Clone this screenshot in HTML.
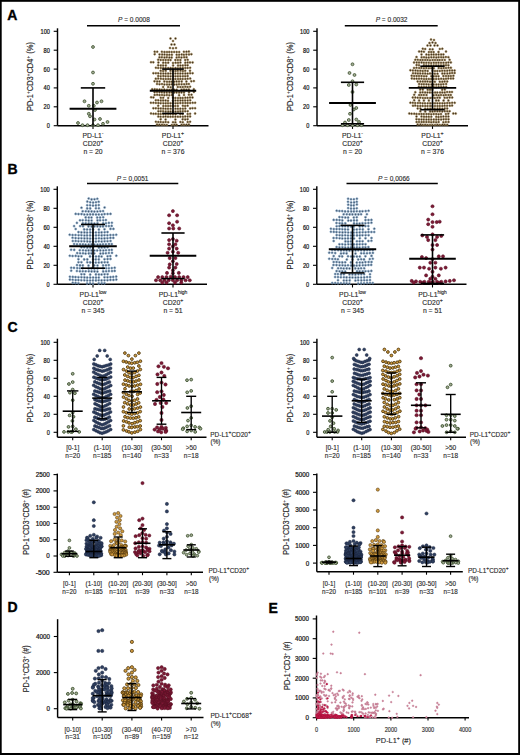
<!DOCTYPE html><html><head><meta charset="utf-8"><style>html,body{margin:0;padding:0;background:#fff;}svg{display:block;}text{font-family:"Liberation Sans", sans-serif;stroke:#2a2a2a;stroke-width:0.13px;}</style></head><body>
<svg width="520" height="755" viewBox="0 0 520 755">
<rect x="0" y="0" width="520" height="755" fill="#fff"/>
<text x="7.3" y="20.4" font-size="14" font-weight="bold" style="stroke:#000;stroke-width:0.35" fill="#000">A</text>
<line x1="57.5" y1="28.3" x2="57.5" y2="125.7" stroke="#000" stroke-width="1.45"/>
<line x1="53.7" y1="125.7" x2="57.5" y2="125.7" stroke="#000" stroke-width="1.1"/>
<text x="49.9" y="128.1" font-size="6.8" text-anchor="end" textLength="3.1" lengthAdjust="spacingAndGlyphs" style="stroke:#141414;stroke-width:0.22" fill="#141414">0</text>
<line x1="53.7" y1="106.8" x2="57.5" y2="106.8" stroke="#000" stroke-width="1.1"/>
<text x="49.9" y="109.2" font-size="6.8" text-anchor="end" textLength="6.3" lengthAdjust="spacingAndGlyphs" style="stroke:#141414;stroke-width:0.22" fill="#141414">20</text>
<line x1="53.7" y1="87.9" x2="57.5" y2="87.9" stroke="#000" stroke-width="1.1"/>
<text x="49.9" y="90.3" font-size="6.8" text-anchor="end" textLength="6.3" lengthAdjust="spacingAndGlyphs" style="stroke:#141414;stroke-width:0.22" fill="#141414">40</text>
<line x1="53.7" y1="69.1" x2="57.5" y2="69.1" stroke="#000" stroke-width="1.1"/>
<text x="49.9" y="71.5" font-size="6.8" text-anchor="end" textLength="6.3" lengthAdjust="spacingAndGlyphs" style="stroke:#141414;stroke-width:0.22" fill="#141414">60</text>
<line x1="53.7" y1="50.2" x2="57.5" y2="50.2" stroke="#000" stroke-width="1.1"/>
<text x="49.9" y="52.6" font-size="6.8" text-anchor="end" textLength="6.3" lengthAdjust="spacingAndGlyphs" style="stroke:#141414;stroke-width:0.22" fill="#141414">80</text>
<line x1="53.7" y1="31.3" x2="57.5" y2="31.3" stroke="#000" stroke-width="1.1"/>
<text x="49.9" y="33.7" font-size="6.8" text-anchor="end" textLength="9.4" lengthAdjust="spacingAndGlyphs" style="stroke:#141414;stroke-width:0.22" fill="#141414">100</text>
<line x1="57.5" y1="125.7" x2="208.5" y2="125.7" stroke="#000" stroke-width="1.45"/>
<line x1="93" y1="125.7" x2="93" y2="128.9" stroke="#000" stroke-width="1.1"/>
<line x1="173" y1="125.7" x2="173" y2="128.9" stroke="#000" stroke-width="1.1"/>
<text transform="translate(33.3,76.6) rotate(-90)" font-size="8.5" text-anchor="middle" fill="#1e1e1e" textLength="69" lengthAdjust="spacingAndGlyphs">PD-1<tspan baseline-shift="3.2" font-size="5.2">+</tspan>CD3<tspan baseline-shift="3.2" font-size="5.2">+</tspan>CD4<tspan baseline-shift="3.2" font-size="5.2">+</tspan> (%)</text>
<line x1="87" y1="25.7" x2="180" y2="25.7" stroke="#000" stroke-width="1.5"/>
<text x="133.9" y="22" font-size="7" text-anchor="middle" fill="#2a2a2a" textLength="31.8" lengthAdjust="spacingAndGlyphs"><tspan font-style="italic">P</tspan> = 0.0008</text>
<g fill="#a2ad94" stroke="#384b29" stroke-width="0.75"><circle cx="93" cy="47" r="1.45"/><circle cx="93" cy="72.5" r="1.45"/><circle cx="93" cy="83.8" r="1.45"/><circle cx="84.5" cy="101.3" r="1.45"/><circle cx="97" cy="102.5" r="1.45"/><circle cx="101.5" cy="101.3" r="1.45"/><circle cx="88.8" cy="105.8" r="1.45"/><circle cx="93.8" cy="105.8" r="1.45"/><circle cx="95" cy="110" r="1.45"/><circle cx="88.8" cy="113.8" r="1.45"/><circle cx="90" cy="116.3" r="1.45"/><circle cx="94.5" cy="119.5" r="1.45"/><circle cx="78" cy="123" r="1.45"/><circle cx="107.5" cy="122" r="1.45"/><circle cx="103" cy="123.8" r="1.45"/><circle cx="82.5" cy="125.2" r="1.45"/><circle cx="87.5" cy="125.2" r="1.45"/><circle cx="93" cy="125.2" r="1.45"/><circle cx="98" cy="125.2" r="1.45"/><circle cx="100" cy="119" r="1.45"/></g>
<g fill="#3a2f23" stroke="#9e804a" stroke-width="0.55"><circle cx="157" cy="124.6" r="1.0"/><circle cx="159.4" cy="124.7" r="1.0"/><circle cx="162" cy="124.7" r="1.0"/><circle cx="164.4" cy="124.9" r="1.0"/><circle cx="166.8" cy="124.9" r="1.0"/><circle cx="171.8" cy="125" r="1.0"/><circle cx="174.3" cy="124.8" r="1.0"/><circle cx="176.6" cy="124.8" r="1.0"/><circle cx="181.6" cy="124.8" r="1.0"/><circle cx="184" cy="124.7" r="1.0"/><circle cx="186.4" cy="124.7" r="1.0"/><circle cx="188.9" cy="124.6" r="1.0"/><circle cx="155.9" cy="121.8" r="1.0"/><circle cx="158.3" cy="122" r="1.0"/><circle cx="160.7" cy="122.1" r="1.0"/><circle cx="163.2" cy="122.2" r="1.0"/><circle cx="165.6" cy="122" r="1.0"/><circle cx="168.2" cy="122.2" r="1.0"/><circle cx="173" cy="122.2" r="1.0"/><circle cx="175.4" cy="122.3" r="1.0"/><circle cx="180.4" cy="122" r="1.0"/><circle cx="182.8" cy="122.2" r="1.0"/><circle cx="187.7" cy="122" r="1.0"/><circle cx="190.1" cy="121.8" r="1.0"/><circle cx="160.7" cy="119.3" r="1.0"/><circle cx="165.6" cy="119.5" r="1.0"/><circle cx="175.4" cy="119.5" r="1.0"/><circle cx="182.7" cy="119.3" r="1.0"/><circle cx="185.2" cy="119.4" r="1.0"/><circle cx="187.6" cy="119.2" r="1.0"/><circle cx="158.3" cy="116.6" r="1.0"/><circle cx="160.6" cy="116.7" r="1.0"/><circle cx="163.3" cy="116.8" r="1.0"/><circle cx="165.6" cy="116.6" r="1.0"/><circle cx="168" cy="116.7" r="1.0"/><circle cx="170.5" cy="116.8" r="1.0"/><circle cx="172.9" cy="116.7" r="1.0"/><circle cx="175.4" cy="116.7" r="1.0"/><circle cx="177.9" cy="116.7" r="1.0"/><circle cx="180.3" cy="116.7" r="1.0"/><circle cx="182.9" cy="116.8" r="1.0"/><circle cx="185.2" cy="116.5" r="1.0"/><circle cx="187.7" cy="116.5" r="1.0"/><circle cx="190.1" cy="116.4" r="1.0"/><circle cx="151" cy="113.4" r="1.0"/><circle cx="153.5" cy="113.8" r="1.0"/><circle cx="155.8" cy="113.7" r="1.0"/><circle cx="158.4" cy="113.9" r="1.0"/><circle cx="160.7" cy="113.9" r="1.0"/><circle cx="163.3" cy="114.1" r="1.0"/><circle cx="165.7" cy="114.1" r="1.0"/><circle cx="168.1" cy="114" r="1.0"/><circle cx="170.4" cy="114" r="1.0"/><circle cx="173" cy="114.2" r="1.0"/><circle cx="175.6" cy="114.2" r="1.0"/><circle cx="180.3" cy="114" r="1.0"/><circle cx="182.7" cy="114" r="1.0"/><circle cx="187.7" cy="113.9" r="1.0"/><circle cx="190.1" cy="113.8" r="1.0"/><circle cx="195.1" cy="113.5" r="1.0"/><circle cx="158.4" cy="111.3" r="1.0"/><circle cx="160.7" cy="111.3" r="1.0"/><circle cx="163.1" cy="111.2" r="1.0"/><circle cx="165.7" cy="111.4" r="1.0"/><circle cx="168.2" cy="111.5" r="1.0"/><circle cx="170.5" cy="111.4" r="1.0"/><circle cx="172.9" cy="111.5" r="1.0"/><circle cx="175.5" cy="111.5" r="1.0"/><circle cx="178" cy="111.5" r="1.0"/><circle cx="180.3" cy="111.3" r="1.0"/><circle cx="182.8" cy="111.2" r="1.0"/><circle cx="185.2" cy="111.3" r="1.0"/><circle cx="187.7" cy="111.2" r="1.0"/><circle cx="153.4" cy="108.3" r="1.0"/><circle cx="155.8" cy="108.3" r="1.0"/><circle cx="158.4" cy="108.4" r="1.0"/><circle cx="160.8" cy="108.5" r="1.0"/><circle cx="163.2" cy="108.6" r="1.0"/><circle cx="165.6" cy="108.7" r="1.0"/><circle cx="168" cy="108.7" r="1.0"/><circle cx="170.6" cy="108.8" r="1.0"/><circle cx="175.5" cy="108.7" r="1.0"/><circle cx="177.9" cy="108.7" r="1.0"/><circle cx="180.3" cy="108.7" r="1.0"/><circle cx="182.9" cy="108.7" r="1.0"/><circle cx="185.3" cy="108.6" r="1.0"/><circle cx="190.1" cy="108.4" r="1.0"/><circle cx="192.5" cy="108.2" r="1.0"/><circle cx="195.1" cy="108.2" r="1.0"/><circle cx="158.2" cy="105.8" r="1.0"/><circle cx="163.3" cy="105.9" r="1.0"/><circle cx="165.8" cy="106" r="1.0"/><circle cx="168.1" cy="106" r="1.0"/><circle cx="170.5" cy="105.9" r="1.0"/><circle cx="172.9" cy="106" r="1.0"/><circle cx="175.3" cy="106" r="1.0"/><circle cx="177.9" cy="105.9" r="1.0"/><circle cx="182.9" cy="105.8" r="1.0"/><circle cx="185.1" cy="105.9" r="1.0"/><circle cx="187.6" cy="105.7" r="1.0"/><circle cx="150.9" cy="102.8" r="1.0"/><circle cx="153.4" cy="102.8" r="1.0"/><circle cx="155.9" cy="102.9" r="1.0"/><circle cx="158.4" cy="103.1" r="1.0"/><circle cx="160.7" cy="103.2" r="1.0"/><circle cx="163.3" cy="103.2" r="1.0"/><circle cx="165.7" cy="103.3" r="1.0"/><circle cx="168" cy="103.3" r="1.0"/><circle cx="170.5" cy="103.2" r="1.0"/><circle cx="172.9" cy="103.3" r="1.0"/><circle cx="175.5" cy="103.2" r="1.0"/><circle cx="177.8" cy="103.2" r="1.0"/><circle cx="180.3" cy="103.1" r="1.0"/><circle cx="182.8" cy="103.1" r="1.0"/><circle cx="185.4" cy="103" r="1.0"/><circle cx="187.7" cy="103.1" r="1.0"/><circle cx="190.1" cy="103" r="1.0"/><circle cx="192.7" cy="102.8" r="1.0"/><circle cx="195.1" cy="102.8" r="1.0"/><circle cx="155.8" cy="100.2" r="1.0"/><circle cx="158.2" cy="100.3" r="1.0"/><circle cx="160.8" cy="100.5" r="1.0"/><circle cx="163.1" cy="100.4" r="1.0"/><circle cx="165.6" cy="100.5" r="1.0"/><circle cx="168" cy="100.7" r="1.0"/><circle cx="172.9" cy="100.7" r="1.0"/><circle cx="175.4" cy="100.5" r="1.0"/><circle cx="177.9" cy="100.6" r="1.0"/><circle cx="180.4" cy="100.4" r="1.0"/><circle cx="182.7" cy="100.5" r="1.0"/><circle cx="185.1" cy="100.4" r="1.0"/><circle cx="187.7" cy="100.4" r="1.0"/><circle cx="190.2" cy="100.3" r="1.0"/><circle cx="151.1" cy="97.3" r="1.0"/><circle cx="153.4" cy="97.4" r="1.0"/><circle cx="160.8" cy="97.8" r="1.0"/><circle cx="163.2" cy="97.8" r="1.0"/><circle cx="168.2" cy="97.9" r="1.0"/><circle cx="173" cy="97.8" r="1.0"/><circle cx="175.4" cy="97.9" r="1.0"/><circle cx="178" cy="97.9" r="1.0"/><circle cx="180.4" cy="97.9" r="1.0"/><circle cx="182.7" cy="97.9" r="1.0"/><circle cx="185.3" cy="97.7" r="1.0"/><circle cx="187.6" cy="97.7" r="1.0"/><circle cx="190" cy="97.5" r="1.0"/><circle cx="192.5" cy="97.5" r="1.0"/><circle cx="154.7" cy="94.9" r="1.0"/><circle cx="157.1" cy="94.8" r="1.0"/><circle cx="159.5" cy="95.1" r="1.0"/><circle cx="162" cy="94.9" r="1.0"/><circle cx="164.4" cy="95.2" r="1.0"/><circle cx="166.9" cy="95.1" r="1.0"/><circle cx="169.3" cy="95.2" r="1.0"/><circle cx="171.9" cy="95.1" r="1.0"/><circle cx="179.1" cy="95.2" r="1.0"/><circle cx="184" cy="95" r="1.0"/><circle cx="188.9" cy="94.8" r="1.0"/><circle cx="191.5" cy="94.7" r="1.0"/><circle cx="154.6" cy="92.2" r="1.0"/><circle cx="157" cy="92.1" r="1.0"/><circle cx="159.5" cy="92.2" r="1.0"/><circle cx="161.9" cy="92.3" r="1.0"/><circle cx="164.3" cy="92.5" r="1.0"/><circle cx="166.8" cy="92.6" r="1.0"/><circle cx="169.4" cy="92.4" r="1.0"/><circle cx="171.7" cy="92.6" r="1.0"/><circle cx="174.2" cy="92.5" r="1.0"/><circle cx="176.6" cy="92.4" r="1.0"/><circle cx="179.1" cy="92.6" r="1.0"/><circle cx="181.5" cy="92.4" r="1.0"/><circle cx="184" cy="92.5" r="1.0"/><circle cx="189" cy="92.3" r="1.0"/><circle cx="193.9" cy="91.9" r="1.0"/><circle cx="152.2" cy="89.3" r="1.0"/><circle cx="154.7" cy="89.3" r="1.0"/><circle cx="157" cy="89.5" r="1.0"/><circle cx="159.6" cy="89.5" r="1.0"/><circle cx="161.9" cy="89.7" r="1.0"/><circle cx="164.3" cy="89.6" r="1.0"/><circle cx="167" cy="89.8" r="1.0"/><circle cx="169.4" cy="89.9" r="1.0"/><circle cx="171.7" cy="89.7" r="1.0"/><circle cx="174.2" cy="89.7" r="1.0"/><circle cx="176.6" cy="89.8" r="1.0"/><circle cx="181.6" cy="89.7" r="1.0"/><circle cx="184" cy="89.6" r="1.0"/><circle cx="186.4" cy="89.7" r="1.0"/><circle cx="188.9" cy="89.5" r="1.0"/><circle cx="193.8" cy="89.2" r="1.0"/><circle cx="163.1" cy="87" r="1.0"/><circle cx="168.1" cy="87" r="1.0"/><circle cx="170.7" cy="87.2" r="1.0"/><circle cx="177.8" cy="87" r="1.0"/><circle cx="180.4" cy="87.1" r="1.0"/><circle cx="182.8" cy="87.1" r="1.0"/><circle cx="185.3" cy="86.8" r="1.0"/><circle cx="187.6" cy="87" r="1.0"/><circle cx="190.1" cy="86.7" r="1.0"/><circle cx="157" cy="84" r="1.0"/><circle cx="159.5" cy="84.2" r="1.0"/><circle cx="162" cy="84.1" r="1.0"/><circle cx="164.4" cy="84.4" r="1.0"/><circle cx="167" cy="84.4" r="1.0"/><circle cx="169.3" cy="84.5" r="1.0"/><circle cx="171.7" cy="84.3" r="1.0"/><circle cx="174.3" cy="84.4" r="1.0"/><circle cx="176.7" cy="84.5" r="1.0"/><circle cx="179" cy="84.3" r="1.0"/><circle cx="181.6" cy="84.2" r="1.0"/><circle cx="184.1" cy="84.3" r="1.0"/><circle cx="186.6" cy="84.1" r="1.0"/><circle cx="188.9" cy="84" r="1.0"/><circle cx="154.5" cy="81.3" r="1.0"/><circle cx="157.1" cy="81.5" r="1.0"/><circle cx="159.5" cy="81.4" r="1.0"/><circle cx="164.3" cy="81.5" r="1.0"/><circle cx="167" cy="81.7" r="1.0"/><circle cx="169.4" cy="81.8" r="1.0"/><circle cx="171.7" cy="81.8" r="1.0"/><circle cx="174.1" cy="81.7" r="1.0"/><circle cx="176.6" cy="81.6" r="1.0"/><circle cx="179" cy="81.6" r="1.0"/><circle cx="181.7" cy="81.5" r="1.0"/><circle cx="186.4" cy="81.6" r="1.0"/><circle cx="191.3" cy="81.3" r="1.0"/><circle cx="193.9" cy="81.1" r="1.0"/><circle cx="155.8" cy="78.7" r="1.0"/><circle cx="158.2" cy="78.6" r="1.0"/><circle cx="160.9" cy="78.8" r="1.0"/><circle cx="163.3" cy="78.9" r="1.0"/><circle cx="165.8" cy="79" r="1.0"/><circle cx="168.2" cy="78.9" r="1.0"/><circle cx="170.4" cy="79.1" r="1.0"/><circle cx="173" cy="79.1" r="1.0"/><circle cx="175.4" cy="79" r="1.0"/><circle cx="178" cy="78.9" r="1.0"/><circle cx="180.3" cy="78.9" r="1.0"/><circle cx="182.7" cy="79" r="1.0"/><circle cx="185.3" cy="78.9" r="1.0"/><circle cx="187.7" cy="78.7" r="1.0"/><circle cx="190.2" cy="78.6" r="1.0"/><circle cx="158.2" cy="75.9" r="1.0"/><circle cx="160.7" cy="76.2" r="1.0"/><circle cx="163.3" cy="76.1" r="1.0"/><circle cx="165.6" cy="76.2" r="1.0"/><circle cx="168.1" cy="76.2" r="1.0"/><circle cx="170.6" cy="76.3" r="1.0"/><circle cx="173.1" cy="76.3" r="1.0"/><circle cx="175.5" cy="76.2" r="1.0"/><circle cx="177.9" cy="76.3" r="1.0"/><circle cx="180.3" cy="76.2" r="1.0"/><circle cx="182.9" cy="76.2" r="1.0"/><circle cx="185.2" cy="76.2" r="1.0"/><circle cx="187.6" cy="76.1" r="1.0"/><circle cx="153.4" cy="73.2" r="1.0"/><circle cx="155.9" cy="73.2" r="1.0"/><circle cx="158.2" cy="73.3" r="1.0"/><circle cx="160.8" cy="73.5" r="1.0"/><circle cx="163.3" cy="73.5" r="1.0"/><circle cx="165.7" cy="73.6" r="1.0"/><circle cx="168.1" cy="73.6" r="1.0"/><circle cx="170.5" cy="73.5" r="1.0"/><circle cx="172.9" cy="73.6" r="1.0"/><circle cx="175.4" cy="73.5" r="1.0"/><circle cx="177.9" cy="73.5" r="1.0"/><circle cx="180.3" cy="73.6" r="1.0"/><circle cx="182.7" cy="73.4" r="1.0"/><circle cx="185.3" cy="73.5" r="1.0"/><circle cx="187.6" cy="73.4" r="1.0"/><circle cx="190.1" cy="73.2" r="1.0"/><circle cx="192.6" cy="73.2" r="1.0"/><circle cx="160.7" cy="70.8" r="1.0"/><circle cx="163.1" cy="70.9" r="1.0"/><circle cx="165.7" cy="70.8" r="1.0"/><circle cx="170.5" cy="70.8" r="1.0"/><circle cx="173" cy="71" r="1.0"/><circle cx="175.5" cy="70.9" r="1.0"/><circle cx="177.8" cy="70.8" r="1.0"/><circle cx="180.5" cy="70.7" r="1.0"/><circle cx="182.9" cy="70.9" r="1.0"/><circle cx="185.2" cy="70.8" r="1.0"/><circle cx="190" cy="70.7" r="1.0"/><circle cx="155.9" cy="67.8" r="1.0"/><circle cx="158.2" cy="67.9" r="1.0"/><circle cx="160.8" cy="68" r="1.0"/><circle cx="163.2" cy="68.1" r="1.0"/><circle cx="165.6" cy="68.1" r="1.0"/><circle cx="168.2" cy="68.1" r="1.0"/><circle cx="170.6" cy="68.1" r="1.0"/><circle cx="172.9" cy="68.2" r="1.0"/><circle cx="175.5" cy="68.1" r="1.0"/><circle cx="177.9" cy="68.2" r="1.0"/><circle cx="180.3" cy="68.1" r="1.0"/><circle cx="182.8" cy="68.1" r="1.0"/><circle cx="185.3" cy="68.1" r="1.0"/><circle cx="187.6" cy="67.9" r="1.0"/><circle cx="190.1" cy="67.8" r="1.0"/><circle cx="158.2" cy="65.3" r="1.0"/><circle cx="160.8" cy="65.4" r="1.0"/><circle cx="163.1" cy="65.4" r="1.0"/><circle cx="165.8" cy="65.4" r="1.0"/><circle cx="173.1" cy="65.4" r="1.0"/><circle cx="178" cy="65.6" r="1.0"/><circle cx="180.4" cy="65.5" r="1.0"/><circle cx="182.8" cy="65.5" r="1.0"/><circle cx="185.3" cy="65.3" r="1.0"/><circle cx="187.6" cy="65.3" r="1.0"/><circle cx="151" cy="62.2" r="1.0"/><circle cx="153.3" cy="62.3" r="1.0"/><circle cx="158.4" cy="62.5" r="1.0"/><circle cx="163.2" cy="62.7" r="1.0"/><circle cx="165.7" cy="62.8" r="1.0"/><circle cx="168.2" cy="62.7" r="1.0"/><circle cx="173" cy="62.9" r="1.0"/><circle cx="175.6" cy="62.8" r="1.0"/><circle cx="178" cy="62.8" r="1.0"/><circle cx="180.4" cy="62.6" r="1.0"/><circle cx="185.3" cy="62.7" r="1.0"/><circle cx="187.7" cy="62.5" r="1.0"/><circle cx="190" cy="62.4" r="1.0"/><circle cx="192.6" cy="62.4" r="1.0"/><circle cx="158.2" cy="59.7" r="1.0"/><circle cx="160.7" cy="59.9" r="1.0"/><circle cx="163.2" cy="60" r="1.0"/><circle cx="165.7" cy="60" r="1.0"/><circle cx="168.2" cy="60" r="1.0"/><circle cx="170.5" cy="60.1" r="1.0"/><circle cx="175.4" cy="60" r="1.0"/><circle cx="177.9" cy="60.1" r="1.0"/><circle cx="180.4" cy="60" r="1.0"/><circle cx="185.2" cy="60" r="1.0"/><circle cx="187.7" cy="59.8" r="1.0"/><circle cx="159.5" cy="57.3" r="1.0"/><circle cx="161.9" cy="57.3" r="1.0"/><circle cx="164.5" cy="57.4" r="1.0"/><circle cx="166.8" cy="57.3" r="1.0"/><circle cx="169.4" cy="57.5" r="1.0"/><circle cx="171.7" cy="57.5" r="1.0"/><circle cx="176.7" cy="57.4" r="1.0"/><circle cx="179" cy="57.3" r="1.0"/><circle cx="181.5" cy="57.4" r="1.0"/><circle cx="184.1" cy="57.3" r="1.0"/><circle cx="186.5" cy="57.2" r="1.0"/><circle cx="154.7" cy="54.2" r="1.0"/><circle cx="159.5" cy="54.4" r="1.0"/><circle cx="162.1" cy="54.6" r="1.0"/><circle cx="164.5" cy="54.6" r="1.0"/><circle cx="167" cy="54.7" r="1.0"/><circle cx="169.4" cy="54.8" r="1.0"/><circle cx="171.9" cy="54.7" r="1.0"/><circle cx="176.7" cy="54.7" r="1.0"/><circle cx="179.1" cy="54.7" r="1.0"/><circle cx="181.7" cy="54.5" r="1.0"/><circle cx="183.9" cy="54.7" r="1.0"/><circle cx="186.4" cy="54.4" r="1.0"/><circle cx="189" cy="54.4" r="1.0"/><circle cx="191.4" cy="54.2" r="1.0"/><circle cx="154.7" cy="51.7" r="1.0"/><circle cx="157.2" cy="51.8" r="1.0"/><circle cx="161.9" cy="51.8" r="1.0"/><circle cx="164.5" cy="52" r="1.0"/><circle cx="167" cy="52" r="1.0"/><circle cx="169.2" cy="51.9" r="1.0"/><circle cx="171.7" cy="52" r="1.0"/><circle cx="174.1" cy="51.9" r="1.0"/><circle cx="176.7" cy="52" r="1.0"/><circle cx="179.2" cy="52" r="1.0"/><circle cx="183.9" cy="51.8" r="1.0"/><circle cx="186.5" cy="51.7" r="1.0"/><circle cx="188.9" cy="51.6" r="1.0"/><circle cx="170.5" cy="38.5" r="1.0"/><circle cx="175.5" cy="38.5" r="1.0"/><circle cx="173" cy="41" r="1.0"/><circle cx="171.5" cy="44.5" r="1.0"/><circle cx="174.5" cy="44.5" r="1.0"/><circle cx="170" cy="48" r="1.0"/><circle cx="173" cy="48.3" r="1.0"/><circle cx="176" cy="48" r="1.0"/></g>
<line x1="93" y1="87.9" x2="93" y2="125.7" stroke="#000" stroke-width="1.6"/>
<line x1="80.8" y1="87.9" x2="105.2" y2="87.9" stroke="#000" stroke-width="1.6"/>
<line x1="69.6" y1="108.7" x2="116.4" y2="108.7" stroke="#000" stroke-width="1.9"/>
<line x1="173" y1="69.1" x2="173" y2="113.4" stroke="#000" stroke-width="1.6"/>
<line x1="162.2" y1="69.1" x2="183.8" y2="69.1" stroke="#000" stroke-width="1.6"/>
<line x1="162.2" y1="113.4" x2="183.8" y2="113.4" stroke="#000" stroke-width="1.6"/>
<line x1="149.8" y1="90.8" x2="196.2" y2="90.8" stroke="#000" stroke-width="1.9"/>
<text x="93" y="138.3" font-size="6.8" text-anchor="middle" fill="#2a2a2a">PD-L1<tspan baseline-shift="3.0" font-size="5.2">-</tspan></text>
<text x="93" y="146.3" font-size="6.8" text-anchor="middle" fill="#2a2a2a">CD20<tspan baseline-shift="3.2" font-size="5.2">+</tspan></text>
<text x="93" y="154.3" font-size="6.8" text-anchor="middle" fill="#2a2a2a">n = 20</text>
<text x="173" y="138.3" font-size="6.8" text-anchor="middle" fill="#2a2a2a">PD-L1<tspan baseline-shift="3.2" font-size="5.2">+</tspan></text>
<text x="173" y="146.3" font-size="6.8" text-anchor="middle" fill="#2a2a2a">CD20<tspan baseline-shift="3.2" font-size="5.2">+</tspan></text>
<text x="173" y="154.3" font-size="6.8" text-anchor="middle" fill="#2a2a2a">n = 376</text>
<line x1="317" y1="28.3" x2="317" y2="125.7" stroke="#000" stroke-width="1.45"/>
<line x1="313.2" y1="125.7" x2="317" y2="125.7" stroke="#000" stroke-width="1.1"/>
<text x="309.4" y="128.1" font-size="6.8" text-anchor="end" textLength="3.1" lengthAdjust="spacingAndGlyphs" style="stroke:#141414;stroke-width:0.22" fill="#141414">0</text>
<line x1="313.2" y1="106.8" x2="317" y2="106.8" stroke="#000" stroke-width="1.1"/>
<text x="309.4" y="109.2" font-size="6.8" text-anchor="end" textLength="6.3" lengthAdjust="spacingAndGlyphs" style="stroke:#141414;stroke-width:0.22" fill="#141414">20</text>
<line x1="313.2" y1="87.9" x2="317" y2="87.9" stroke="#000" stroke-width="1.1"/>
<text x="309.4" y="90.3" font-size="6.8" text-anchor="end" textLength="6.3" lengthAdjust="spacingAndGlyphs" style="stroke:#141414;stroke-width:0.22" fill="#141414">40</text>
<line x1="313.2" y1="69.1" x2="317" y2="69.1" stroke="#000" stroke-width="1.1"/>
<text x="309.4" y="71.5" font-size="6.8" text-anchor="end" textLength="6.3" lengthAdjust="spacingAndGlyphs" style="stroke:#141414;stroke-width:0.22" fill="#141414">60</text>
<line x1="313.2" y1="50.2" x2="317" y2="50.2" stroke="#000" stroke-width="1.1"/>
<text x="309.4" y="52.6" font-size="6.8" text-anchor="end" textLength="6.3" lengthAdjust="spacingAndGlyphs" style="stroke:#141414;stroke-width:0.22" fill="#141414">80</text>
<line x1="313.2" y1="31.3" x2="317" y2="31.3" stroke="#000" stroke-width="1.1"/>
<text x="309.4" y="33.7" font-size="6.8" text-anchor="end" textLength="9.4" lengthAdjust="spacingAndGlyphs" style="stroke:#141414;stroke-width:0.22" fill="#141414">100</text>
<line x1="317" y1="125.7" x2="468" y2="125.7" stroke="#000" stroke-width="1.45"/>
<line x1="352.5" y1="125.7" x2="352.5" y2="128.9" stroke="#000" stroke-width="1.1"/>
<line x1="432.5" y1="125.7" x2="432.5" y2="128.9" stroke="#000" stroke-width="1.1"/>
<text transform="translate(292.8,76.6) rotate(-90)" font-size="8.5" text-anchor="middle" fill="#1e1e1e" textLength="69" lengthAdjust="spacingAndGlyphs">PD-1<tspan baseline-shift="3.2" font-size="5.2">+</tspan>CD3<tspan baseline-shift="3.2" font-size="5.2">+</tspan>CD8<tspan baseline-shift="3.2" font-size="5.2">+</tspan> (%)</text>
<line x1="344.8" y1="25.7" x2="437.7" y2="25.7" stroke="#000" stroke-width="1.5"/>
<text x="391.6" y="22" font-size="7" text-anchor="middle" fill="#2a2a2a" textLength="31.8" lengthAdjust="spacingAndGlyphs"><tspan font-style="italic">P</tspan> = 0.0032</text>
<g fill="#a2ad94" stroke="#384b29" stroke-width="0.75"><circle cx="352.5" cy="64.3" r="1.45"/><circle cx="349.5" cy="73" r="1.45"/><circle cx="354.5" cy="75" r="1.45"/><circle cx="348.8" cy="85" r="1.45"/><circle cx="356.3" cy="84.5" r="1.45"/><circle cx="352.5" cy="81.3" r="1.45"/><circle cx="352.5" cy="92" r="1.45"/><circle cx="350.5" cy="105" r="1.45"/><circle cx="356.3" cy="108" r="1.45"/><circle cx="353.8" cy="109.5" r="1.45"/><circle cx="350" cy="113.8" r="1.45"/><circle cx="348.8" cy="120" r="1.45"/><circle cx="356.3" cy="119.5" r="1.45"/><circle cx="345" cy="122.5" r="1.45"/><circle cx="342.5" cy="125.2" r="1.45"/><circle cx="347.5" cy="125.2" r="1.45"/><circle cx="352.5" cy="125.2" r="1.45"/><circle cx="357.5" cy="125.2" r="1.45"/><circle cx="361.5" cy="125.2" r="1.45"/><circle cx="359" cy="122" r="1.45"/></g>
<g fill="#3a2f23" stroke="#9e804a" stroke-width="0.55"><circle cx="417.7" cy="124.6" r="1.0"/><circle cx="420.4" cy="124.6" r="1.0"/><circle cx="422.7" cy="124.9" r="1.0"/><circle cx="425.1" cy="124.8" r="1.0"/><circle cx="427.5" cy="125" r="1.0"/><circle cx="430" cy="124.9" r="1.0"/><circle cx="432.4" cy="124.9" r="1.0"/><circle cx="435" cy="124.9" r="1.0"/><circle cx="437.4" cy="124.8" r="1.0"/><circle cx="439.8" cy="124.9" r="1.0"/><circle cx="442.4" cy="124.7" r="1.0"/><circle cx="444.7" cy="124.8" r="1.0"/><circle cx="447.2" cy="124.8" r="1.0"/><circle cx="416.6" cy="122" r="1.0"/><circle cx="419" cy="122" r="1.0"/><circle cx="421.6" cy="122.1" r="1.0"/><circle cx="423.8" cy="122.1" r="1.0"/><circle cx="426.4" cy="122.1" r="1.0"/><circle cx="428.9" cy="122.1" r="1.0"/><circle cx="431.2" cy="122.2" r="1.0"/><circle cx="433.6" cy="122.1" r="1.0"/><circle cx="436.1" cy="122.2" r="1.0"/><circle cx="438.6" cy="122.1" r="1.0"/><circle cx="443.4" cy="122.2" r="1.0"/><circle cx="445.9" cy="122.1" r="1.0"/><circle cx="448.5" cy="121.9" r="1.0"/><circle cx="416.5" cy="119.2" r="1.0"/><circle cx="419" cy="119.4" r="1.0"/><circle cx="421.5" cy="119.4" r="1.0"/><circle cx="423.8" cy="119.4" r="1.0"/><circle cx="426.4" cy="119.6" r="1.0"/><circle cx="428.8" cy="119.5" r="1.0"/><circle cx="431.2" cy="119.6" r="1.0"/><circle cx="433.8" cy="119.5" r="1.0"/><circle cx="436.2" cy="119.5" r="1.0"/><circle cx="438.6" cy="119.5" r="1.0"/><circle cx="441.1" cy="119.5" r="1.0"/><circle cx="443.6" cy="119.3" r="1.0"/><circle cx="446" cy="119.3" r="1.0"/><circle cx="448.5" cy="119.3" r="1.0"/><circle cx="416.5" cy="116.5" r="1.0"/><circle cx="421.5" cy="116.6" r="1.0"/><circle cx="424" cy="116.7" r="1.0"/><circle cx="426.4" cy="116.8" r="1.0"/><circle cx="428.8" cy="116.8" r="1.0"/><circle cx="431.3" cy="116.8" r="1.0"/><circle cx="436.2" cy="116.8" r="1.0"/><circle cx="438.5" cy="116.9" r="1.0"/><circle cx="441" cy="116.7" r="1.0"/><circle cx="443.4" cy="116.6" r="1.0"/><circle cx="446" cy="116.6" r="1.0"/><circle cx="448.4" cy="116.6" r="1.0"/><circle cx="409.3" cy="113.5" r="1.0"/><circle cx="411.6" cy="113.7" r="1.0"/><circle cx="414.2" cy="113.7" r="1.0"/><circle cx="416.5" cy="113.9" r="1.0"/><circle cx="419.1" cy="114" r="1.0"/><circle cx="421.5" cy="113.9" r="1.0"/><circle cx="423.8" cy="114.1" r="1.0"/><circle cx="426.5" cy="114" r="1.0"/><circle cx="428.8" cy="114.1" r="1.0"/><circle cx="431.2" cy="114.2" r="1.0"/><circle cx="433.7" cy="114.1" r="1.0"/><circle cx="436.2" cy="114.1" r="1.0"/><circle cx="438.6" cy="114.2" r="1.0"/><circle cx="441" cy="114.1" r="1.0"/><circle cx="445.9" cy="114" r="1.0"/><circle cx="448.3" cy="113.7" r="1.0"/><circle cx="453.3" cy="113.5" r="1.0"/><circle cx="455.7" cy="113.6" r="1.0"/><circle cx="420.3" cy="111.3" r="1.0"/><circle cx="425.2" cy="111.4" r="1.0"/><circle cx="430.1" cy="111.4" r="1.0"/><circle cx="432.5" cy="111.5" r="1.0"/><circle cx="434.9" cy="111.3" r="1.0"/><circle cx="437.4" cy="111.3" r="1.0"/><circle cx="439.8" cy="111.3" r="1.0"/><circle cx="442.3" cy="111.4" r="1.0"/><circle cx="444.8" cy="111.2" r="1.0"/><circle cx="447.2" cy="111.2" r="1.0"/><circle cx="449.6" cy="111.2" r="1.0"/><circle cx="417.7" cy="108.5" r="1.0"/><circle cx="420.4" cy="108.5" r="1.0"/><circle cx="425.1" cy="108.7" r="1.0"/><circle cx="427.7" cy="108.7" r="1.0"/><circle cx="430.1" cy="108.7" r="1.0"/><circle cx="432.5" cy="108.8" r="1.0"/><circle cx="434.9" cy="108.7" r="1.0"/><circle cx="437.5" cy="108.6" r="1.0"/><circle cx="439.8" cy="108.6" r="1.0"/><circle cx="442.3" cy="108.7" r="1.0"/><circle cx="444.8" cy="108.5" r="1.0"/><circle cx="447.2" cy="108.5" r="1.0"/><circle cx="413" cy="105.7" r="1.0"/><circle cx="415.2" cy="105.6" r="1.0"/><circle cx="417.7" cy="105.9" r="1.0"/><circle cx="420.3" cy="105.9" r="1.0"/><circle cx="422.7" cy="105.9" r="1.0"/><circle cx="425.2" cy="106" r="1.0"/><circle cx="427.5" cy="106" r="1.0"/><circle cx="430.1" cy="105.9" r="1.0"/><circle cx="432.4" cy="106.1" r="1.0"/><circle cx="435" cy="106" r="1.0"/><circle cx="437.5" cy="106" r="1.0"/><circle cx="439.8" cy="105.9" r="1.0"/><circle cx="442.3" cy="105.9" r="1.0"/><circle cx="444.6" cy="105.8" r="1.0"/><circle cx="447.1" cy="105.8" r="1.0"/><circle cx="449.8" cy="105.7" r="1.0"/><circle cx="452.1" cy="105.6" r="1.0"/><circle cx="410.4" cy="102.7" r="1.0"/><circle cx="412.8" cy="102.8" r="1.0"/><circle cx="415.2" cy="103" r="1.0"/><circle cx="417.9" cy="103" r="1.0"/><circle cx="420.2" cy="103" r="1.0"/><circle cx="422.6" cy="103.2" r="1.0"/><circle cx="425" cy="103.3" r="1.0"/><circle cx="427.7" cy="103.3" r="1.0"/><circle cx="430.1" cy="103.3" r="1.0"/><circle cx="432.6" cy="103.2" r="1.0"/><circle cx="435" cy="103.2" r="1.0"/><circle cx="437.4" cy="103.3" r="1.0"/><circle cx="439.8" cy="103.3" r="1.0"/><circle cx="442.4" cy="103.2" r="1.0"/><circle cx="444.7" cy="103.2" r="1.0"/><circle cx="447.2" cy="103" r="1.0"/><circle cx="449.6" cy="103" r="1.0"/><circle cx="452.1" cy="102.8" r="1.0"/><circle cx="454.7" cy="102.8" r="1.0"/><circle cx="414.2" cy="100.3" r="1.0"/><circle cx="419.1" cy="100.5" r="1.0"/><circle cx="423.9" cy="100.5" r="1.0"/><circle cx="428.9" cy="100.6" r="1.0"/><circle cx="436.1" cy="100.5" r="1.0"/><circle cx="438.6" cy="100.6" r="1.0"/><circle cx="443.6" cy="100.5" r="1.0"/><circle cx="448.4" cy="100.4" r="1.0"/><circle cx="412.8" cy="97.5" r="1.0"/><circle cx="415.3" cy="97.6" r="1.0"/><circle cx="417.7" cy="97.7" r="1.0"/><circle cx="420.2" cy="97.7" r="1.0"/><circle cx="422.8" cy="97.9" r="1.0"/><circle cx="425.1" cy="97.9" r="1.0"/><circle cx="427.5" cy="97.9" r="1.0"/><circle cx="430.1" cy="97.9" r="1.0"/><circle cx="432.5" cy="97.8" r="1.0"/><circle cx="434.9" cy="97.9" r="1.0"/><circle cx="437.4" cy="97.8" r="1.0"/><circle cx="439.8" cy="97.7" r="1.0"/><circle cx="444.7" cy="97.8" r="1.0"/><circle cx="447.1" cy="97.7" r="1.0"/><circle cx="449.7" cy="97.5" r="1.0"/><circle cx="452.2" cy="97.6" r="1.0"/><circle cx="414.2" cy="94.8" r="1.0"/><circle cx="419.1" cy="95.1" r="1.0"/><circle cx="421.4" cy="95" r="1.0"/><circle cx="423.8" cy="95" r="1.0"/><circle cx="426.5" cy="95.1" r="1.0"/><circle cx="433.7" cy="95.2" r="1.0"/><circle cx="436.3" cy="95.1" r="1.0"/><circle cx="438.7" cy="95.3" r="1.0"/><circle cx="441" cy="95.1" r="1.0"/><circle cx="443.6" cy="95.2" r="1.0"/><circle cx="445.9" cy="94.9" r="1.0"/><circle cx="448.5" cy="95" r="1.0"/><circle cx="450.8" cy="94.9" r="1.0"/><circle cx="415.3" cy="92.2" r="1.0"/><circle cx="420.2" cy="92.4" r="1.0"/><circle cx="422.6" cy="92.3" r="1.0"/><circle cx="425.1" cy="92.4" r="1.0"/><circle cx="427.5" cy="92.4" r="1.0"/><circle cx="429.9" cy="92.5" r="1.0"/><circle cx="432.4" cy="92.6" r="1.0"/><circle cx="435.1" cy="92.6" r="1.0"/><circle cx="437.3" cy="92.5" r="1.0"/><circle cx="440" cy="92.5" r="1.0"/><circle cx="442.3" cy="92.4" r="1.0"/><circle cx="444.7" cy="92.4" r="1.0"/><circle cx="447.1" cy="92.1" r="1.0"/><circle cx="449.7" cy="92.1" r="1.0"/><circle cx="452" cy="92" r="1.0"/><circle cx="420.2" cy="89.6" r="1.0"/><circle cx="422.8" cy="89.6" r="1.0"/><circle cx="427.7" cy="89.8" r="1.0"/><circle cx="430" cy="89.7" r="1.0"/><circle cx="432.4" cy="89.8" r="1.0"/><circle cx="442.2" cy="89.8" r="1.0"/><circle cx="444.8" cy="89.6" r="1.0"/><circle cx="418.9" cy="86.8" r="1.0"/><circle cx="421.5" cy="86.9" r="1.0"/><circle cx="424" cy="86.9" r="1.0"/><circle cx="426.3" cy="87" r="1.0"/><circle cx="428.9" cy="87" r="1.0"/><circle cx="431.2" cy="87.1" r="1.0"/><circle cx="433.7" cy="87" r="1.0"/><circle cx="436.2" cy="87.2" r="1.0"/><circle cx="438.6" cy="87" r="1.0"/><circle cx="441.1" cy="87.1" r="1.0"/><circle cx="443.6" cy="86.9" r="1.0"/><circle cx="446.1" cy="86.9" r="1.0"/><circle cx="419.1" cy="84.1" r="1.0"/><circle cx="421.6" cy="84.2" r="1.0"/><circle cx="423.9" cy="84.3" r="1.0"/><circle cx="426.4" cy="84.3" r="1.0"/><circle cx="428.7" cy="84.4" r="1.0"/><circle cx="431.4" cy="84.4" r="1.0"/><circle cx="433.7" cy="84.5" r="1.0"/><circle cx="436.3" cy="84.5" r="1.0"/><circle cx="438.6" cy="84.4" r="1.0"/><circle cx="441" cy="84.4" r="1.0"/><circle cx="443.4" cy="84.2" r="1.0"/><circle cx="446.1" cy="84.1" r="1.0"/><circle cx="417.7" cy="81.5" r="1.0"/><circle cx="420.3" cy="81.6" r="1.0"/><circle cx="422.8" cy="81.6" r="1.0"/><circle cx="425.1" cy="81.6" r="1.0"/><circle cx="427.5" cy="81.6" r="1.0"/><circle cx="430" cy="81.7" r="1.0"/><circle cx="432.4" cy="81.7" r="1.0"/><circle cx="434.9" cy="81.8" r="1.0"/><circle cx="439.8" cy="81.7" r="1.0"/><circle cx="442.3" cy="81.7" r="1.0"/><circle cx="444.7" cy="81.5" r="1.0"/><circle cx="447.2" cy="81.6" r="1.0"/><circle cx="411.8" cy="78.4" r="1.0"/><circle cx="414.2" cy="78.7" r="1.0"/><circle cx="416.6" cy="78.7" r="1.0"/><circle cx="419" cy="78.7" r="1.0"/><circle cx="421.5" cy="78.7" r="1.0"/><circle cx="424" cy="79" r="1.0"/><circle cx="426.4" cy="79" r="1.0"/><circle cx="428.9" cy="78.9" r="1.0"/><circle cx="431.2" cy="79" r="1.0"/><circle cx="433.7" cy="79.1" r="1.0"/><circle cx="436.1" cy="79" r="1.0"/><circle cx="438.7" cy="78.9" r="1.0"/><circle cx="441.1" cy="78.8" r="1.0"/><circle cx="443.6" cy="78.9" r="1.0"/><circle cx="446" cy="78.8" r="1.0"/><circle cx="448.3" cy="78.6" r="1.0"/><circle cx="450.9" cy="78.6" r="1.0"/><circle cx="453.2" cy="78.5" r="1.0"/><circle cx="411.7" cy="75.7" r="1.0"/><circle cx="414.1" cy="75.9" r="1.0"/><circle cx="416.6" cy="76" r="1.0"/><circle cx="419" cy="76.1" r="1.0"/><circle cx="421.5" cy="76" r="1.0"/><circle cx="424" cy="76.2" r="1.0"/><circle cx="426.4" cy="76.2" r="1.0"/><circle cx="431.3" cy="76.2" r="1.0"/><circle cx="433.8" cy="76.3" r="1.0"/><circle cx="436.1" cy="76.3" r="1.0"/><circle cx="438.5" cy="76.2" r="1.0"/><circle cx="443.4" cy="76.1" r="1.0"/><circle cx="446" cy="76.1" r="1.0"/><circle cx="448.5" cy="76" r="1.0"/><circle cx="450.9" cy="76" r="1.0"/><circle cx="453.4" cy="75.8" r="1.0"/><circle cx="413" cy="73.2" r="1.0"/><circle cx="415.5" cy="73.3" r="1.0"/><circle cx="417.9" cy="73.4" r="1.0"/><circle cx="420.2" cy="73.4" r="1.0"/><circle cx="422.8" cy="73.4" r="1.0"/><circle cx="425.2" cy="73.5" r="1.0"/><circle cx="427.7" cy="73.7" r="1.0"/><circle cx="430" cy="73.5" r="1.0"/><circle cx="432.4" cy="73.6" r="1.0"/><circle cx="434.9" cy="73.7" r="1.0"/><circle cx="437.5" cy="73.7" r="1.0"/><circle cx="442.3" cy="73.6" r="1.0"/><circle cx="444.6" cy="73.4" r="1.0"/><circle cx="447.3" cy="73.4" r="1.0"/><circle cx="449.8" cy="73.3" r="1.0"/><circle cx="452.1" cy="73.1" r="1.0"/><circle cx="454.6" cy="73" r="1.0"/><circle cx="410.4" cy="70.3" r="1.0"/><circle cx="412.9" cy="70.5" r="1.0"/><circle cx="415.5" cy="70.6" r="1.0"/><circle cx="417.8" cy="70.8" r="1.0"/><circle cx="420.3" cy="70.8" r="1.0"/><circle cx="422.7" cy="70.9" r="1.0"/><circle cx="425.2" cy="70.7" r="1.0"/><circle cx="427.6" cy="70.9" r="1.0"/><circle cx="432.5" cy="70.8" r="1.0"/><circle cx="435" cy="70.9" r="1.0"/><circle cx="437.3" cy="70.9" r="1.0"/><circle cx="439.8" cy="71" r="1.0"/><circle cx="442.2" cy="70.8" r="1.0"/><circle cx="444.7" cy="70.8" r="1.0"/><circle cx="447.2" cy="70.7" r="1.0"/><circle cx="449.7" cy="70.5" r="1.0"/><circle cx="452.1" cy="70.4" r="1.0"/><circle cx="454.6" cy="70.5" r="1.0"/><circle cx="414" cy="67.9" r="1.0"/><circle cx="416.5" cy="67.8" r="1.0"/><circle cx="419.1" cy="68" r="1.0"/><circle cx="421.4" cy="67.9" r="1.0"/><circle cx="423.9" cy="68.2" r="1.0"/><circle cx="426.3" cy="68.1" r="1.0"/><circle cx="428.9" cy="68.2" r="1.0"/><circle cx="431.3" cy="68.2" r="1.0"/><circle cx="433.8" cy="68.2" r="1.0"/><circle cx="438.7" cy="68.1" r="1.0"/><circle cx="441.2" cy="68.2" r="1.0"/><circle cx="443.6" cy="68.1" r="1.0"/><circle cx="446" cy="68.1" r="1.0"/><circle cx="448.5" cy="67.8" r="1.0"/><circle cx="450.9" cy="67.7" r="1.0"/><circle cx="416.6" cy="65.1" r="1.0"/><circle cx="419" cy="65.2" r="1.0"/><circle cx="423.9" cy="65.3" r="1.0"/><circle cx="426.3" cy="65.4" r="1.0"/><circle cx="428.7" cy="65.6" r="1.0"/><circle cx="431.2" cy="65.4" r="1.0"/><circle cx="433.7" cy="65.4" r="1.0"/><circle cx="436.1" cy="65.4" r="1.0"/><circle cx="438.5" cy="65.4" r="1.0"/><circle cx="441" cy="65.4" r="1.0"/><circle cx="443.6" cy="65.3" r="1.0"/><circle cx="446" cy="65.3" r="1.0"/><circle cx="448.4" cy="65.3" r="1.0"/><circle cx="414" cy="62.5" r="1.0"/><circle cx="416.7" cy="62.5" r="1.0"/><circle cx="419" cy="62.6" r="1.0"/><circle cx="421.6" cy="62.6" r="1.0"/><circle cx="423.9" cy="62.7" r="1.0"/><circle cx="426.3" cy="62.8" r="1.0"/><circle cx="428.8" cy="62.8" r="1.0"/><circle cx="431.2" cy="62.9" r="1.0"/><circle cx="433.8" cy="62.7" r="1.0"/><circle cx="436.1" cy="62.8" r="1.0"/><circle cx="438.5" cy="62.7" r="1.0"/><circle cx="441" cy="62.8" r="1.0"/><circle cx="443.5" cy="62.8" r="1.0"/><circle cx="446.1" cy="62.7" r="1.0"/><circle cx="448.4" cy="62.4" r="1.0"/><circle cx="450.9" cy="62.4" r="1.0"/><circle cx="415.3" cy="59.8" r="1.0"/><circle cx="417.8" cy="59.8" r="1.0"/><circle cx="420.3" cy="60" r="1.0"/><circle cx="422.6" cy="59.9" r="1.0"/><circle cx="425.1" cy="60" r="1.0"/><circle cx="427.5" cy="60" r="1.0"/><circle cx="430" cy="60.2" r="1.0"/><circle cx="432.6" cy="60" r="1.0"/><circle cx="435" cy="60.1" r="1.0"/><circle cx="437.5" cy="60.1" r="1.0"/><circle cx="439.7" cy="60.1" r="1.0"/><circle cx="442.2" cy="59.9" r="1.0"/><circle cx="444.8" cy="59.9" r="1.0"/><circle cx="449.6" cy="59.8" r="1.0"/><circle cx="416.5" cy="57" r="1.0"/><circle cx="421.6" cy="57.3" r="1.0"/><circle cx="424" cy="57.3" r="1.0"/><circle cx="426.3" cy="57.4" r="1.0"/><circle cx="428.8" cy="57.5" r="1.0"/><circle cx="431.3" cy="57.3" r="1.0"/><circle cx="433.8" cy="57.3" r="1.0"/><circle cx="436.3" cy="57.4" r="1.0"/><circle cx="438.6" cy="57.2" r="1.0"/><circle cx="441.1" cy="57.2" r="1.0"/><circle cx="443.4" cy="57.3" r="1.0"/><circle cx="445.9" cy="57.1" r="1.0"/><circle cx="448.4" cy="57.2" r="1.0"/><circle cx="421.5" cy="54.4" r="1.0"/><circle cx="426.4" cy="54.6" r="1.0"/><circle cx="428.8" cy="54.7" r="1.0"/><circle cx="431.4" cy="54.6" r="1.0"/><circle cx="433.7" cy="54.6" r="1.0"/><circle cx="436.1" cy="54.6" r="1.0"/><circle cx="438.6" cy="54.5" r="1.0"/><circle cx="441.1" cy="54.5" r="1.0"/><circle cx="443.4" cy="54.4" r="1.0"/><circle cx="419.1" cy="51.5" r="1.0"/><circle cx="421.5" cy="51.6" r="1.0"/><circle cx="423.9" cy="51.7" r="1.0"/><circle cx="428.9" cy="52.1" r="1.0"/><circle cx="431.2" cy="51.9" r="1.0"/><circle cx="433.6" cy="52.1" r="1.0"/><circle cx="438.5" cy="51.9" r="1.0"/><circle cx="446" cy="51.6" r="1.0"/><circle cx="422.8" cy="48.7" r="1.0"/><circle cx="425.2" cy="49" r="1.0"/><circle cx="429.9" cy="49.3" r="1.0"/><circle cx="432.6" cy="49.3" r="1.0"/><circle cx="439.8" cy="48.9" r="1.0"/><circle cx="442.3" cy="48.7" r="1.0"/><circle cx="431" cy="39.5" r="1.0"/><circle cx="434" cy="40" r="1.0"/><circle cx="429.5" cy="43" r="1.0"/><circle cx="432.5" cy="42.5" r="1.0"/><circle cx="435.5" cy="43" r="1.0"/><circle cx="427.5" cy="45.5" r="1.0"/><circle cx="430.5" cy="45.5" r="1.0"/><circle cx="434.5" cy="45.5" r="1.0"/><circle cx="437.5" cy="45.5" r="1.0"/></g>
<line x1="352.5" y1="82.3" x2="352.5" y2="123.8" stroke="#000" stroke-width="1.6"/>
<line x1="340.9" y1="82.3" x2="364.1" y2="82.3" stroke="#000" stroke-width="1.6"/>
<line x1="340.9" y1="123.8" x2="364.1" y2="123.8" stroke="#000" stroke-width="1.6"/>
<line x1="329.1" y1="103" x2="375.9" y2="103" stroke="#000" stroke-width="1.9"/>
<line x1="432.5" y1="66.2" x2="432.5" y2="109.7" stroke="#000" stroke-width="1.6"/>
<line x1="420.3" y1="66.2" x2="444.7" y2="66.2" stroke="#000" stroke-width="1.6"/>
<line x1="420.3" y1="109.7" x2="444.7" y2="109.7" stroke="#000" stroke-width="1.6"/>
<line x1="408.8" y1="87.9" x2="456.2" y2="87.9" stroke="#000" stroke-width="1.9"/>
<text x="352.5" y="138.3" font-size="6.8" text-anchor="middle" fill="#2a2a2a">PD-L1<tspan baseline-shift="3.0" font-size="5.2">-</tspan></text>
<text x="352.5" y="146.3" font-size="6.8" text-anchor="middle" fill="#2a2a2a">CD20<tspan baseline-shift="3.2" font-size="5.2">+</tspan></text>
<text x="352.5" y="154.3" font-size="6.8" text-anchor="middle" fill="#2a2a2a">n = 20</text>
<text x="432.5" y="138.3" font-size="6.8" text-anchor="middle" fill="#2a2a2a">PD-L1<tspan baseline-shift="3.2" font-size="5.2">+</tspan></text>
<text x="432.5" y="146.3" font-size="6.8" text-anchor="middle" fill="#2a2a2a">CD20<tspan baseline-shift="3.2" font-size="5.2">+</tspan></text>
<text x="432.5" y="154.3" font-size="6.8" text-anchor="middle" fill="#2a2a2a">n = 376</text>
<text x="7.5" y="173.9" font-size="14" font-weight="bold" style="stroke:#000;stroke-width:0.35" fill="#000">B</text>
<line x1="57.3" y1="186.3" x2="57.3" y2="284.3" stroke="#000" stroke-width="1.45"/>
<line x1="53.5" y1="284.3" x2="57.3" y2="284.3" stroke="#000" stroke-width="1.1"/>
<text x="49.7" y="286.7" font-size="6.8" text-anchor="end" textLength="3.1" lengthAdjust="spacingAndGlyphs" style="stroke:#141414;stroke-width:0.22" fill="#141414">0</text>
<line x1="53.5" y1="265.3" x2="57.3" y2="265.3" stroke="#000" stroke-width="1.1"/>
<text x="49.7" y="267.7" font-size="6.8" text-anchor="end" textLength="6.3" lengthAdjust="spacingAndGlyphs" style="stroke:#141414;stroke-width:0.22" fill="#141414">20</text>
<line x1="53.5" y1="246.3" x2="57.3" y2="246.3" stroke="#000" stroke-width="1.1"/>
<text x="49.7" y="248.7" font-size="6.8" text-anchor="end" textLength="6.3" lengthAdjust="spacingAndGlyphs" style="stroke:#141414;stroke-width:0.22" fill="#141414">40</text>
<line x1="53.5" y1="227.3" x2="57.3" y2="227.3" stroke="#000" stroke-width="1.1"/>
<text x="49.7" y="229.7" font-size="6.8" text-anchor="end" textLength="6.3" lengthAdjust="spacingAndGlyphs" style="stroke:#141414;stroke-width:0.22" fill="#141414">60</text>
<line x1="53.5" y1="208.3" x2="57.3" y2="208.3" stroke="#000" stroke-width="1.1"/>
<text x="49.7" y="210.7" font-size="6.8" text-anchor="end" textLength="6.3" lengthAdjust="spacingAndGlyphs" style="stroke:#141414;stroke-width:0.22" fill="#141414">80</text>
<line x1="53.5" y1="189.3" x2="57.3" y2="189.3" stroke="#000" stroke-width="1.1"/>
<text x="49.7" y="191.7" font-size="6.8" text-anchor="end" textLength="9.4" lengthAdjust="spacingAndGlyphs" style="stroke:#141414;stroke-width:0.22" fill="#141414">100</text>
<line x1="57.3" y1="284.3" x2="207" y2="284.3" stroke="#000" stroke-width="1.45"/>
<line x1="93" y1="284.3" x2="93" y2="287.5" stroke="#000" stroke-width="1.1"/>
<line x1="173" y1="284.3" x2="173" y2="287.5" stroke="#000" stroke-width="1.1"/>
<text transform="translate(33.3,234.9) rotate(-90)" font-size="8.5" text-anchor="middle" fill="#1e1e1e" textLength="69" lengthAdjust="spacingAndGlyphs">PD-1<tspan baseline-shift="3.2" font-size="5.2">+</tspan>CD3<tspan baseline-shift="3.2" font-size="5.2">+</tspan>CD8<tspan baseline-shift="3.2" font-size="5.2">+</tspan> (%)</text>
<line x1="87" y1="183.6" x2="178.3" y2="183.6" stroke="#000" stroke-width="1.5"/>
<text x="132.6" y="180.5" font-size="7" text-anchor="middle" fill="#2a2a2a" textLength="31.8" lengthAdjust="spacingAndGlyphs"><tspan font-style="italic">P</tspan> = 0,0051</text>
<g fill="#46586c" stroke="#7fa4c8" stroke-width="0.6"><circle cx="72.8" cy="282.8" r="1.05"/><circle cx="75.6" cy="283" r="1.05"/><circle cx="78.4" cy="283.3" r="1.05"/><circle cx="87.1" cy="283.5" r="1.05"/><circle cx="90.1" cy="283.4" r="1.05"/><circle cx="93" cy="283.6" r="1.05"/><circle cx="98.7" cy="283.4" r="1.05"/><circle cx="101.7" cy="283.3" r="1.05"/><circle cx="104.5" cy="283.3" r="1.05"/><circle cx="69.9" cy="279.6" r="1.05"/><circle cx="72.7" cy="279.8" r="1.05"/><circle cx="75.7" cy="280.1" r="1.05"/><circle cx="78.4" cy="280.1" r="1.05"/><circle cx="81.3" cy="280.2" r="1.05"/><circle cx="84.3" cy="280.3" r="1.05"/><circle cx="87.2" cy="280.5" r="1.05"/><circle cx="90.1" cy="280.5" r="1.05"/><circle cx="92.9" cy="280.4" r="1.05"/><circle cx="95.9" cy="280.4" r="1.05"/><circle cx="98.7" cy="280.3" r="1.05"/><circle cx="101.6" cy="280.4" r="1.05"/><circle cx="104.5" cy="280.3" r="1.05"/><circle cx="107.5" cy="280.2" r="1.05"/><circle cx="110.4" cy="279.9" r="1.05"/><circle cx="113.4" cy="279.9" r="1.05"/><circle cx="116.3" cy="279.6" r="1.05"/><circle cx="69.9" cy="276.7" r="1.05"/><circle cx="72.8" cy="276.9" r="1.05"/><circle cx="75.5" cy="277.1" r="1.05"/><circle cx="78.4" cy="277.2" r="1.05"/><circle cx="81.4" cy="277.2" r="1.05"/><circle cx="84.4" cy="277.4" r="1.05"/><circle cx="87.2" cy="277.6" r="1.05"/><circle cx="90.2" cy="277.6" r="1.05"/><circle cx="93.1" cy="277.5" r="1.05"/><circle cx="96" cy="277.6" r="1.05"/><circle cx="98.8" cy="277.5" r="1.05"/><circle cx="104.5" cy="277.3" r="1.05"/><circle cx="107.5" cy="277.3" r="1.05"/><circle cx="110.5" cy="277.1" r="1.05"/><circle cx="113.2" cy="276.9" r="1.05"/><circle cx="116.2" cy="276.6" r="1.05"/><circle cx="81.4" cy="274.2" r="1.05"/><circle cx="84.3" cy="274.3" r="1.05"/><circle cx="90.2" cy="274.6" r="1.05"/><circle cx="95.9" cy="274.4" r="1.05"/><circle cx="98.9" cy="274.5" r="1.05"/><circle cx="101.6" cy="274.5" r="1.05"/><circle cx="104.6" cy="274.3" r="1.05"/><circle cx="107.6" cy="274.2" r="1.05"/><circle cx="71.2" cy="270.7" r="1.05"/><circle cx="76.9" cy="271" r="1.05"/><circle cx="79.9" cy="271.3" r="1.05"/><circle cx="82.8" cy="271.2" r="1.05"/><circle cx="85.7" cy="271.3" r="1.05"/><circle cx="88.8" cy="271.3" r="1.05"/><circle cx="91.6" cy="271.4" r="1.05"/><circle cx="94.5" cy="271.4" r="1.05"/><circle cx="97.4" cy="271.6" r="1.05"/><circle cx="103.2" cy="271.4" r="1.05"/><circle cx="106.1" cy="271.3" r="1.05"/><circle cx="108.9" cy="271.1" r="1.05"/><circle cx="112" cy="271.1" r="1.05"/><circle cx="114.7" cy="270.9" r="1.05"/><circle cx="71.2" cy="267.8" r="1.05"/><circle cx="74" cy="267.9" r="1.05"/><circle cx="77.2" cy="268.1" r="1.05"/><circle cx="79.9" cy="268.2" r="1.05"/><circle cx="82.7" cy="268.2" r="1.05"/><circle cx="88.6" cy="268.5" r="1.05"/><circle cx="91.5" cy="268.4" r="1.05"/><circle cx="94.4" cy="268.6" r="1.05"/><circle cx="97.5" cy="268.4" r="1.05"/><circle cx="103" cy="268.3" r="1.05"/><circle cx="106.2" cy="268.2" r="1.05"/><circle cx="108.9" cy="268.2" r="1.05"/><circle cx="111.8" cy="268.1" r="1.05"/><circle cx="114.7" cy="267.7" r="1.05"/><circle cx="77" cy="265.1" r="1.05"/><circle cx="80" cy="265.4" r="1.05"/><circle cx="82.8" cy="265.4" r="1.05"/><circle cx="88.5" cy="265.6" r="1.05"/><circle cx="94.3" cy="265.4" r="1.05"/><circle cx="97.5" cy="265.5" r="1.05"/><circle cx="103.1" cy="265.4" r="1.05"/><circle cx="106" cy="265.3" r="1.05"/><circle cx="108.8" cy="265.1" r="1.05"/><circle cx="78.5" cy="262.2" r="1.05"/><circle cx="81.4" cy="262.2" r="1.05"/><circle cx="87.3" cy="262.3" r="1.05"/><circle cx="90.2" cy="262.4" r="1.05"/><circle cx="92.9" cy="262.4" r="1.05"/><circle cx="95.8" cy="262.6" r="1.05"/><circle cx="98.8" cy="262.5" r="1.05"/><circle cx="101.7" cy="262.4" r="1.05"/><circle cx="104.7" cy="262.2" r="1.05"/><circle cx="107.6" cy="262.3" r="1.05"/><circle cx="78.4" cy="259.2" r="1.05"/><circle cx="84.2" cy="259.4" r="1.05"/><circle cx="87.3" cy="259.4" r="1.05"/><circle cx="93.1" cy="259.4" r="1.05"/><circle cx="95.8" cy="259.4" r="1.05"/><circle cx="98.8" cy="259.4" r="1.05"/><circle cx="104.5" cy="259.2" r="1.05"/><circle cx="107.6" cy="259.1" r="1.05"/><circle cx="110.5" cy="259" r="1.05"/><circle cx="69.8" cy="255.8" r="1.05"/><circle cx="72.6" cy="256" r="1.05"/><circle cx="75.7" cy="255.9" r="1.05"/><circle cx="78.5" cy="256.3" r="1.05"/><circle cx="81.4" cy="256.3" r="1.05"/><circle cx="90" cy="256.4" r="1.05"/><circle cx="93" cy="256.4" r="1.05"/><circle cx="96" cy="256.5" r="1.05"/><circle cx="98.9" cy="256.4" r="1.05"/><circle cx="101.6" cy="256.5" r="1.05"/><circle cx="107.6" cy="256.3" r="1.05"/><circle cx="110.3" cy="256.1" r="1.05"/><circle cx="116.3" cy="255.7" r="1.05"/><circle cx="77.2" cy="253.1" r="1.05"/><circle cx="80.1" cy="253.2" r="1.05"/><circle cx="83" cy="253.3" r="1.05"/><circle cx="85.6" cy="253.6" r="1.05"/><circle cx="88.8" cy="253.4" r="1.05"/><circle cx="91.4" cy="253.4" r="1.05"/><circle cx="94.3" cy="253.4" r="1.05"/><circle cx="100.4" cy="253.6" r="1.05"/><circle cx="103.1" cy="253.4" r="1.05"/><circle cx="105.9" cy="253.3" r="1.05"/><circle cx="108.9" cy="253" r="1.05"/><circle cx="112" cy="252.9" r="1.05"/><circle cx="71.1" cy="249.8" r="1.05"/><circle cx="74.2" cy="249.9" r="1.05"/><circle cx="79.8" cy="250.2" r="1.05"/><circle cx="83" cy="250.3" r="1.05"/><circle cx="85.9" cy="250.5" r="1.05"/><circle cx="88.6" cy="250.4" r="1.05"/><circle cx="91.4" cy="250.4" r="1.05"/><circle cx="94.4" cy="250.5" r="1.05"/><circle cx="97.2" cy="250.5" r="1.05"/><circle cx="100.3" cy="250.4" r="1.05"/><circle cx="103.3" cy="250.5" r="1.05"/><circle cx="106" cy="250.2" r="1.05"/><circle cx="109.1" cy="250.1" r="1.05"/><circle cx="111.8" cy="249.9" r="1.05"/><circle cx="81.4" cy="247.3" r="1.05"/><circle cx="84.2" cy="247.3" r="1.05"/><circle cx="87.3" cy="247.6" r="1.05"/><circle cx="90.2" cy="247.4" r="1.05"/><circle cx="93" cy="247.4" r="1.05"/><circle cx="98.9" cy="247.6" r="1.05"/><circle cx="101.7" cy="247.5" r="1.05"/><circle cx="104.6" cy="247.4" r="1.05"/><circle cx="107.6" cy="247.2" r="1.05"/><circle cx="74.1" cy="244" r="1.05"/><circle cx="77" cy="244.2" r="1.05"/><circle cx="80.1" cy="244.2" r="1.05"/><circle cx="82.9" cy="244.3" r="1.05"/><circle cx="85.6" cy="244.6" r="1.05"/><circle cx="88.7" cy="244.5" r="1.05"/><circle cx="91.5" cy="244.4" r="1.05"/><circle cx="94.4" cy="244.5" r="1.05"/><circle cx="97.5" cy="244.6" r="1.05"/><circle cx="100.2" cy="244.5" r="1.05"/><circle cx="103" cy="244.2" r="1.05"/><circle cx="105.9" cy="244.2" r="1.05"/><circle cx="109" cy="244.1" r="1.05"/><circle cx="111.8" cy="244.1" r="1.05"/><circle cx="72.8" cy="241" r="1.05"/><circle cx="75.7" cy="241" r="1.05"/><circle cx="78.4" cy="241.2" r="1.05"/><circle cx="81.4" cy="241.2" r="1.05"/><circle cx="84.3" cy="241.3" r="1.05"/><circle cx="87.3" cy="241.4" r="1.05"/><circle cx="90" cy="241.6" r="1.05"/><circle cx="93" cy="241.6" r="1.05"/><circle cx="95.9" cy="241.6" r="1.05"/><circle cx="98.8" cy="241.3" r="1.05"/><circle cx="101.7" cy="241.5" r="1.05"/><circle cx="104.6" cy="241.3" r="1.05"/><circle cx="107.5" cy="241.2" r="1.05"/><circle cx="110.5" cy="241" r="1.05"/><circle cx="72.6" cy="237.8" r="1.05"/><circle cx="75.6" cy="238.1" r="1.05"/><circle cx="78.6" cy="238.3" r="1.05"/><circle cx="81.4" cy="238.3" r="1.05"/><circle cx="84.4" cy="238.4" r="1.05"/><circle cx="87.3" cy="238.4" r="1.05"/><circle cx="90.1" cy="238.6" r="1.05"/><circle cx="93.1" cy="238.5" r="1.05"/><circle cx="96" cy="238.5" r="1.05"/><circle cx="98.9" cy="238.3" r="1.05"/><circle cx="101.6" cy="238.5" r="1.05"/><circle cx="104.5" cy="238.4" r="1.05"/><circle cx="107.4" cy="238.2" r="1.05"/><circle cx="110.4" cy="237.9" r="1.05"/><circle cx="113.3" cy="237.9" r="1.05"/><circle cx="69.7" cy="234.7" r="1.05"/><circle cx="72.6" cy="235" r="1.05"/><circle cx="75.5" cy="235" r="1.05"/><circle cx="78.6" cy="235.2" r="1.05"/><circle cx="81.4" cy="235.2" r="1.05"/><circle cx="84.4" cy="235.5" r="1.05"/><circle cx="87.1" cy="235.4" r="1.05"/><circle cx="90.1" cy="235.4" r="1.05"/><circle cx="93" cy="235.5" r="1.05"/><circle cx="96" cy="235.4" r="1.05"/><circle cx="98.8" cy="235.3" r="1.05"/><circle cx="101.7" cy="235.4" r="1.05"/><circle cx="104.5" cy="235.2" r="1.05"/><circle cx="107.4" cy="235.3" r="1.05"/><circle cx="110.4" cy="235" r="1.05"/><circle cx="113.3" cy="235" r="1.05"/><circle cx="116.2" cy="234.8" r="1.05"/><circle cx="78.5" cy="232.1" r="1.05"/><circle cx="81.4" cy="232.4" r="1.05"/><circle cx="84.4" cy="232.4" r="1.05"/><circle cx="87.1" cy="232.6" r="1.05"/><circle cx="90.2" cy="232.4" r="1.05"/><circle cx="92.9" cy="232.6" r="1.05"/><circle cx="95.9" cy="232.5" r="1.05"/><circle cx="98.9" cy="232.5" r="1.05"/><circle cx="101.6" cy="232.4" r="1.05"/><circle cx="104.7" cy="232.2" r="1.05"/><circle cx="107.5" cy="232.1" r="1.05"/><circle cx="75.7" cy="229" r="1.05"/><circle cx="84.2" cy="229.4" r="1.05"/><circle cx="87.1" cy="229.5" r="1.05"/><circle cx="90.1" cy="229.6" r="1.05"/><circle cx="93.1" cy="229.4" r="1.05"/><circle cx="98.9" cy="229.6" r="1.05"/><circle cx="104.5" cy="229.3" r="1.05"/><circle cx="110.5" cy="228.9" r="1.05"/><circle cx="113.4" cy="228.9" r="1.05"/><circle cx="74.1" cy="226.1" r="1.05"/><circle cx="80.1" cy="226.1" r="1.05"/><circle cx="83" cy="226.3" r="1.05"/><circle cx="88.5" cy="226.4" r="1.05"/><circle cx="91.5" cy="226.6" r="1.05"/><circle cx="94.5" cy="226.4" r="1.05"/><circle cx="97.4" cy="226.4" r="1.05"/><circle cx="100.3" cy="226.5" r="1.05"/><circle cx="103" cy="226.4" r="1.05"/><circle cx="106.1" cy="226.1" r="1.05"/><circle cx="108.9" cy="226.1" r="1.05"/><circle cx="111.7" cy="225.9" r="1.05"/><circle cx="76.9" cy="222.9" r="1.05"/><circle cx="82.8" cy="223.3" r="1.05"/><circle cx="85.7" cy="223.3" r="1.05"/><circle cx="88.7" cy="223.4" r="1.05"/><circle cx="91.5" cy="223.4" r="1.05"/><circle cx="94.4" cy="223.6" r="1.05"/><circle cx="97.5" cy="223.3" r="1.05"/><circle cx="103.2" cy="223.3" r="1.05"/><circle cx="106" cy="223.3" r="1.05"/><circle cx="108.9" cy="222.9" r="1.05"/><circle cx="111.9" cy="222.8" r="1.05"/><circle cx="80" cy="220.3" r="1.05"/><circle cx="82.7" cy="220.2" r="1.05"/><circle cx="85.9" cy="220.3" r="1.05"/><circle cx="88.7" cy="220.6" r="1.05"/><circle cx="91.6" cy="220.5" r="1.05"/><circle cx="97.5" cy="220.4" r="1.05"/><circle cx="100.1" cy="220.3" r="1.05"/><circle cx="103.2" cy="220.2" r="1.05"/><circle cx="105.9" cy="220.1" r="1.05"/><circle cx="85.7" cy="217.4" r="1.05"/><circle cx="88.8" cy="217.5" r="1.05"/><circle cx="91.5" cy="217.5" r="1.05"/><circle cx="97.2" cy="217.5" r="1.05"/><circle cx="100.1" cy="217.5" r="1.05"/><circle cx="103.2" cy="217.2" r="1.05"/><circle cx="75.7" cy="213.9" r="1.05"/><circle cx="78.5" cy="214.1" r="1.05"/><circle cx="81.5" cy="214.1" r="1.05"/><circle cx="84.3" cy="214.5" r="1.05"/><circle cx="87.3" cy="214.5" r="1.05"/><circle cx="90.2" cy="214.4" r="1.05"/><circle cx="93" cy="214.4" r="1.05"/><circle cx="96" cy="214.5" r="1.05"/><circle cx="98.8" cy="214.5" r="1.05"/><circle cx="101.8" cy="214.5" r="1.05"/><circle cx="104.6" cy="214.1" r="1.05"/><circle cx="107.6" cy="214" r="1.05"/><circle cx="110.5" cy="213.9" r="1.05"/><circle cx="82.7" cy="211.3" r="1.05"/><circle cx="85.8" cy="211.3" r="1.05"/><circle cx="88.6" cy="211.4" r="1.05"/><circle cx="91.6" cy="211.4" r="1.05"/><circle cx="94.4" cy="211.6" r="1.05"/><circle cx="97.4" cy="211.5" r="1.05"/><circle cx="100.3" cy="211.2" r="1.05"/><circle cx="103.1" cy="211.1" r="1.05"/><circle cx="81.5" cy="207.7" r="1.05"/><circle cx="87.2" cy="208.4" r="1.05"/><circle cx="90.2" cy="208.4" r="1.05"/><circle cx="95.9" cy="208.3" r="1.05"/><circle cx="98.9" cy="208.3" r="1.05"/><circle cx="104.6" cy="207.5" r="1.05"/><circle cx="87.2" cy="205.2" r="1.05"/><circle cx="90.1" cy="205.3" r="1.05"/><circle cx="93" cy="205.6" r="1.05"/><circle cx="95.9" cy="205.4" r="1.05"/><circle cx="98.8" cy="205.1" r="1.05"/><circle cx="87.3" cy="201.6" r="1.05"/><circle cx="90.2" cy="202.3" r="1.05"/><circle cx="93.1" cy="202.6" r="1.05"/><circle cx="96" cy="202.2" r="1.05"/><circle cx="98.7" cy="201.8" r="1.05"/><circle cx="88.7" cy="198.5" r="1.05"/><circle cx="91.6" cy="199.4" r="1.05"/><circle cx="94.5" cy="199.3" r="1.05"/><circle cx="97.3" cy="198.8" r="1.05"/></g>
<g fill="#7d1a36" stroke="#5a0f24" stroke-width="0.6"><circle cx="172.9" cy="211.1" r="1.55"/><circle cx="169.1" cy="215.3" r="1.55"/><circle cx="177.1" cy="215.3" r="1.55"/><circle cx="169.1" cy="223.2" r="1.55"/><circle cx="177.1" cy="221.7" r="1.55"/><circle cx="172.9" cy="225.3" r="1.55"/><circle cx="169.1" cy="228.5" r="1.55"/><circle cx="173.3" cy="228.5" r="1.55"/><circle cx="179.2" cy="228.5" r="1.55"/><circle cx="169.1" cy="240.1" r="1.55"/><circle cx="172.9" cy="239" r="1.55"/><circle cx="176.7" cy="240.7" r="1.55"/><circle cx="169.1" cy="244.3" r="1.55"/><circle cx="175.4" cy="244.3" r="1.55"/><circle cx="172.9" cy="246.4" r="1.55"/><circle cx="169.1" cy="248.6" r="1.55"/><circle cx="176.7" cy="248.6" r="1.55"/><circle cx="172.9" cy="251.7" r="1.55"/><circle cx="167.6" cy="252.8" r="1.55"/><circle cx="178.2" cy="252.8" r="1.55"/><circle cx="169.7" cy="258.1" r="1.55"/><circle cx="175.4" cy="258.1" r="1.55"/><circle cx="172.9" cy="261.3" r="1.55"/><circle cx="169.7" cy="264.4" r="1.55"/><circle cx="176.7" cy="264" r="1.55"/><circle cx="169.1" cy="267.6" r="1.55"/><circle cx="175.4" cy="267.6" r="1.55"/><circle cx="172.9" cy="270.4" r="1.55"/><circle cx="167" cy="272.9" r="1.55"/><circle cx="172.9" cy="273.3" r="1.55"/><circle cx="178.8" cy="272.9" r="1.55"/><circle cx="158.1" cy="277.1" r="1.55"/><circle cx="162.3" cy="277.1" r="1.55"/><circle cx="166.5" cy="277.1" r="1.55"/><circle cx="170.8" cy="276.7" r="1.55"/><circle cx="175" cy="277.1" r="1.55"/><circle cx="179.2" cy="277.1" r="1.55"/><circle cx="183.5" cy="277.1" r="1.55"/><circle cx="187.7" cy="277.1" r="1.55"/><circle cx="156" cy="280.3" r="1.55"/><circle cx="160.2" cy="280.3" r="1.55"/><circle cx="164.4" cy="280.3" r="1.55"/><circle cx="168.7" cy="280.3" r="1.55"/><circle cx="172.9" cy="280.3" r="1.55"/><circle cx="177.1" cy="280.3" r="1.55"/><circle cx="181.3" cy="280.3" r="1.55"/><circle cx="185.6" cy="280.3" r="1.55"/><circle cx="189.8" cy="280.3" r="1.55"/><circle cx="162.3" cy="282.6" r="1.55"/><circle cx="166.5" cy="282.6" r="1.55"/><circle cx="175" cy="282.6" r="1.55"/><circle cx="181.3" cy="282.6" r="1.55"/></g>
<line x1="93" y1="224.5" x2="93" y2="268.2" stroke="#000" stroke-width="1.6"/>
<line x1="81" y1="224.5" x2="105" y2="224.5" stroke="#000" stroke-width="1.6"/>
<line x1="81" y1="268.2" x2="105" y2="268.2" stroke="#000" stroke-width="1.6"/>
<line x1="69.2" y1="246.3" x2="116.8" y2="246.3" stroke="#000" stroke-width="1.9"/>
<line x1="173" y1="233" x2="173" y2="278.6" stroke="#000" stroke-width="1.6"/>
<line x1="161.4" y1="233" x2="184.6" y2="233" stroke="#000" stroke-width="1.6"/>
<line x1="161.4" y1="278.6" x2="184.6" y2="278.6" stroke="#000" stroke-width="1.6"/>
<line x1="149.7" y1="255.8" x2="196.3" y2="255.8" stroke="#000" stroke-width="1.9"/>
<text x="93" y="296.9" font-size="6.8" text-anchor="middle" fill="#2a2a2a">PD-L1<tspan baseline-shift="2.8" font-size="5.0">low</tspan></text>
<text x="93" y="304.9" font-size="6.8" text-anchor="middle" fill="#2a2a2a">CD20<tspan baseline-shift="3.2" font-size="5.2">+</tspan></text>
<text x="93" y="312.9" font-size="6.8" text-anchor="middle" fill="#2a2a2a">n = 345</text>
<text x="173" y="296.9" font-size="6.8" text-anchor="middle" fill="#2a2a2a">PD-L1<tspan baseline-shift="2.8" font-size="5.0">high</tspan></text>
<text x="173" y="304.9" font-size="6.8" text-anchor="middle" fill="#2a2a2a">CD20<tspan baseline-shift="3.2" font-size="5.2">+</tspan></text>
<text x="173" y="312.9" font-size="6.8" text-anchor="middle" fill="#2a2a2a">n = 51</text>
<line x1="316.8" y1="186.3" x2="316.8" y2="284.3" stroke="#000" stroke-width="1.45"/>
<line x1="313" y1="284.3" x2="316.8" y2="284.3" stroke="#000" stroke-width="1.1"/>
<text x="309.2" y="286.7" font-size="6.8" text-anchor="end" textLength="3.1" lengthAdjust="spacingAndGlyphs" style="stroke:#141414;stroke-width:0.22" fill="#141414">0</text>
<line x1="313" y1="265.3" x2="316.8" y2="265.3" stroke="#000" stroke-width="1.1"/>
<text x="309.2" y="267.7" font-size="6.8" text-anchor="end" textLength="6.3" lengthAdjust="spacingAndGlyphs" style="stroke:#141414;stroke-width:0.22" fill="#141414">20</text>
<line x1="313" y1="246.3" x2="316.8" y2="246.3" stroke="#000" stroke-width="1.1"/>
<text x="309.2" y="248.7" font-size="6.8" text-anchor="end" textLength="6.3" lengthAdjust="spacingAndGlyphs" style="stroke:#141414;stroke-width:0.22" fill="#141414">40</text>
<line x1="313" y1="227.3" x2="316.8" y2="227.3" stroke="#000" stroke-width="1.1"/>
<text x="309.2" y="229.7" font-size="6.8" text-anchor="end" textLength="6.3" lengthAdjust="spacingAndGlyphs" style="stroke:#141414;stroke-width:0.22" fill="#141414">60</text>
<line x1="313" y1="208.3" x2="316.8" y2="208.3" stroke="#000" stroke-width="1.1"/>
<text x="309.2" y="210.7" font-size="6.8" text-anchor="end" textLength="6.3" lengthAdjust="spacingAndGlyphs" style="stroke:#141414;stroke-width:0.22" fill="#141414">80</text>
<line x1="313" y1="189.3" x2="316.8" y2="189.3" stroke="#000" stroke-width="1.1"/>
<text x="309.2" y="191.7" font-size="6.8" text-anchor="end" textLength="9.4" lengthAdjust="spacingAndGlyphs" style="stroke:#141414;stroke-width:0.22" fill="#141414">100</text>
<line x1="316.8" y1="284.3" x2="466.5" y2="284.3" stroke="#000" stroke-width="1.45"/>
<line x1="352.5" y1="284.3" x2="352.5" y2="287.5" stroke="#000" stroke-width="1.1"/>
<line x1="432.5" y1="284.3" x2="432.5" y2="287.5" stroke="#000" stroke-width="1.1"/>
<text transform="translate(292.8,234.9) rotate(-90)" font-size="8.5" text-anchor="middle" fill="#1e1e1e" textLength="69" lengthAdjust="spacingAndGlyphs">PD-1<tspan baseline-shift="3.2" font-size="5.2">+</tspan>CD3<tspan baseline-shift="3.2" font-size="5.2">+</tspan>CD4<tspan baseline-shift="3.2" font-size="5.2">+</tspan> (%)</text>
<line x1="346.5" y1="183.6" x2="437.8" y2="183.6" stroke="#000" stroke-width="1.5"/>
<text x="393.8" y="180.5" font-size="7" text-anchor="middle" fill="#2a2a2a" textLength="31.8" lengthAdjust="spacingAndGlyphs"><tspan font-style="italic">P</tspan> = 0,0066</text>
<g fill="#46586c" stroke="#7fa4c8" stroke-width="0.6"><circle cx="332.2" cy="283" r="1.05"/><circle cx="335.2" cy="283" r="1.05"/><circle cx="338" cy="283.3" r="1.05"/><circle cx="340.9" cy="283.2" r="1.05"/><circle cx="343.9" cy="283.3" r="1.05"/><circle cx="346.6" cy="283.4" r="1.05"/><circle cx="349.5" cy="283.5" r="1.05"/><circle cx="358.2" cy="283.6" r="1.05"/><circle cx="361.1" cy="283.4" r="1.05"/><circle cx="364" cy="283.3" r="1.05"/><circle cx="367.1" cy="283.1" r="1.05"/><circle cx="370" cy="283" r="1.05"/><circle cx="372.8" cy="283" r="1.05"/><circle cx="338" cy="280.2" r="1.05"/><circle cx="343.8" cy="280.5" r="1.05"/><circle cx="346.6" cy="280.5" r="1.05"/><circle cx="349.7" cy="280.4" r="1.05"/><circle cx="355.4" cy="280.6" r="1.05"/><circle cx="358.2" cy="280.3" r="1.05"/><circle cx="361.3" cy="280.4" r="1.05"/><circle cx="364.2" cy="280.2" r="1.05"/><circle cx="367" cy="280.3" r="1.05"/><circle cx="370" cy="280.1" r="1.05"/><circle cx="335.1" cy="277" r="1.05"/><circle cx="338" cy="277.1" r="1.05"/><circle cx="340.9" cy="277.3" r="1.05"/><circle cx="343.9" cy="277.3" r="1.05"/><circle cx="346.6" cy="277.4" r="1.05"/><circle cx="349.7" cy="277.5" r="1.05"/><circle cx="352.5" cy="277.5" r="1.05"/><circle cx="355.5" cy="277.6" r="1.05"/><circle cx="358.2" cy="277.5" r="1.05"/><circle cx="361.2" cy="277.5" r="1.05"/><circle cx="364.2" cy="277.4" r="1.05"/><circle cx="367.1" cy="277.1" r="1.05"/><circle cx="370" cy="277.1" r="1.05"/><circle cx="335.2" cy="274" r="1.05"/><circle cx="337.9" cy="274.1" r="1.05"/><circle cx="341" cy="274.4" r="1.05"/><circle cx="343.9" cy="274.3" r="1.05"/><circle cx="349.5" cy="274.5" r="1.05"/><circle cx="352.4" cy="274.4" r="1.05"/><circle cx="355.4" cy="274.6" r="1.05"/><circle cx="358.4" cy="274.3" r="1.05"/><circle cx="361.2" cy="274.3" r="1.05"/><circle cx="364.1" cy="274.2" r="1.05"/><circle cx="370" cy="274.2" r="1.05"/><circle cx="336.6" cy="271.1" r="1.05"/><circle cx="339.5" cy="271.3" r="1.05"/><circle cx="342.3" cy="271.4" r="1.05"/><circle cx="345.2" cy="271.5" r="1.05"/><circle cx="357" cy="271.3" r="1.05"/><circle cx="359.6" cy="271.4" r="1.05"/><circle cx="362.7" cy="271.3" r="1.05"/><circle cx="365.5" cy="271.2" r="1.05"/><circle cx="368.4" cy="271.2" r="1.05"/><circle cx="371.3" cy="270.9" r="1.05"/><circle cx="332.2" cy="268" r="1.05"/><circle cx="338.1" cy="268.3" r="1.05"/><circle cx="341" cy="268.2" r="1.05"/><circle cx="343.7" cy="268.5" r="1.05"/><circle cx="346.7" cy="268.4" r="1.05"/><circle cx="349.5" cy="268.5" r="1.05"/><circle cx="355.3" cy="268.4" r="1.05"/><circle cx="358.4" cy="268.5" r="1.05"/><circle cx="361.1" cy="268.3" r="1.05"/><circle cx="364.2" cy="268.3" r="1.05"/><circle cx="333.5" cy="265" r="1.05"/><circle cx="336.5" cy="265.1" r="1.05"/><circle cx="339.6" cy="265.3" r="1.05"/><circle cx="342.5" cy="265.3" r="1.05"/><circle cx="345.2" cy="265.5" r="1.05"/><circle cx="348" cy="265.3" r="1.05"/><circle cx="351.1" cy="265.5" r="1.05"/><circle cx="354" cy="265.6" r="1.05"/><circle cx="356.7" cy="265.6" r="1.05"/><circle cx="359.6" cy="265.4" r="1.05"/><circle cx="362.8" cy="265.3" r="1.05"/><circle cx="365.5" cy="265.2" r="1.05"/><circle cx="368.4" cy="265" r="1.05"/><circle cx="371.2" cy="264.9" r="1.05"/><circle cx="333.7" cy="262" r="1.05"/><circle cx="336.6" cy="262" r="1.05"/><circle cx="339.4" cy="262.3" r="1.05"/><circle cx="342.3" cy="262.4" r="1.05"/><circle cx="345.2" cy="262.3" r="1.05"/><circle cx="350.9" cy="262.4" r="1.05"/><circle cx="356.8" cy="262.6" r="1.05"/><circle cx="359.8" cy="262.5" r="1.05"/><circle cx="362.5" cy="262.5" r="1.05"/><circle cx="365.4" cy="262.1" r="1.05"/><circle cx="368.6" cy="262" r="1.05"/><circle cx="371.5" cy="262" r="1.05"/><circle cx="329.2" cy="258.8" r="1.05"/><circle cx="332.3" cy="259" r="1.05"/><circle cx="335.2" cy="259" r="1.05"/><circle cx="337.9" cy="259.3" r="1.05"/><circle cx="346.8" cy="259.5" r="1.05"/><circle cx="352.5" cy="259.5" r="1.05"/><circle cx="358.2" cy="259.5" r="1.05"/><circle cx="361.2" cy="259.2" r="1.05"/><circle cx="364" cy="259.4" r="1.05"/><circle cx="369.8" cy="259.1" r="1.05"/><circle cx="372.8" cy="258.8" r="1.05"/><circle cx="333.7" cy="256.1" r="1.05"/><circle cx="339.4" cy="256.2" r="1.05"/><circle cx="342.2" cy="256.4" r="1.05"/><circle cx="348" cy="256.3" r="1.05"/><circle cx="351.1" cy="256.5" r="1.05"/><circle cx="353.9" cy="256.5" r="1.05"/><circle cx="356.9" cy="256.6" r="1.05"/><circle cx="359.8" cy="256.5" r="1.05"/><circle cx="365.4" cy="256.3" r="1.05"/><circle cx="371.5" cy="255.9" r="1.05"/><circle cx="329.2" cy="252.7" r="1.05"/><circle cx="332.1" cy="252.8" r="1.05"/><circle cx="335.2" cy="253.1" r="1.05"/><circle cx="341" cy="253.5" r="1.05"/><circle cx="343.7" cy="253.3" r="1.05"/><circle cx="346.6" cy="253.4" r="1.05"/><circle cx="355.5" cy="253.6" r="1.05"/><circle cx="361.2" cy="253.3" r="1.05"/><circle cx="364" cy="253.3" r="1.05"/><circle cx="367" cy="253.3" r="1.05"/><circle cx="369.9" cy="253.1" r="1.05"/><circle cx="372.9" cy="252.9" r="1.05"/><circle cx="332.1" cy="249.8" r="1.05"/><circle cx="335" cy="250" r="1.05"/><circle cx="338.1" cy="250.1" r="1.05"/><circle cx="341" cy="250.4" r="1.05"/><circle cx="343.9" cy="250.3" r="1.05"/><circle cx="346.6" cy="250.5" r="1.05"/><circle cx="349.5" cy="250.6" r="1.05"/><circle cx="352.5" cy="250.5" r="1.05"/><circle cx="355.5" cy="250.4" r="1.05"/><circle cx="358.2" cy="250.3" r="1.05"/><circle cx="361.1" cy="250.3" r="1.05"/><circle cx="364.2" cy="250.4" r="1.05"/><circle cx="367.1" cy="250.1" r="1.05"/><circle cx="369.8" cy="250" r="1.05"/><circle cx="372.8" cy="250" r="1.05"/><circle cx="336.6" cy="247" r="1.05"/><circle cx="339.4" cy="247.4" r="1.05"/><circle cx="342.4" cy="247.3" r="1.05"/><circle cx="345.2" cy="247.5" r="1.05"/><circle cx="348.2" cy="247.5" r="1.05"/><circle cx="351" cy="247.4" r="1.05"/><circle cx="354.1" cy="247.5" r="1.05"/><circle cx="356.9" cy="247.4" r="1.05"/><circle cx="359.6" cy="247.5" r="1.05"/><circle cx="362.8" cy="247.3" r="1.05"/><circle cx="365.4" cy="247.3" r="1.05"/><circle cx="368.4" cy="247.1" r="1.05"/><circle cx="339.4" cy="244.3" r="1.05"/><circle cx="342.3" cy="244.3" r="1.05"/><circle cx="345.2" cy="244.5" r="1.05"/><circle cx="348.3" cy="244.3" r="1.05"/><circle cx="351.2" cy="244.4" r="1.05"/><circle cx="353.9" cy="244.4" r="1.05"/><circle cx="356.9" cy="244.4" r="1.05"/><circle cx="359.7" cy="244.3" r="1.05"/><circle cx="362.6" cy="244.2" r="1.05"/><circle cx="365.5" cy="244.2" r="1.05"/><circle cx="333.7" cy="241" r="1.05"/><circle cx="345.4" cy="241.4" r="1.05"/><circle cx="348.1" cy="241.6" r="1.05"/><circle cx="350.9" cy="241.4" r="1.05"/><circle cx="356.9" cy="241.3" r="1.05"/><circle cx="359.7" cy="241.3" r="1.05"/><circle cx="362.6" cy="241.2" r="1.05"/><circle cx="368.4" cy="241" r="1.05"/><circle cx="371.4" cy="240.8" r="1.05"/><circle cx="333.6" cy="238" r="1.05"/><circle cx="336.6" cy="238" r="1.05"/><circle cx="339.6" cy="238.3" r="1.05"/><circle cx="342.3" cy="238.5" r="1.05"/><circle cx="345.2" cy="238.5" r="1.05"/><circle cx="348" cy="238.4" r="1.05"/><circle cx="351" cy="238.4" r="1.05"/><circle cx="354" cy="238.5" r="1.05"/><circle cx="359.8" cy="238.3" r="1.05"/><circle cx="365.5" cy="238.3" r="1.05"/><circle cx="371.5" cy="238" r="1.05"/><circle cx="336.7" cy="235.1" r="1.05"/><circle cx="339.6" cy="235.2" r="1.05"/><circle cx="342.3" cy="235.4" r="1.05"/><circle cx="345.2" cy="235.3" r="1.05"/><circle cx="348" cy="235.5" r="1.05"/><circle cx="351" cy="235.5" r="1.05"/><circle cx="353.8" cy="235.4" r="1.05"/><circle cx="357" cy="235.4" r="1.05"/><circle cx="359.8" cy="235.4" r="1.05"/><circle cx="362.5" cy="235.3" r="1.05"/><circle cx="365.6" cy="235.2" r="1.05"/><circle cx="368.6" cy="235.2" r="1.05"/><circle cx="330.9" cy="231.8" r="1.05"/><circle cx="333.8" cy="231.9" r="1.05"/><circle cx="336.5" cy="232.1" r="1.05"/><circle cx="339.6" cy="232.2" r="1.05"/><circle cx="342.5" cy="232.4" r="1.05"/><circle cx="345.3" cy="232.3" r="1.05"/><circle cx="348.2" cy="232.5" r="1.05"/><circle cx="351.2" cy="232.6" r="1.05"/><circle cx="353.8" cy="232.6" r="1.05"/><circle cx="356.8" cy="232.5" r="1.05"/><circle cx="359.7" cy="232.4" r="1.05"/><circle cx="362.7" cy="232.2" r="1.05"/><circle cx="365.6" cy="232.2" r="1.05"/><circle cx="368.5" cy="232" r="1.05"/><circle cx="371.4" cy="232" r="1.05"/><circle cx="374.2" cy="232" r="1.05"/><circle cx="330.9" cy="228.7" r="1.05"/><circle cx="333.8" cy="229.1" r="1.05"/><circle cx="336.6" cy="229.1" r="1.05"/><circle cx="339.5" cy="229.1" r="1.05"/><circle cx="342.3" cy="229.3" r="1.05"/><circle cx="345.1" cy="229.4" r="1.05"/><circle cx="348" cy="229.5" r="1.05"/><circle cx="353.9" cy="229.6" r="1.05"/><circle cx="356.8" cy="229.5" r="1.05"/><circle cx="359.8" cy="229.3" r="1.05"/><circle cx="362.8" cy="229.4" r="1.05"/><circle cx="368.5" cy="229.2" r="1.05"/><circle cx="374.3" cy="228.7" r="1.05"/><circle cx="336.7" cy="226.2" r="1.05"/><circle cx="339.4" cy="226.1" r="1.05"/><circle cx="342.4" cy="226.3" r="1.05"/><circle cx="345.1" cy="226.3" r="1.05"/><circle cx="348" cy="226.4" r="1.05"/><circle cx="351.1" cy="226.6" r="1.05"/><circle cx="353.8" cy="226.6" r="1.05"/><circle cx="359.7" cy="226.4" r="1.05"/><circle cx="362.6" cy="226.3" r="1.05"/><circle cx="365.4" cy="226.1" r="1.05"/><circle cx="368.3" cy="226.1" r="1.05"/><circle cx="336.5" cy="223" r="1.05"/><circle cx="339.6" cy="223.2" r="1.05"/><circle cx="342.2" cy="223.4" r="1.05"/><circle cx="345.3" cy="223.3" r="1.05"/><circle cx="354" cy="223.4" r="1.05"/><circle cx="356.9" cy="223.6" r="1.05"/><circle cx="359.6" cy="223.5" r="1.05"/><circle cx="362.5" cy="223.2" r="1.05"/><circle cx="365.4" cy="223.2" r="1.05"/><circle cx="368.4" cy="223" r="1.05"/><circle cx="371.4" cy="222.7" r="1.05"/><circle cx="333.7" cy="219.9" r="1.05"/><circle cx="336.7" cy="219.9" r="1.05"/><circle cx="339.5" cy="220.1" r="1.05"/><circle cx="342.3" cy="220.4" r="1.05"/><circle cx="348.3" cy="220.6" r="1.05"/><circle cx="351" cy="220.6" r="1.05"/><circle cx="354" cy="220.4" r="1.05"/><circle cx="356.9" cy="220.4" r="1.05"/><circle cx="365.5" cy="220.1" r="1.05"/><circle cx="368.5" cy="220" r="1.05"/><circle cx="371.4" cy="219.9" r="1.05"/><circle cx="339.4" cy="217.1" r="1.05"/><circle cx="342.3" cy="217.2" r="1.05"/><circle cx="345.3" cy="217.5" r="1.05"/><circle cx="348.1" cy="217.6" r="1.05"/><circle cx="353.8" cy="217.5" r="1.05"/><circle cx="356.8" cy="217.3" r="1.05"/><circle cx="365.5" cy="217.2" r="1.05"/><circle cx="343.7" cy="214.3" r="1.05"/><circle cx="346.8" cy="214.3" r="1.05"/><circle cx="349.7" cy="214.4" r="1.05"/><circle cx="352.4" cy="214.4" r="1.05"/><circle cx="355.5" cy="214.4" r="1.05"/><circle cx="358.4" cy="214.4" r="1.05"/><circle cx="361.1" cy="214.3" r="1.05"/><circle cx="366.9" cy="214.2" r="1.05"/><circle cx="336.7" cy="210.7" r="1.05"/><circle cx="339.4" cy="211" r="1.05"/><circle cx="342.2" cy="211.1" r="1.05"/><circle cx="345.1" cy="211.4" r="1.05"/><circle cx="348.1" cy="211.4" r="1.05"/><circle cx="351.2" cy="211.4" r="1.05"/><circle cx="353.9" cy="211.4" r="1.05"/><circle cx="356.8" cy="211.3" r="1.05"/><circle cx="359.8" cy="211.4" r="1.05"/><circle cx="362.5" cy="211.3" r="1.05"/><circle cx="365.7" cy="211.1" r="1.05"/><circle cx="368.6" cy="210.8" r="1.05"/><circle cx="348.1" cy="208.1" r="1.05"/><circle cx="351" cy="208.6" r="1.05"/><circle cx="354" cy="208.6" r="1.05"/><circle cx="356.8" cy="208.3" r="1.05"/><circle cx="348.2" cy="204.7" r="1.05"/><circle cx="351.1" cy="205.4" r="1.05"/><circle cx="353.8" cy="205.4" r="1.05"/><circle cx="356.9" cy="204.5" r="1.05"/><circle cx="348" cy="201.8" r="1.05"/><circle cx="351.1" cy="202.5" r="1.05"/><circle cx="354.1" cy="202.4" r="1.05"/><circle cx="356.8" cy="201.8" r="1.05"/><circle cx="348.1" cy="198.7" r="1.05"/><circle cx="351" cy="199.3" r="1.05"/><circle cx="353.9" cy="199.3" r="1.05"/><circle cx="356.9" cy="198.7" r="1.05"/></g>
<g fill="#7d1a36" stroke="#5a0f24" stroke-width="0.6"><circle cx="432.5" cy="206.3" r="1.55"/><circle cx="432.5" cy="214.3" r="1.55"/><circle cx="428.2" cy="219.6" r="1.55"/><circle cx="436.7" cy="222.1" r="1.55"/><circle cx="432.5" cy="222.1" r="1.55"/><circle cx="439.7" cy="221.7" r="1.55"/><circle cx="428.2" cy="224.2" r="1.55"/><circle cx="432.5" cy="226.8" r="1.55"/><circle cx="422.3" cy="235.4" r="1.55"/><circle cx="427" cy="236.9" r="1.55"/><circle cx="432.5" cy="234.4" r="1.55"/><circle cx="437.1" cy="236.9" r="1.55"/><circle cx="441.3" cy="235.9" r="1.55"/><circle cx="428.2" cy="240.1" r="1.55"/><circle cx="435.4" cy="240.1" r="1.55"/><circle cx="432.5" cy="245" r="1.55"/><circle cx="437.1" cy="245" r="1.55"/><circle cx="432.5" cy="249.6" r="1.55"/><circle cx="421.9" cy="257" r="1.55"/><circle cx="426.1" cy="258.1" r="1.55"/><circle cx="432.5" cy="259.1" r="1.55"/><circle cx="438.8" cy="256.4" r="1.55"/><circle cx="443" cy="256.4" r="1.55"/><circle cx="430.3" cy="262.7" r="1.55"/><circle cx="435.4" cy="262.7" r="1.55"/><circle cx="419.8" cy="267.6" r="1.55"/><circle cx="424" cy="267.6" r="1.55"/><circle cx="429.1" cy="268.7" r="1.55"/><circle cx="435.4" cy="267.6" r="1.55"/><circle cx="440.9" cy="268.7" r="1.55"/><circle cx="445.6" cy="267.6" r="1.55"/><circle cx="432.5" cy="271.8" r="1.55"/><circle cx="426.1" cy="275.4" r="1.55"/><circle cx="432.5" cy="276.7" r="1.55"/><circle cx="438.8" cy="275.4" r="1.55"/><circle cx="430.3" cy="278.8" r="1.55"/><circle cx="435.4" cy="278.8" r="1.55"/><circle cx="411.7" cy="280.9" r="1.55"/><circle cx="416" cy="281.4" r="1.55"/><circle cx="420.2" cy="281.8" r="1.55"/><circle cx="424.4" cy="281.8" r="1.55"/><circle cx="428.7" cy="281.8" r="1.55"/><circle cx="432.9" cy="281.8" r="1.55"/><circle cx="437.1" cy="281.8" r="1.55"/><circle cx="441.3" cy="281.8" r="1.55"/><circle cx="445.6" cy="281.4" r="1.55"/><circle cx="449.8" cy="280.9" r="1.55"/><circle cx="454" cy="280.3" r="1.55"/><circle cx="413.8" cy="282.6" r="1.55"/><circle cx="422.3" cy="282.8" r="1.55"/><circle cx="430.8" cy="282.8" r="1.55"/><circle cx="439.2" cy="282.8" r="1.55"/></g>
<line x1="352.5" y1="225.4" x2="352.5" y2="272.9" stroke="#000" stroke-width="1.6"/>
<line x1="340.5" y1="225.4" x2="364.5" y2="225.4" stroke="#000" stroke-width="1.6"/>
<line x1="340.5" y1="272.9" x2="364.5" y2="272.9" stroke="#000" stroke-width="1.6"/>
<line x1="328.8" y1="249.2" x2="376.2" y2="249.2" stroke="#000" stroke-width="1.9"/>
<line x1="432.5" y1="234.9" x2="432.5" y2="283.4" stroke="#000" stroke-width="1.6"/>
<line x1="420.9" y1="234.9" x2="444.1" y2="234.9" stroke="#000" stroke-width="1.6"/>
<line x1="420.9" y1="283.4" x2="444.1" y2="283.4" stroke="#000" stroke-width="1.6"/>
<line x1="409.2" y1="258.7" x2="455.8" y2="258.7" stroke="#000" stroke-width="1.9"/>
<text x="352.5" y="296.9" font-size="6.8" text-anchor="middle" fill="#2a2a2a">PD-L1<tspan baseline-shift="2.8" font-size="5.0">low</tspan></text>
<text x="352.5" y="304.9" font-size="6.8" text-anchor="middle" fill="#2a2a2a">CD20<tspan baseline-shift="3.2" font-size="5.2">+</tspan></text>
<text x="352.5" y="312.9" font-size="6.8" text-anchor="middle" fill="#2a2a2a">n = 345</text>
<text x="432.5" y="296.9" font-size="6.8" text-anchor="middle" fill="#2a2a2a">PD-L1<tspan baseline-shift="2.8" font-size="5.0">high</tspan></text>
<text x="432.5" y="304.9" font-size="6.8" text-anchor="middle" fill="#2a2a2a">CD20<tspan baseline-shift="3.2" font-size="5.2">+</tspan></text>
<text x="432.5" y="312.9" font-size="6.8" text-anchor="middle" fill="#2a2a2a">n = 51</text>
<text x="7.5" y="332.2" font-size="14" font-weight="bold" style="stroke:#000;stroke-width:0.35" fill="#000">C</text>
<line x1="57.4" y1="338.7" x2="57.4" y2="437.2" stroke="#000" stroke-width="1.45"/>
<line x1="53.6" y1="432.3" x2="57.4" y2="432.3" stroke="#000" stroke-width="1.1"/>
<text x="49.8" y="434.7" font-size="6.8" text-anchor="end" textLength="3.1" lengthAdjust="spacingAndGlyphs" style="stroke:#141414;stroke-width:0.22" fill="#141414">0</text>
<line x1="53.6" y1="414.3" x2="57.4" y2="414.3" stroke="#000" stroke-width="1.1"/>
<text x="49.8" y="416.7" font-size="6.8" text-anchor="end" textLength="6.3" lengthAdjust="spacingAndGlyphs" style="stroke:#141414;stroke-width:0.22" fill="#141414">20</text>
<line x1="53.6" y1="396.3" x2="57.4" y2="396.3" stroke="#000" stroke-width="1.1"/>
<text x="49.8" y="398.7" font-size="6.8" text-anchor="end" textLength="6.3" lengthAdjust="spacingAndGlyphs" style="stroke:#141414;stroke-width:0.22" fill="#141414">40</text>
<line x1="53.6" y1="378.3" x2="57.4" y2="378.3" stroke="#000" stroke-width="1.1"/>
<text x="49.8" y="380.7" font-size="6.8" text-anchor="end" textLength="6.3" lengthAdjust="spacingAndGlyphs" style="stroke:#141414;stroke-width:0.22" fill="#141414">60</text>
<line x1="53.6" y1="360.3" x2="57.4" y2="360.3" stroke="#000" stroke-width="1.1"/>
<text x="49.8" y="362.7" font-size="6.8" text-anchor="end" textLength="6.3" lengthAdjust="spacingAndGlyphs" style="stroke:#141414;stroke-width:0.22" fill="#141414">80</text>
<line x1="53.6" y1="342.3" x2="57.4" y2="342.3" stroke="#000" stroke-width="1.1"/>
<text x="49.8" y="344.7" font-size="6.8" text-anchor="end" textLength="9.4" lengthAdjust="spacingAndGlyphs" style="stroke:#141414;stroke-width:0.22" fill="#141414">100</text>
<line x1="57.4" y1="437.2" x2="206.5" y2="437.2" stroke="#000" stroke-width="1.45"/>
<line x1="72.7" y1="437.2" x2="72.7" y2="440.2" stroke="#000" stroke-width="1.1"/>
<line x1="102.2" y1="437.2" x2="102.2" y2="440.2" stroke="#000" stroke-width="1.1"/>
<line x1="131.9" y1="437.2" x2="131.9" y2="440.2" stroke="#000" stroke-width="1.1"/>
<line x1="161.5" y1="437.2" x2="161.5" y2="440.2" stroke="#000" stroke-width="1.1"/>
<line x1="191.2" y1="437.2" x2="191.2" y2="440.2" stroke="#000" stroke-width="1.1"/>
<text transform="translate(33.2,388) rotate(-90)" font-size="8.5" text-anchor="middle" fill="#1e1e1e" textLength="68.5" lengthAdjust="spacingAndGlyphs">PD-1<tspan baseline-shift="3.2" font-size="5.2">+</tspan>CD3<tspan baseline-shift="3.2" font-size="5.2">+</tspan>CD8<tspan baseline-shift="3.2" font-size="5.2">+</tspan> (%)</text>
<g fill="#a2ad94" stroke="#384b29" stroke-width="0.85"><circle cx="72.7" cy="373.8" r="1.4"/><circle cx="72.7" cy="382.1" r="1.4"/><circle cx="68.9" cy="384" r="1.4"/><circle cx="72.7" cy="389.6" r="1.4"/><circle cx="69.9" cy="392.7" r="1.4"/><circle cx="74.9" cy="393.2" r="1.4"/><circle cx="72.7" cy="400.2" r="1.4"/><circle cx="72.7" cy="412.6" r="1.4"/><circle cx="69.6" cy="415.4" r="1.4"/><circle cx="73.5" cy="416.8" r="1.4"/><circle cx="72.4" cy="420.9" r="1.4"/><circle cx="72.7" cy="426.4" r="1.4"/><circle cx="68.5" cy="426.9" r="1.4"/><circle cx="75.9" cy="429.2" r="1.4"/><circle cx="72.4" cy="431.4" r="1.4"/><circle cx="68.2" cy="431.9" r="1.4"/><circle cx="79.2" cy="431.9" r="1.4"/><circle cx="64" cy="431.9" r="1.4"/><circle cx="72" cy="431.9" r="1.4"/><circle cx="70.8" cy="431.9" r="1.4"/></g>
<g fill="#2f4060" stroke="#1c2740" stroke-width="0.5"><circle cx="93.8" cy="429.6" r="1.5"/><circle cx="96" cy="430.7" r="1.5"/><circle cx="98.1" cy="431.7" r="1.5"/><circle cx="100.1" cy="432.7" r="1.5"/><circle cx="102.2" cy="433.2" r="1.5"/><circle cx="104.3" cy="432.5" r="1.5"/><circle cx="106.4" cy="431.8" r="1.5"/><circle cx="108.4" cy="430.8" r="1.5"/><circle cx="110.6" cy="429.5" r="1.5"/><circle cx="94.9" cy="425.9" r="1.5"/><circle cx="96.9" cy="426.7" r="1.5"/><circle cx="99.1" cy="427.6" r="1.5"/><circle cx="101.3" cy="428.4" r="1.5"/><circle cx="103.3" cy="428.6" r="1.5"/><circle cx="105.3" cy="427.7" r="1.5"/><circle cx="107.4" cy="426.8" r="1.5"/><circle cx="109.6" cy="425.7" r="1.5"/><circle cx="93.9" cy="420.4" r="1.5"/><circle cx="95.9" cy="421.9" r="1.5"/><circle cx="98" cy="423.1" r="1.5"/><circle cx="100" cy="423.9" r="1.5"/><circle cx="102.3" cy="424.8" r="1.5"/><circle cx="104.4" cy="424" r="1.5"/><circle cx="106.4" cy="423" r="1.5"/><circle cx="108.5" cy="421.7" r="1.5"/><circle cx="110.6" cy="420.5" r="1.5"/><circle cx="94.8" cy="417.2" r="1.5"/><circle cx="96.9" cy="417.9" r="1.5"/><circle cx="99" cy="418.8" r="1.5"/><circle cx="101.1" cy="419.4" r="1.5"/><circle cx="103.3" cy="419.4" r="1.5"/><circle cx="105.3" cy="418.9" r="1.5"/><circle cx="107.3" cy="418.2" r="1.5"/><circle cx="109.4" cy="417.1" r="1.5"/><circle cx="93.8" cy="412" r="1.5"/><circle cx="95.9" cy="413.1" r="1.5"/><circle cx="97.9" cy="414" r="1.5"/><circle cx="100.1" cy="414.9" r="1.5"/><circle cx="102.1" cy="415.5" r="1.5"/><circle cx="104.2" cy="415" r="1.5"/><circle cx="106.4" cy="414.1" r="1.5"/><circle cx="108.5" cy="413.2" r="1.5"/><circle cx="110.5" cy="411.9" r="1.5"/><circle cx="94.9" cy="408.8" r="1.5"/><circle cx="96.9" cy="409.2" r="1.5"/><circle cx="99.1" cy="409.7" r="1.5"/><circle cx="101.3" cy="410.2" r="1.5"/><circle cx="103.4" cy="410.3" r="1.5"/><circle cx="105.4" cy="409.9" r="1.5"/><circle cx="107.4" cy="409.2" r="1.5"/><circle cx="109.6" cy="408.7" r="1.5"/><circle cx="95" cy="403.7" r="1.5"/><circle cx="97" cy="404.7" r="1.5"/><circle cx="99.1" cy="405.8" r="1.5"/><circle cx="101" cy="406.9" r="1.5"/><circle cx="103.1" cy="406.7" r="1.5"/><circle cx="105.3" cy="405.8" r="1.5"/><circle cx="107.4" cy="404.8" r="1.5"/><circle cx="109.6" cy="403.6" r="1.5"/><circle cx="94.9" cy="399.6" r="1.5"/><circle cx="96.9" cy="400.4" r="1.5"/><circle cx="99.1" cy="401" r="1.5"/><circle cx="101.2" cy="401.5" r="1.5"/><circle cx="103.1" cy="401.5" r="1.5"/><circle cx="105.4" cy="401" r="1.5"/><circle cx="107.3" cy="400.4" r="1.5"/><circle cx="109.6" cy="399.8" r="1.5"/><circle cx="93.7" cy="394.3" r="1.5"/><circle cx="95.8" cy="395.5" r="1.5"/><circle cx="98" cy="396.4" r="1.5"/><circle cx="100.2" cy="397.6" r="1.5"/><circle cx="102.1" cy="398.1" r="1.5"/><circle cx="104.2" cy="397.6" r="1.5"/><circle cx="106.3" cy="396.4" r="1.5"/><circle cx="108.5" cy="395.4" r="1.5"/><circle cx="110.6" cy="394.3" r="1.5"/><circle cx="94.8" cy="391" r="1.5"/><circle cx="97" cy="391.5" r="1.5"/><circle cx="98.9" cy="392.3" r="1.5"/><circle cx="101" cy="392.9" r="1.5"/><circle cx="103.1" cy="392.9" r="1.5"/><circle cx="105.4" cy="392.3" r="1.5"/><circle cx="107.5" cy="391.6" r="1.5"/><circle cx="109.7" cy="390.9" r="1.5"/><circle cx="93.7" cy="385.3" r="1.5"/><circle cx="95.8" cy="386.7" r="1.5"/><circle cx="98" cy="387.6" r="1.5"/><circle cx="100.1" cy="388.8" r="1.5"/><circle cx="102.3" cy="389.3" r="1.5"/><circle cx="104.4" cy="388.8" r="1.5"/><circle cx="106.3" cy="387.7" r="1.5"/><circle cx="108.6" cy="386.7" r="1.5"/><circle cx="110.7" cy="385.5" r="1.5"/><circle cx="94.8" cy="381.8" r="1.5"/><circle cx="97.1" cy="382.8" r="1.5"/><circle cx="99.2" cy="383.6" r="1.5"/><circle cx="101.2" cy="384.3" r="1.5"/><circle cx="103.3" cy="384.5" r="1.5"/><circle cx="105.3" cy="383.8" r="1.5"/><circle cx="107.5" cy="382.7" r="1.5"/><circle cx="109.4" cy="381.9" r="1.5"/><circle cx="93.9" cy="377.2" r="1.5"/><circle cx="95.9" cy="378.1" r="1.5"/><circle cx="98" cy="378.7" r="1.5"/><circle cx="100.2" cy="379.6" r="1.5"/><circle cx="102.2" cy="379.9" r="1.5"/><circle cx="104.4" cy="379.5" r="1.5"/><circle cx="106.4" cy="378.9" r="1.5"/><circle cx="108.4" cy="378.1" r="1.5"/><circle cx="110.7" cy="377" r="1.5"/><circle cx="93.7" cy="372.1" r="1.5"/><circle cx="95.8" cy="373.5" r="1.5"/><circle cx="98" cy="374.4" r="1.5"/><circle cx="100.2" cy="375.4" r="1.5"/><circle cx="102.2" cy="376.3" r="1.5"/><circle cx="104.3" cy="375.7" r="1.5"/><circle cx="106.3" cy="374.7" r="1.5"/><circle cx="108.4" cy="373.4" r="1.5"/><circle cx="110.5" cy="372.2" r="1.5"/><circle cx="93.9" cy="368.2" r="1.5"/><circle cx="95.9" cy="369.4" r="1.5"/><circle cx="98" cy="370" r="1.5"/><circle cx="100.1" cy="370.6" r="1.5"/><circle cx="102.3" cy="371.2" r="1.5"/><circle cx="104.2" cy="370.7" r="1.5"/><circle cx="106.5" cy="370.1" r="1.5"/><circle cx="108.6" cy="369.2" r="1.5"/><circle cx="110.5" cy="368.2" r="1.5"/><circle cx="93.8" cy="363.9" r="1.5"/><circle cx="95.9" cy="364.7" r="1.5"/><circle cx="98" cy="365.7" r="1.5"/><circle cx="100" cy="366.3" r="1.5"/><circle cx="102.2" cy="366.8" r="1.5"/><circle cx="104.2" cy="366.2" r="1.5"/><circle cx="106.3" cy="365.6" r="1.5"/><circle cx="108.6" cy="364.9" r="1.5"/><circle cx="110.7" cy="364" r="1.5"/><circle cx="99.7" cy="350.4" r="1.5"/><circle cx="104.7" cy="350.4" r="1.5"/><circle cx="97.2" cy="355.9" r="1.5"/><circle cx="107.2" cy="355.9" r="1.5"/><circle cx="94.2" cy="359.4" r="1.5"/><circle cx="110.2" cy="359.4" r="1.5"/></g>
<g fill="#cf9a3e" stroke="#4e360c" stroke-width="0.85"><circle cx="123.4" cy="429.9" r="1.4"/><circle cx="126.5" cy="431" r="1.4"/><circle cx="128.9" cy="431.9" r="1.4"/><circle cx="131.8" cy="432.9" r="1.4"/><circle cx="134.8" cy="432.2" r="1.4"/><circle cx="137.7" cy="431.3" r="1.4"/><circle cx="140.4" cy="429.6" r="1.4"/><circle cx="123.4" cy="425.9" r="1.4"/><circle cx="129.3" cy="427.2" r="1.4"/><circle cx="131.7" cy="427.5" r="1.4"/><circle cx="134.8" cy="427" r="1.4"/><circle cx="137.4" cy="426.7" r="1.4"/><circle cx="140.2" cy="426" r="1.4"/><circle cx="123.6" cy="421" r="1.4"/><circle cx="126.4" cy="421.8" r="1.4"/><circle cx="129" cy="422.9" r="1.4"/><circle cx="132.1" cy="423.7" r="1.4"/><circle cx="134.8" cy="422.7" r="1.4"/><circle cx="137.5" cy="421.8" r="1.4"/><circle cx="140.2" cy="420.7" r="1.4"/><circle cx="125" cy="416.8" r="1.4"/><circle cx="127.7" cy="417.7" r="1.4"/><circle cx="130.5" cy="418.1" r="1.4"/><circle cx="133.3" cy="418.2" r="1.4"/><circle cx="136" cy="417.8" r="1.4"/><circle cx="138.7" cy="416.9" r="1.4"/><circle cx="123.4" cy="411.7" r="1.4"/><circle cx="126.3" cy="412.7" r="1.4"/><circle cx="129.1" cy="413.5" r="1.4"/><circle cx="131.7" cy="414.2" r="1.4"/><circle cx="134.8" cy="413.6" r="1.4"/><circle cx="137.5" cy="412.9" r="1.4"/><circle cx="140.2" cy="411.6" r="1.4"/><circle cx="123.5" cy="407" r="1.4"/><circle cx="129.2" cy="409" r="1.4"/><circle cx="132" cy="409.4" r="1.4"/><circle cx="134.6" cy="408.8" r="1.4"/><circle cx="137.6" cy="408.1" r="1.4"/><circle cx="140.4" cy="407.1" r="1.4"/><circle cx="124.7" cy="402.7" r="1.4"/><circle cx="127.6" cy="403.9" r="1.4"/><circle cx="130.7" cy="405" r="1.4"/><circle cx="133.4" cy="405" r="1.4"/><circle cx="136.2" cy="404" r="1.4"/><circle cx="138.7" cy="402.8" r="1.4"/><circle cx="123.5" cy="397.1" r="1.4"/><circle cx="126.4" cy="398.8" r="1.4"/><circle cx="129" cy="400.4" r="1.4"/><circle cx="131.9" cy="401.1" r="1.4"/><circle cx="134.6" cy="400.3" r="1.4"/><circle cx="137.5" cy="399" r="1.4"/><circle cx="123.4" cy="392.6" r="1.4"/><circle cx="126.4" cy="394.2" r="1.4"/><circle cx="129" cy="395.5" r="1.4"/><circle cx="132.1" cy="396.3" r="1.4"/><circle cx="137.6" cy="394.4" r="1.4"/><circle cx="140.2" cy="393" r="1.4"/><circle cx="125" cy="388.8" r="1.4"/><circle cx="130.6" cy="391.6" r="1.4"/><circle cx="133.5" cy="391.5" r="1.4"/><circle cx="136.1" cy="390.5" r="1.4"/><circle cx="139.1" cy="389" r="1.4"/><circle cx="123.4" cy="384.2" r="1.4"/><circle cx="126.3" cy="385" r="1.4"/><circle cx="129.1" cy="385.9" r="1.4"/><circle cx="132" cy="386.3" r="1.4"/><circle cx="134.6" cy="386" r="1.4"/><circle cx="137.6" cy="385.1" r="1.4"/><circle cx="140.5" cy="384.3" r="1.4"/><circle cx="125" cy="380.1" r="1.4"/><circle cx="127.8" cy="380.9" r="1.4"/><circle cx="130.4" cy="381.7" r="1.4"/><circle cx="133.4" cy="381.9" r="1.4"/><circle cx="136" cy="381.1" r="1.4"/><circle cx="139" cy="380" r="1.4"/><circle cx="124.8" cy="375" r="1.4"/><circle cx="127.7" cy="376.5" r="1.4"/><circle cx="130.6" cy="377.4" r="1.4"/><circle cx="133.1" cy="377.6" r="1.4"/><circle cx="136.1" cy="376.4" r="1.4"/><circle cx="138.9" cy="375.3" r="1.4"/><circle cx="123.5" cy="369.6" r="1.4"/><circle cx="126.5" cy="371.1" r="1.4"/><circle cx="129" cy="372.8" r="1.4"/><circle cx="131.8" cy="373.7" r="1.4"/><circle cx="134.7" cy="372.5" r="1.4"/><circle cx="137.4" cy="371.1" r="1.4"/><circle cx="140.3" cy="369.5" r="1.4"/><circle cx="127.7" cy="367.1" r="1.4"/><circle cx="130.6" cy="368.2" r="1.4"/><circle cx="133.3" cy="368.1" r="1.4"/><circle cx="138.9" cy="366" r="1.4"/><circle cx="123.4" cy="361.3" r="1.4"/><circle cx="126.2" cy="362" r="1.4"/><circle cx="129.2" cy="362.9" r="1.4"/><circle cx="131.7" cy="363.3" r="1.4"/><circle cx="134.7" cy="362.8" r="1.4"/><circle cx="137.3" cy="362.3" r="1.4"/><circle cx="140.4" cy="361.2" r="1.4"/><circle cx="124.9" cy="353.1" r="1.4"/><circle cx="138.9" cy="353.1" r="1.4"/><circle cx="128.4" cy="355.6" r="1.4"/><circle cx="135.4" cy="355.6" r="1.4"/><circle cx="131.9" cy="359.1" r="1.4"/></g>
<g fill="#7b1834" stroke="#561022" stroke-width="0.5"><circle cx="161.5" cy="363.1" r="1.65"/><circle cx="158.5" cy="366.3" r="1.65"/><circle cx="163.9" cy="366.8" r="1.65"/><circle cx="168" cy="368.3" r="1.65"/><circle cx="161.5" cy="372.5" r="1.65"/><circle cx="157.5" cy="374.4" r="1.65"/><circle cx="164.3" cy="376" r="1.65"/><circle cx="161.5" cy="382.6" r="1.65"/><circle cx="157.3" cy="384" r="1.65"/><circle cx="165.5" cy="384.5" r="1.65"/><circle cx="161.5" cy="391.3" r="1.65"/><circle cx="157.2" cy="392.2" r="1.65"/><circle cx="163.8" cy="395" r="1.65"/><circle cx="159.8" cy="397" r="1.65"/><circle cx="163.4" cy="399.5" r="1.65"/><circle cx="156.5" cy="399.9" r="1.65"/><circle cx="160.7" cy="403" r="1.65"/><circle cx="166.2" cy="403" r="1.65"/><circle cx="155" cy="404" r="1.65"/><circle cx="162.4" cy="407" r="1.65"/><circle cx="161.5" cy="413" r="1.65"/><circle cx="161.5" cy="420" r="1.65"/><circle cx="161.5" cy="426.9" r="1.65"/><circle cx="157.1" cy="427.4" r="1.65"/><circle cx="165.8" cy="427.8" r="1.65"/><circle cx="162.8" cy="428.7" r="1.65"/><circle cx="159.7" cy="429.2" r="1.65"/><circle cx="154.6" cy="429.6" r="1.65"/><circle cx="165.9" cy="430.5" r="1.65"/><circle cx="166.2" cy="430.9" r="1.65"/><circle cx="158" cy="431.4" r="1.65"/><circle cx="165.6" cy="431.9" r="1.65"/><circle cx="161.2" cy="432.3" r="1.65"/></g>
<g fill="#a2ad94" stroke="#384b29" stroke-width="0.85"><circle cx="191.2" cy="379.6" r="1.4"/><circle cx="187" cy="380.2" r="1.4"/><circle cx="191.2" cy="390.9" r="1.4"/><circle cx="187.2" cy="392.3" r="1.4"/><circle cx="191.2" cy="406.2" r="1.4"/><circle cx="187.4" cy="408" r="1.4"/><circle cx="191.2" cy="417.9" r="1.4"/><circle cx="188" cy="420.6" r="1.4"/><circle cx="191.2" cy="425.4" r="1.4"/><circle cx="187.1" cy="426.4" r="1.4"/><circle cx="195.1" cy="426.9" r="1.4"/><circle cx="199.3" cy="427.4" r="1.4"/><circle cx="183.3" cy="428.2" r="1.4"/><circle cx="200.5" cy="428.7" r="1.4"/><circle cx="182.7" cy="429.2" r="1.4"/><circle cx="191.2" cy="430.5" r="1.4"/><circle cx="187.1" cy="431.4" r="1.4"/><circle cx="195.2" cy="431.9" r="1.4"/></g>
<line x1="72.7" y1="390.9" x2="72.7" y2="431.4" stroke="#000" stroke-width="1.35"/>
<line x1="67" y1="390.9" x2="78.4" y2="390.9" stroke="#000" stroke-width="1.4"/>
<line x1="67" y1="431.4" x2="78.4" y2="431.4" stroke="#000" stroke-width="1.4"/>
<line x1="62.7" y1="411.2" x2="82.7" y2="411.2" stroke="#000" stroke-width="1.6"/>
<line x1="102.2" y1="377.4" x2="102.2" y2="418.8" stroke="#000" stroke-width="1.35"/>
<line x1="97.2" y1="377.4" x2="107.2" y2="377.4" stroke="#000" stroke-width="1.4"/>
<line x1="97.2" y1="418.8" x2="107.2" y2="418.8" stroke="#000" stroke-width="1.4"/>
<line x1="92.2" y1="398.1" x2="112.2" y2="398.1" stroke="#000" stroke-width="1.6"/>
<line x1="131.9" y1="371.1" x2="131.9" y2="412.5" stroke="#000" stroke-width="1.35"/>
<line x1="126.9" y1="371.1" x2="136.9" y2="371.1" stroke="#000" stroke-width="1.4"/>
<line x1="126.9" y1="412.5" x2="136.9" y2="412.5" stroke="#000" stroke-width="1.4"/>
<line x1="121.9" y1="391.8" x2="141.9" y2="391.8" stroke="#000" stroke-width="1.6"/>
<line x1="161.5" y1="377.4" x2="161.5" y2="424.2" stroke="#000" stroke-width="1.35"/>
<line x1="156.6" y1="377.4" x2="166.4" y2="377.4" stroke="#000" stroke-width="1.4"/>
<line x1="156.6" y1="424.2" x2="166.4" y2="424.2" stroke="#000" stroke-width="1.4"/>
<line x1="152.1" y1="400.8" x2="170.9" y2="400.8" stroke="#000" stroke-width="1.6"/>
<line x1="191.2" y1="396.3" x2="191.2" y2="429.6" stroke="#000" stroke-width="1.35"/>
<line x1="186.2" y1="396.3" x2="196.2" y2="396.3" stroke="#000" stroke-width="1.4"/>
<line x1="186.2" y1="429.6" x2="196.2" y2="429.6" stroke="#000" stroke-width="1.4"/>
<line x1="181.2" y1="412.5" x2="201.2" y2="412.5" stroke="#000" stroke-width="1.6"/>
<text x="72.7" y="450.2" font-size="6.5" text-anchor="middle" fill="#2a2a2a">[0-1]</text>
<text x="72.7" y="457.8" font-size="6.5" text-anchor="middle" fill="#2a2a2a">n=20</text>
<text x="102.2" y="450.2" font-size="6.5" text-anchor="middle" fill="#2a2a2a">(1-10]</text>
<text x="102.2" y="457.8" font-size="6.5" text-anchor="middle" fill="#2a2a2a">n=185</text>
<text x="131.9" y="450.2" font-size="6.5" text-anchor="middle" fill="#2a2a2a">(10-30]</text>
<text x="131.9" y="457.8" font-size="6.5" text-anchor="middle" fill="#2a2a2a">n=140</text>
<text x="161.5" y="450.2" font-size="6.5" text-anchor="middle" fill="#2a2a2a">(30-50]</text>
<text x="161.5" y="457.8" font-size="6.5" text-anchor="middle" fill="#2a2a2a">n=33</text>
<text x="191.2" y="450.2" font-size="6.5" text-anchor="middle" fill="#2a2a2a">&gt;50</text>
<text x="191.2" y="457.8" font-size="6.5" text-anchor="middle" fill="#2a2a2a">n=18</text>
<text x="210.3" y="437" font-size="6.8" fill="#2a2a2a" textLength="40.5" lengthAdjust="spacingAndGlyphs">PD-L1<tspan baseline-shift="3.2" font-size="5.2">+</tspan>CD20<tspan baseline-shift="3.2" font-size="5.2">+</tspan></text>
<text x="210.5" y="444.2" font-size="6.4" fill="#2a2a2a">(%)</text>
<line x1="316.9" y1="338.7" x2="316.9" y2="437.2" stroke="#000" stroke-width="1.45"/>
<line x1="313.1" y1="432.3" x2="316.9" y2="432.3" stroke="#000" stroke-width="1.1"/>
<text x="309.3" y="434.7" font-size="6.8" text-anchor="end" textLength="3.1" lengthAdjust="spacingAndGlyphs" style="stroke:#141414;stroke-width:0.22" fill="#141414">0</text>
<line x1="313.1" y1="414.3" x2="316.9" y2="414.3" stroke="#000" stroke-width="1.1"/>
<text x="309.3" y="416.7" font-size="6.8" text-anchor="end" textLength="6.3" lengthAdjust="spacingAndGlyphs" style="stroke:#141414;stroke-width:0.22" fill="#141414">20</text>
<line x1="313.1" y1="396.3" x2="316.9" y2="396.3" stroke="#000" stroke-width="1.1"/>
<text x="309.3" y="398.7" font-size="6.8" text-anchor="end" textLength="6.3" lengthAdjust="spacingAndGlyphs" style="stroke:#141414;stroke-width:0.22" fill="#141414">40</text>
<line x1="313.1" y1="378.3" x2="316.9" y2="378.3" stroke="#000" stroke-width="1.1"/>
<text x="309.3" y="380.7" font-size="6.8" text-anchor="end" textLength="6.3" lengthAdjust="spacingAndGlyphs" style="stroke:#141414;stroke-width:0.22" fill="#141414">60</text>
<line x1="313.1" y1="360.3" x2="316.9" y2="360.3" stroke="#000" stroke-width="1.1"/>
<text x="309.3" y="362.7" font-size="6.8" text-anchor="end" textLength="6.3" lengthAdjust="spacingAndGlyphs" style="stroke:#141414;stroke-width:0.22" fill="#141414">80</text>
<line x1="313.1" y1="342.3" x2="316.9" y2="342.3" stroke="#000" stroke-width="1.1"/>
<text x="309.3" y="344.7" font-size="6.8" text-anchor="end" textLength="9.4" lengthAdjust="spacingAndGlyphs" style="stroke:#141414;stroke-width:0.22" fill="#141414">100</text>
<line x1="316.9" y1="437.2" x2="466" y2="437.2" stroke="#000" stroke-width="1.45"/>
<line x1="332.2" y1="437.2" x2="332.2" y2="440.2" stroke="#000" stroke-width="1.1"/>
<line x1="361.7" y1="437.2" x2="361.7" y2="440.2" stroke="#000" stroke-width="1.1"/>
<line x1="391.4" y1="437.2" x2="391.4" y2="440.2" stroke="#000" stroke-width="1.1"/>
<line x1="421" y1="437.2" x2="421" y2="440.2" stroke="#000" stroke-width="1.1"/>
<line x1="450.7" y1="437.2" x2="450.7" y2="440.2" stroke="#000" stroke-width="1.1"/>
<text transform="translate(292.7,388) rotate(-90)" font-size="8.5" text-anchor="middle" fill="#1e1e1e" textLength="68.5" lengthAdjust="spacingAndGlyphs">PD-1<tspan baseline-shift="3.2" font-size="5.2">+</tspan>CD3<tspan baseline-shift="3.2" font-size="5.2">+</tspan>CD4<tspan baseline-shift="3.2" font-size="5.2">+</tspan> (%)</text>
<g fill="#a2ad94" stroke="#384b29" stroke-width="0.85"><circle cx="332.2" cy="357.6" r="1.4"/><circle cx="332.2" cy="381.1" r="1.4"/><circle cx="332.2" cy="391.8" r="1.4"/><circle cx="332.2" cy="408.7" r="1.4"/><circle cx="328" cy="408.7" r="1.4"/><circle cx="336.2" cy="409.9" r="1.4"/><circle cx="332.2" cy="413" r="1.4"/><circle cx="328" cy="413" r="1.4"/><circle cx="332.2" cy="417.3" r="1.4"/><circle cx="330" cy="420.9" r="1.4"/><circle cx="333.5" cy="423.2" r="1.4"/><circle cx="330.7" cy="426.4" r="1.4"/><circle cx="334.2" cy="428.8" r="1.4"/><circle cx="328.2" cy="429.7" r="1.4"/><circle cx="338.1" cy="430.4" r="1.4"/><circle cx="324.7" cy="432" r="1.4"/><circle cx="329.9" cy="432" r="1.4"/><circle cx="327" cy="432" r="1.4"/><circle cx="334.6" cy="432" r="1.4"/><circle cx="337.5" cy="432" r="1.4"/></g>
<g fill="#2f4060" stroke="#1c2740" stroke-width="0.5"><circle cx="353.4" cy="429.3" r="1.5"/><circle cx="355.5" cy="430.6" r="1.5"/><circle cx="357.4" cy="431.7" r="1.5"/><circle cx="359.5" cy="432.5" r="1.5"/><circle cx="361.7" cy="433.2" r="1.5"/><circle cx="363.7" cy="432.7" r="1.5"/><circle cx="366" cy="431.6" r="1.5"/><circle cx="368" cy="430.6" r="1.5"/><circle cx="370" cy="429.6" r="1.5"/><circle cx="354.4" cy="426" r="1.5"/><circle cx="356.6" cy="426.8" r="1.5"/><circle cx="358.6" cy="427.5" r="1.5"/><circle cx="360.6" cy="428.1" r="1.5"/><circle cx="362.7" cy="428.2" r="1.5"/><circle cx="364.8" cy="427.4" r="1.5"/><circle cx="367" cy="426.8" r="1.5"/><circle cx="369" cy="426.2" r="1.5"/><circle cx="353.4" cy="421" r="1.5"/><circle cx="355.5" cy="422.1" r="1.5"/><circle cx="357.5" cy="422.8" r="1.5"/><circle cx="359.5" cy="423.5" r="1.5"/><circle cx="361.6" cy="424" r="1.5"/><circle cx="363.8" cy="423.4" r="1.5"/><circle cx="365.8" cy="422.8" r="1.5"/><circle cx="368" cy="422.1" r="1.5"/><circle cx="370" cy="421.2" r="1.5"/><circle cx="353.3" cy="416.5" r="1.5"/><circle cx="355.5" cy="417.6" r="1.5"/><circle cx="357.5" cy="418.4" r="1.5"/><circle cx="359.7" cy="419.2" r="1.5"/><circle cx="361.7" cy="419.5" r="1.5"/><circle cx="363.9" cy="419.2" r="1.5"/><circle cx="366" cy="418.3" r="1.5"/><circle cx="368" cy="417.4" r="1.5"/><circle cx="370.1" cy="416.7" r="1.5"/><circle cx="353.2" cy="412.2" r="1.5"/><circle cx="355.3" cy="413.1" r="1.5"/><circle cx="357.4" cy="414.1" r="1.5"/><circle cx="359.5" cy="414.8" r="1.5"/><circle cx="361.8" cy="415.6" r="1.5"/><circle cx="363.9" cy="414.9" r="1.5"/><circle cx="365.8" cy="414.2" r="1.5"/><circle cx="368.1" cy="413" r="1.5"/><circle cx="370.2" cy="412.1" r="1.5"/><circle cx="353.4" cy="407.7" r="1.5"/><circle cx="355.4" cy="408.7" r="1.5"/><circle cx="357.4" cy="409.7" r="1.5"/><circle cx="359.5" cy="410.5" r="1.5"/><circle cx="361.6" cy="410.9" r="1.5"/><circle cx="363.8" cy="410.4" r="1.5"/><circle cx="365.8" cy="409.7" r="1.5"/><circle cx="368.1" cy="408.7" r="1.5"/><circle cx="370.1" cy="407.8" r="1.5"/><circle cx="354.2" cy="403.9" r="1.5"/><circle cx="356.5" cy="404.9" r="1.5"/><circle cx="358.6" cy="405.6" r="1.5"/><circle cx="360.5" cy="406.3" r="1.5"/><circle cx="362.7" cy="406.4" r="1.5"/><circle cx="364.8" cy="405.7" r="1.5"/><circle cx="367" cy="404.7" r="1.5"/><circle cx="369.1" cy="403.9" r="1.5"/><circle cx="354.3" cy="399.6" r="1.5"/><circle cx="356.5" cy="400.5" r="1.5"/><circle cx="358.6" cy="401.4" r="1.5"/><circle cx="360.5" cy="401.9" r="1.5"/><circle cx="362.6" cy="401.9" r="1.5"/><circle cx="364.8" cy="401.2" r="1.5"/><circle cx="367" cy="400.3" r="1.5"/><circle cx="369.1" cy="399.4" r="1.5"/><circle cx="353.4" cy="394.6" r="1.5"/><circle cx="355.5" cy="395.6" r="1.5"/><circle cx="357.4" cy="396.5" r="1.5"/><circle cx="359.7" cy="397" r="1.5"/><circle cx="361.7" cy="397.6" r="1.5"/><circle cx="363.7" cy="397.2" r="1.5"/><circle cx="365.8" cy="396.4" r="1.5"/><circle cx="367.9" cy="395.7" r="1.5"/><circle cx="370" cy="394.6" r="1.5"/><circle cx="354.3" cy="391" r="1.5"/><circle cx="356.4" cy="391.6" r="1.5"/><circle cx="358.6" cy="392" r="1.5"/><circle cx="360.5" cy="392.5" r="1.5"/><circle cx="362.8" cy="392.6" r="1.5"/><circle cx="364.8" cy="392" r="1.5"/><circle cx="366.9" cy="391.8" r="1.5"/><circle cx="369" cy="391" r="1.5"/><circle cx="353.3" cy="385.4" r="1.5"/><circle cx="355.4" cy="386.5" r="1.5"/><circle cx="357.6" cy="387.7" r="1.5"/><circle cx="359.6" cy="388.7" r="1.5"/><circle cx="361.6" cy="389.4" r="1.5"/><circle cx="363.7" cy="388.7" r="1.5"/><circle cx="366" cy="387.6" r="1.5"/><circle cx="368" cy="386.7" r="1.5"/><circle cx="370" cy="385.3" r="1.5"/><circle cx="353.3" cy="381.3" r="1.5"/><circle cx="355.3" cy="382.3" r="1.5"/><circle cx="357.5" cy="383.2" r="1.5"/><circle cx="359.7" cy="384.1" r="1.5"/><circle cx="361.6" cy="384.7" r="1.5"/><circle cx="363.7" cy="384.2" r="1.5"/><circle cx="366" cy="383.1" r="1.5"/><circle cx="368" cy="382.2" r="1.5"/><circle cx="370.1" cy="381.2" r="1.5"/><circle cx="353.4" cy="377.5" r="1.5"/><circle cx="355.3" cy="378.3" r="1.5"/><circle cx="357.5" cy="378.8" r="1.5"/><circle cx="359.7" cy="379.1" r="1.5"/><circle cx="361.6" cy="379.5" r="1.5"/><circle cx="363.7" cy="379.2" r="1.5"/><circle cx="365.8" cy="378.6" r="1.5"/><circle cx="368" cy="378.3" r="1.5"/><circle cx="370" cy="377.6" r="1.5"/><circle cx="354.5" cy="373.2" r="1.5"/><circle cx="356.5" cy="373.9" r="1.5"/><circle cx="358.4" cy="374.7" r="1.5"/><circle cx="360.5" cy="375.3" r="1.5"/><circle cx="362.7" cy="375.2" r="1.5"/><circle cx="364.8" cy="374.6" r="1.5"/><circle cx="366.9" cy="374" r="1.5"/><circle cx="369.1" cy="373.2" r="1.5"/><circle cx="354.2" cy="369" r="1.5"/><circle cx="356.6" cy="369.6" r="1.5"/><circle cx="358.7" cy="370.1" r="1.5"/><circle cx="360.7" cy="370.7" r="1.5"/><circle cx="362.7" cy="370.7" r="1.5"/><circle cx="364.8" cy="370.2" r="1.5"/><circle cx="366.9" cy="369.6" r="1.5"/><circle cx="368.9" cy="369.1" r="1.5"/><circle cx="354.4" cy="364.4" r="1.5"/><circle cx="356.4" cy="365.2" r="1.5"/><circle cx="358.5" cy="366.1" r="1.5"/><circle cx="360.8" cy="366.7" r="1.5"/><circle cx="362.8" cy="366.6" r="1.5"/><circle cx="365" cy="366" r="1.5"/><circle cx="367" cy="365.1" r="1.5"/><circle cx="369" cy="364.3" r="1.5"/><circle cx="354.4" cy="359.7" r="1.5"/><circle cx="356.3" cy="360.8" r="1.5"/><circle cx="358.6" cy="361.5" r="1.5"/><circle cx="360.8" cy="362.3" r="1.5"/><circle cx="362.7" cy="362.4" r="1.5"/><circle cx="364.9" cy="361.6" r="1.5"/><circle cx="367" cy="360.7" r="1.5"/><circle cx="369.2" cy="359.9" r="1.5"/><circle cx="359.2" cy="349.5" r="1.5"/><circle cx="364.2" cy="349.5" r="1.5"/><circle cx="356.7" cy="355" r="1.5"/><circle cx="366.7" cy="355" r="1.5"/><circle cx="353.7" cy="358.5" r="1.5"/><circle cx="369.7" cy="358.5" r="1.5"/></g>
<g fill="#cf9a3e" stroke="#4e360c" stroke-width="0.85"><circle cx="382.9" cy="429.4" r="1.4"/><circle cx="386" cy="431.1" r="1.4"/><circle cx="388.5" cy="432.6" r="1.4"/><circle cx="391.3" cy="433.4" r="1.4"/><circle cx="394.3" cy="432.6" r="1.4"/><circle cx="396.9" cy="430.8" r="1.4"/><circle cx="399.7" cy="429.2" r="1.4"/><circle cx="384.3" cy="426.3" r="1.4"/><circle cx="387.3" cy="426.8" r="1.4"/><circle cx="390" cy="427.3" r="1.4"/><circle cx="392.8" cy="427.3" r="1.4"/><circle cx="395.6" cy="426.7" r="1.4"/><circle cx="398.3" cy="426.1" r="1.4"/><circle cx="384.4" cy="421.6" r="1.4"/><circle cx="387.1" cy="422.5" r="1.4"/><circle cx="390.2" cy="423" r="1.4"/><circle cx="392.9" cy="422.6" r="1.4"/><circle cx="395.7" cy="422.4" r="1.4"/><circle cx="398.5" cy="421.5" r="1.4"/><circle cx="384.3" cy="416.8" r="1.4"/><circle cx="387.3" cy="417.9" r="1.4"/><circle cx="390.2" cy="418.9" r="1.4"/><circle cx="392.7" cy="418.9" r="1.4"/><circle cx="395.4" cy="417.8" r="1.4"/><circle cx="398.6" cy="416.7" r="1.4"/><circle cx="383" cy="411.3" r="1.4"/><circle cx="385.7" cy="412.5" r="1.4"/><circle cx="388.7" cy="413.7" r="1.4"/><circle cx="391.6" cy="414.5" r="1.4"/><circle cx="394.2" cy="413.8" r="1.4"/><circle cx="397.2" cy="412.6" r="1.4"/><circle cx="399.9" cy="411.2" r="1.4"/><circle cx="384.4" cy="407" r="1.4"/><circle cx="387.2" cy="408.9" r="1.4"/><circle cx="390.1" cy="410.1" r="1.4"/><circle cx="392.7" cy="410" r="1.4"/><circle cx="395.6" cy="408.8" r="1.4"/><circle cx="398.3" cy="407.2" r="1.4"/><circle cx="384.2" cy="402.4" r="1.4"/><circle cx="387.2" cy="404.3" r="1.4"/><circle cx="390.2" cy="405.6" r="1.4"/><circle cx="392.8" cy="405.3" r="1.4"/><circle cx="395.5" cy="404.2" r="1.4"/><circle cx="398.4" cy="402.5" r="1.4"/><circle cx="383.1" cy="397.8" r="1.4"/><circle cx="385.6" cy="398.9" r="1.4"/><circle cx="388.8" cy="400" r="1.4"/><circle cx="394.3" cy="399.8" r="1.4"/><circle cx="397.1" cy="399" r="1.4"/><circle cx="399.8" cy="397.7" r="1.4"/><circle cx="382.9" cy="393.4" r="1.4"/><circle cx="385.8" cy="394.5" r="1.4"/><circle cx="388.8" cy="395" r="1.4"/><circle cx="391.4" cy="395.8" r="1.4"/><circle cx="394.2" cy="395.1" r="1.4"/><circle cx="397" cy="394.4" r="1.4"/><circle cx="399.6" cy="393.3" r="1.4"/><circle cx="384.2" cy="388.9" r="1.4"/><circle cx="387.1" cy="390.3" r="1.4"/><circle cx="390.1" cy="391.5" r="1.4"/><circle cx="392.7" cy="391.6" r="1.4"/><circle cx="395.7" cy="390.5" r="1.4"/><circle cx="398.4" cy="388.8" r="1.4"/><circle cx="383" cy="384.2" r="1.4"/><circle cx="385.6" cy="385" r="1.4"/><circle cx="388.8" cy="385.9" r="1.4"/><circle cx="391.4" cy="386.6" r="1.4"/><circle cx="394" cy="385.9" r="1.4"/><circle cx="396.9" cy="385" r="1.4"/><circle cx="399.8" cy="383.9" r="1.4"/><circle cx="383.1" cy="379" r="1.4"/><circle cx="386" cy="380.5" r="1.4"/><circle cx="388.4" cy="381.9" r="1.4"/><circle cx="391.2" cy="382.7" r="1.4"/><circle cx="394.3" cy="381.9" r="1.4"/><circle cx="396.9" cy="380.6" r="1.4"/><circle cx="399.7" cy="379" r="1.4"/><circle cx="382.9" cy="374.4" r="1.4"/><circle cx="385.7" cy="376" r="1.4"/><circle cx="388.5" cy="377.1" r="1.4"/><circle cx="391.2" cy="378" r="1.4"/><circle cx="394.1" cy="376.9" r="1.4"/><circle cx="397.1" cy="375.8" r="1.4"/><circle cx="399.7" cy="374.3" r="1.4"/><circle cx="382.8" cy="370.4" r="1.4"/><circle cx="385.9" cy="371.1" r="1.4"/><circle cx="388.7" cy="372.3" r="1.4"/><circle cx="391.4" cy="372.6" r="1.4"/><circle cx="394.1" cy="372.3" r="1.4"/><circle cx="397.1" cy="371.3" r="1.4"/><circle cx="399.7" cy="370.2" r="1.4"/><circle cx="384.3" cy="366.2" r="1.4"/><circle cx="387.3" cy="367.2" r="1.4"/><circle cx="390" cy="368.1" r="1.4"/><circle cx="392.8" cy="367.9" r="1.4"/><circle cx="395.5" cy="367.1" r="1.4"/><circle cx="398.4" cy="366.4" r="1.4"/><circle cx="383" cy="361.3" r="1.4"/><circle cx="386" cy="362.1" r="1.4"/><circle cx="388.7" cy="363" r="1.4"/><circle cx="391.5" cy="363.3" r="1.4"/><circle cx="394.1" cy="362.8" r="1.4"/><circle cx="397.2" cy="362.3" r="1.4"/><circle cx="399.8" cy="361.5" r="1.4"/><circle cx="384.4" cy="349.5" r="1.4"/><circle cx="398.4" cy="349.5" r="1.4"/><circle cx="387.9" cy="352" r="1.4"/><circle cx="394.9" cy="352" r="1.4"/><circle cx="391.4" cy="355.5" r="1.4"/></g>
<g fill="#7b1834" stroke="#561022" stroke-width="0.5"><circle cx="421" cy="358.2" r="1.65"/><circle cx="421" cy="371.1" r="1.65"/><circle cx="417" cy="372.9" r="1.65"/><circle cx="423.5" cy="374.7" r="1.65"/><circle cx="427.9" cy="375.6" r="1.65"/><circle cx="419.5" cy="376.5" r="1.65"/><circle cx="415.2" cy="377.4" r="1.65"/><circle cx="421" cy="384.2" r="1.65"/><circle cx="416.6" cy="384.2" r="1.65"/><circle cx="421" cy="390.4" r="1.65"/><circle cx="416.6" cy="390.4" r="1.65"/><circle cx="419.3" cy="394.5" r="1.65"/><circle cx="421" cy="399" r="1.65"/><circle cx="416.6" cy="399" r="1.65"/><circle cx="421" cy="405.3" r="1.65"/><circle cx="416.6" cy="405.3" r="1.65"/><circle cx="425.4" cy="405.3" r="1.65"/><circle cx="421" cy="410.7" r="1.65"/><circle cx="416.6" cy="410.7" r="1.65"/><circle cx="421" cy="415.2" r="1.65"/><circle cx="416.6" cy="415.2" r="1.65"/><circle cx="421" cy="422.4" r="1.65"/><circle cx="416.6" cy="422.4" r="1.65"/><circle cx="421" cy="427.4" r="1.65"/><circle cx="416.6" cy="427.8" r="1.65"/><circle cx="425.3" cy="428.2" r="1.65"/><circle cx="415.6" cy="428.7" r="1.65"/><circle cx="427.3" cy="429.6" r="1.65"/><circle cx="423.1" cy="430.5" r="1.65"/><circle cx="426.6" cy="430.9" r="1.65"/><circle cx="419.7" cy="431.4" r="1.65"/><circle cx="428.4" cy="431.9" r="1.65"/><circle cx="413.9" cy="432.3" r="1.65"/></g>
<g fill="#a2ad94" stroke="#384b29" stroke-width="0.85"><circle cx="450.7" cy="365.7" r="1.4"/><circle cx="450.7" cy="384.6" r="1.4"/><circle cx="447.5" cy="387.3" r="1.4"/><circle cx="450.7" cy="415.2" r="1.4"/><circle cx="446.5" cy="415.2" r="1.4"/><circle cx="454.8" cy="416.1" r="1.4"/><circle cx="450.7" cy="419.7" r="1.4"/><circle cx="446.5" cy="419.7" r="1.4"/><circle cx="454.8" cy="420.6" r="1.4"/><circle cx="450.7" cy="425.1" r="1.4"/><circle cx="446.5" cy="425.1" r="1.4"/><circle cx="454.8" cy="426" r="1.4"/><circle cx="442.4" cy="426" r="1.4"/><circle cx="458" cy="428.7" r="1.4"/><circle cx="457.3" cy="428.7" r="1.4"/><circle cx="450.7" cy="431.4" r="1.4"/><circle cx="446.6" cy="432.3" r="1.4"/><circle cx="454.8" cy="432.3" r="1.4"/></g>
<line x1="332.2" y1="396.3" x2="332.2" y2="432.3" stroke="#000" stroke-width="1.35"/>
<line x1="327.2" y1="396.3" x2="337.2" y2="396.3" stroke="#000" stroke-width="1.4"/>
<line x1="327.2" y1="432.3" x2="337.2" y2="432.3" stroke="#000" stroke-width="1.4"/>
<line x1="322" y1="416.1" x2="342.4" y2="416.1" stroke="#000" stroke-width="1.6"/>
<line x1="361.7" y1="379.2" x2="361.7" y2="422.4" stroke="#000" stroke-width="1.35"/>
<line x1="356.7" y1="379.2" x2="366.7" y2="379.2" stroke="#000" stroke-width="1.4"/>
<line x1="356.7" y1="422.4" x2="366.7" y2="422.4" stroke="#000" stroke-width="1.4"/>
<line x1="351.7" y1="400.8" x2="371.7" y2="400.8" stroke="#000" stroke-width="1.6"/>
<line x1="391.4" y1="372.9" x2="391.4" y2="414.3" stroke="#000" stroke-width="1.35"/>
<line x1="386.4" y1="372.9" x2="396.4" y2="372.9" stroke="#000" stroke-width="1.4"/>
<line x1="386.4" y1="414.3" x2="396.4" y2="414.3" stroke="#000" stroke-width="1.4"/>
<line x1="381.4" y1="393.6" x2="401.4" y2="393.6" stroke="#000" stroke-width="1.6"/>
<line x1="421" y1="382.8" x2="421" y2="427.8" stroke="#000" stroke-width="1.35"/>
<line x1="416" y1="382.8" x2="426" y2="382.8" stroke="#000" stroke-width="1.4"/>
<line x1="416" y1="427.8" x2="426" y2="427.8" stroke="#000" stroke-width="1.4"/>
<line x1="410.9" y1="405.3" x2="431.1" y2="405.3" stroke="#000" stroke-width="1.6"/>
<line x1="450.7" y1="394.5" x2="450.7" y2="432.3" stroke="#000" stroke-width="1.35"/>
<line x1="445.7" y1="394.5" x2="455.7" y2="394.5" stroke="#000" stroke-width="1.4"/>
<line x1="445.7" y1="432.3" x2="455.7" y2="432.3" stroke="#000" stroke-width="1.4"/>
<line x1="440.7" y1="414.3" x2="460.7" y2="414.3" stroke="#000" stroke-width="1.6"/>
<text x="332.2" y="450.2" font-size="6.5" text-anchor="middle" fill="#2a2a2a">[0-1]</text>
<text x="332.2" y="457.8" font-size="6.5" text-anchor="middle" fill="#2a2a2a">n=20</text>
<text x="361.7" y="450.2" font-size="6.5" text-anchor="middle" fill="#2a2a2a">(1-10]</text>
<text x="361.7" y="457.8" font-size="6.5" text-anchor="middle" fill="#2a2a2a">n=185</text>
<text x="391.4" y="450.2" font-size="6.5" text-anchor="middle" fill="#2a2a2a">(10-30]</text>
<text x="391.4" y="457.8" font-size="6.5" text-anchor="middle" fill="#2a2a2a">n=140</text>
<text x="421" y="450.2" font-size="6.5" text-anchor="middle" fill="#2a2a2a">(30-50]</text>
<text x="421" y="457.8" font-size="6.5" text-anchor="middle" fill="#2a2a2a">n=33</text>
<text x="450.7" y="450.2" font-size="6.5" text-anchor="middle" fill="#2a2a2a">&gt;50</text>
<text x="450.7" y="457.8" font-size="6.5" text-anchor="middle" fill="#2a2a2a">n=18</text>
<text x="469.8" y="437" font-size="6.8" fill="#2a2a2a" textLength="40.5" lengthAdjust="spacingAndGlyphs">PD-L1<tspan baseline-shift="3.2" font-size="5.2">+</tspan>CD20<tspan baseline-shift="3.2" font-size="5.2">+</tspan></text>
<text x="470" y="444.2" font-size="6.4" fill="#2a2a2a">(%)</text>
<line x1="57.3" y1="473.6" x2="57.3" y2="572.2" stroke="#000" stroke-width="1.45"/>
<line x1="53.5" y1="572.3" x2="57.3" y2="572.3" stroke="#000" stroke-width="1.1"/>
<text x="49.7" y="574.7" font-size="6.4" text-anchor="end" textLength="14" lengthAdjust="spacingAndGlyphs" style="stroke:#141414;stroke-width:0.22" fill="#141414">-500</text>
<line x1="53.5" y1="556" x2="57.3" y2="556" stroke="#000" stroke-width="1.1"/>
<text x="49.7" y="558.4" font-size="6.4" text-anchor="end" textLength="3.5" lengthAdjust="spacingAndGlyphs" style="stroke:#141414;stroke-width:0.22" fill="#141414">0</text>
<line x1="53.5" y1="539.7" x2="57.3" y2="539.7" stroke="#000" stroke-width="1.1"/>
<text x="49.7" y="542.1" font-size="6.4" text-anchor="end" textLength="10.5" lengthAdjust="spacingAndGlyphs" style="stroke:#141414;stroke-width:0.22" fill="#141414">500</text>
<line x1="53.5" y1="523.4" x2="57.3" y2="523.4" stroke="#000" stroke-width="1.1"/>
<text x="49.7" y="525.8" font-size="6.4" text-anchor="end" textLength="14" lengthAdjust="spacingAndGlyphs" style="stroke:#141414;stroke-width:0.22" fill="#141414">1000</text>
<line x1="53.5" y1="507.2" x2="57.3" y2="507.2" stroke="#000" stroke-width="1.1"/>
<text x="49.7" y="509.6" font-size="6.4" text-anchor="end" textLength="14" lengthAdjust="spacingAndGlyphs" style="stroke:#141414;stroke-width:0.22" fill="#141414">1500</text>
<line x1="53.5" y1="490.9" x2="57.3" y2="490.9" stroke="#000" stroke-width="1.1"/>
<text x="49.7" y="493.3" font-size="6.4" text-anchor="end" textLength="14" lengthAdjust="spacingAndGlyphs" style="stroke:#141414;stroke-width:0.22" fill="#141414">2000</text>
<line x1="53.5" y1="474.6" x2="57.3" y2="474.6" stroke="#000" stroke-width="1.1"/>
<text x="49.7" y="477" font-size="6.4" text-anchor="end" textLength="14" lengthAdjust="spacingAndGlyphs" style="stroke:#141414;stroke-width:0.22" fill="#141414">2500</text>
<line x1="57.3" y1="572.2" x2="203" y2="572.2" stroke="#000" stroke-width="1.45"/>
<line x1="69.4" y1="572.2" x2="69.4" y2="575.2" stroke="#000" stroke-width="1.1"/>
<line x1="93.8" y1="572.2" x2="93.8" y2="575.2" stroke="#000" stroke-width="1.1"/>
<line x1="118.2" y1="572.2" x2="118.2" y2="575.2" stroke="#000" stroke-width="1.1"/>
<line x1="142.5" y1="572.2" x2="142.5" y2="575.2" stroke="#000" stroke-width="1.1"/>
<line x1="166.9" y1="572.2" x2="166.9" y2="575.2" stroke="#000" stroke-width="1.1"/>
<line x1="191.3" y1="572.2" x2="191.3" y2="575.2" stroke="#000" stroke-width="1.1"/>
<text transform="translate(29.4,521.8) rotate(-90)" font-size="8.2" text-anchor="middle" fill="#1e1e1e" textLength="65.7" lengthAdjust="spacingAndGlyphs">PD-1<tspan baseline-shift="3.2" font-size="5.2">+</tspan>CD3<tspan baseline-shift="3.2" font-size="5.2">+</tspan>CD8<tspan baseline-shift="3.2" font-size="5.2">+</tspan> (#)</text>
<g fill="#a2ad94" stroke="#384b29" stroke-width="0.75"><circle cx="69.4" cy="540.4" r="1.4"/><circle cx="69.4" cy="547.9" r="1.4"/><circle cx="67.9" cy="551.1" r="1.4"/><circle cx="71.3" cy="552.1" r="1.4"/><circle cx="64.6" cy="552.7" r="1.4"/><circle cx="74.8" cy="553.1" r="1.4"/><circle cx="74.5" cy="553.4" r="1.4"/><circle cx="67.4" cy="553.7" r="1.4"/><circle cx="74.7" cy="554" r="1.4"/><circle cx="61.4" cy="554.4" r="1.4"/><circle cx="64.8" cy="554.7" r="1.4"/><circle cx="73.4" cy="555" r="1.4"/><circle cx="68.9" cy="555.3" r="1.4"/><circle cx="68" cy="555.5" r="1.4"/><circle cx="64.5" cy="555.7" r="1.4"/><circle cx="74.2" cy="555.8" r="1.4"/><circle cx="73.1" cy="555.9" r="1.4"/><circle cx="62.8" cy="556" r="1.4"/><circle cx="77" cy="556" r="1.4"/><circle cx="64.9" cy="556" r="1.4"/></g>
<g fill="#2f4060" stroke="#1c2740" stroke-width="0.5"><circle cx="93.8" cy="502.3" r="1.6"/><circle cx="93.8" cy="520.2" r="1.6"/><circle cx="93.8" cy="526" r="1.6"/><circle cx="93.8" cy="534.8" r="1.6"/><circle cx="90.2" cy="535.8" r="1.6"/><circle cx="97.1" cy="536.5" r="1.6"/><circle cx="87" cy="537.7" r="1.6"/><circle cx="100.6" cy="537.8" r="1.6"/><circle cx="96.3" cy="537.8" r="1.6"/><circle cx="87.6" cy="538.1" r="1.6"/><circle cx="92.7" cy="538.9" r="1.6"/><circle cx="86.5" cy="540.2" r="1.6"/><circle cx="88.4" cy="540.2" r="1.6"/><circle cx="89.9" cy="540.6" r="1.6"/><circle cx="98.3" cy="540.9" r="1.6"/><circle cx="94.3" cy="541.1" r="1.6"/><circle cx="99" cy="541.4" r="1.6"/><circle cx="95.2" cy="541.7" r="1.6"/><circle cx="92.7" cy="542" r="1.6"/><circle cx="89.7" cy="542" r="1.6"/><circle cx="101.5" cy="543.1" r="1.6"/><circle cx="97.9" cy="543.5" r="1.6"/><circle cx="91.3" cy="543.5" r="1.6"/><circle cx="86.5" cy="543.6" r="1.6"/><circle cx="101.5" cy="544" r="1.6"/><circle cx="89.9" cy="544.1" r="1.6"/><circle cx="99.4" cy="544.1" r="1.6"/><circle cx="87.7" cy="544.3" r="1.6"/><circle cx="96.2" cy="544.7" r="1.6"/><circle cx="91.5" cy="545.2" r="1.6"/><circle cx="100" cy="545.3" r="1.6"/><circle cx="90.6" cy="545.5" r="1.6"/><circle cx="87.4" cy="545.8" r="1.6"/><circle cx="89" cy="545.9" r="1.6"/><circle cx="98.7" cy="546.1" r="1.6"/><circle cx="101.5" cy="546.2" r="1.6"/><circle cx="96.1" cy="546.2" r="1.6"/><circle cx="96.7" cy="546.3" r="1.6"/><circle cx="90.3" cy="546.4" r="1.6"/><circle cx="90.2" cy="546.4" r="1.6"/><circle cx="87.2" cy="546.6" r="1.6"/><circle cx="101.6" cy="546.6" r="1.6"/><circle cx="86.5" cy="546.8" r="1.6"/><circle cx="95.6" cy="546.8" r="1.6"/><circle cx="91.4" cy="546.9" r="1.6"/><circle cx="88.8" cy="546.9" r="1.6"/><circle cx="92.8" cy="546.9" r="1.6"/><circle cx="100.7" cy="547" r="1.6"/><circle cx="89.8" cy="547.2" r="1.6"/><circle cx="88.4" cy="547.2" r="1.6"/><circle cx="95.9" cy="547.3" r="1.6"/><circle cx="96.3" cy="547.3" r="1.6"/><circle cx="94" cy="547.6" r="1.6"/><circle cx="88.7" cy="547.6" r="1.6"/><circle cx="99.8" cy="547.7" r="1.6"/><circle cx="87.6" cy="547.7" r="1.6"/><circle cx="88.6" cy="547.9" r="1.6"/><circle cx="89.7" cy="548" r="1.6"/><circle cx="94" cy="548" r="1.6"/><circle cx="93.4" cy="548.1" r="1.6"/><circle cx="94.7" cy="548.2" r="1.6"/><circle cx="97.4" cy="548.4" r="1.6"/><circle cx="100.1" cy="548.5" r="1.6"/><circle cx="93.3" cy="548.8" r="1.6"/><circle cx="86.5" cy="548.9" r="1.6"/><circle cx="99.1" cy="549" r="1.6"/><circle cx="86.1" cy="549" r="1.6"/><circle cx="90.9" cy="549.3" r="1.6"/><circle cx="88.1" cy="549.3" r="1.6"/><circle cx="95.4" cy="549.4" r="1.6"/><circle cx="98.3" cy="549.5" r="1.6"/><circle cx="87.9" cy="549.6" r="1.6"/><circle cx="90.5" cy="549.7" r="1.6"/><circle cx="99.4" cy="549.7" r="1.6"/><circle cx="96.8" cy="549.9" r="1.6"/><circle cx="87.5" cy="549.9" r="1.6"/><circle cx="96.8" cy="550" r="1.6"/><circle cx="98.5" cy="550.1" r="1.6"/><circle cx="92.3" cy="550.1" r="1.6"/><circle cx="88.3" cy="550.2" r="1.6"/><circle cx="96.3" cy="550.2" r="1.6"/><circle cx="90.9" cy="550.3" r="1.6"/><circle cx="87.9" cy="550.3" r="1.6"/><circle cx="88.4" cy="550.3" r="1.6"/><circle cx="92.2" cy="550.3" r="1.6"/><circle cx="87.8" cy="550.3" r="1.6"/><circle cx="92" cy="550.5" r="1.6"/><circle cx="94.6" cy="550.5" r="1.6"/><circle cx="94.6" cy="550.6" r="1.6"/><circle cx="92.3" cy="550.6" r="1.6"/><circle cx="98.6" cy="550.8" r="1.6"/><circle cx="87.2" cy="550.9" r="1.6"/><circle cx="91.1" cy="551" r="1.6"/><circle cx="100.7" cy="551.1" r="1.6"/><circle cx="99.6" cy="551.1" r="1.6"/><circle cx="100.5" cy="551.2" r="1.6"/><circle cx="98" cy="551.3" r="1.6"/><circle cx="94.4" cy="551.3" r="1.6"/><circle cx="98.4" cy="551.4" r="1.6"/><circle cx="95" cy="551.4" r="1.6"/><circle cx="87.7" cy="551.6" r="1.6"/><circle cx="89.9" cy="551.6" r="1.6"/><circle cx="87.4" cy="551.7" r="1.6"/><circle cx="99.8" cy="551.7" r="1.6"/><circle cx="91" cy="551.7" r="1.6"/><circle cx="92.3" cy="551.8" r="1.6"/><circle cx="94.4" cy="551.9" r="1.6"/><circle cx="87.4" cy="551.9" r="1.6"/><circle cx="97.1" cy="552" r="1.6"/><circle cx="98.5" cy="552" r="1.6"/><circle cx="98.5" cy="552.1" r="1.6"/><circle cx="99.9" cy="552.1" r="1.6"/><circle cx="90.9" cy="552.1" r="1.6"/><circle cx="88.1" cy="552.2" r="1.6"/><circle cx="98" cy="552.2" r="1.6"/><circle cx="96.9" cy="552.2" r="1.6"/><circle cx="91.7" cy="552.3" r="1.6"/><circle cx="91.3" cy="552.3" r="1.6"/><circle cx="88.3" cy="552.3" r="1.6"/><circle cx="99.1" cy="552.5" r="1.6"/><circle cx="93.2" cy="552.6" r="1.6"/><circle cx="98.8" cy="552.6" r="1.6"/><circle cx="91.2" cy="552.7" r="1.6"/><circle cx="90.9" cy="552.8" r="1.6"/><circle cx="94" cy="552.9" r="1.6"/><circle cx="97.7" cy="552.9" r="1.6"/><circle cx="99.9" cy="553" r="1.6"/><circle cx="91.5" cy="553" r="1.6"/><circle cx="96.9" cy="553" r="1.6"/><circle cx="92.3" cy="553" r="1.6"/><circle cx="99.6" cy="553.1" r="1.6"/><circle cx="98" cy="553.1" r="1.6"/><circle cx="94.7" cy="553.2" r="1.6"/><circle cx="91.6" cy="553.2" r="1.6"/><circle cx="90.2" cy="553.2" r="1.6"/><circle cx="100" cy="553.2" r="1.6"/><circle cx="98.6" cy="553.5" r="1.6"/><circle cx="90.7" cy="553.5" r="1.6"/><circle cx="87.2" cy="553.5" r="1.6"/><circle cx="88.9" cy="553.5" r="1.6"/><circle cx="101.2" cy="553.5" r="1.6"/><circle cx="86.4" cy="553.5" r="1.6"/><circle cx="98.8" cy="553.5" r="1.6"/><circle cx="94.3" cy="553.7" r="1.6"/><circle cx="94.7" cy="553.7" r="1.6"/><circle cx="94.4" cy="553.8" r="1.6"/><circle cx="92.4" cy="553.8" r="1.6"/><circle cx="94.7" cy="553.8" r="1.6"/><circle cx="87.2" cy="553.9" r="1.6"/><circle cx="100.5" cy="553.9" r="1.6"/><circle cx="87.4" cy="554" r="1.6"/><circle cx="88" cy="554" r="1.6"/><circle cx="96.6" cy="554.1" r="1.6"/><circle cx="96.1" cy="554.2" r="1.6"/><circle cx="98.7" cy="554.3" r="1.6"/><circle cx="96.9" cy="554.4" r="1.6"/><circle cx="100.7" cy="554.4" r="1.6"/><circle cx="86.6" cy="554.4" r="1.6"/><circle cx="86" cy="554.5" r="1.6"/><circle cx="89.6" cy="554.5" r="1.6"/><circle cx="98.3" cy="554.5" r="1.6"/><circle cx="88.2" cy="554.6" r="1.6"/><circle cx="94.3" cy="554.7" r="1.6"/><circle cx="98.1" cy="554.7" r="1.6"/><circle cx="88.3" cy="554.8" r="1.6"/><circle cx="94.2" cy="555" r="1.6"/><circle cx="100.2" cy="555.1" r="1.6"/><circle cx="97.8" cy="555.1" r="1.6"/><circle cx="92.2" cy="555.1" r="1.6"/><circle cx="93.5" cy="555.1" r="1.6"/><circle cx="90.2" cy="555.2" r="1.6"/><circle cx="101.2" cy="555.2" r="1.6"/><circle cx="98.3" cy="555.4" r="1.6"/><circle cx="96.7" cy="555.4" r="1.6"/><circle cx="90.7" cy="555.4" r="1.6"/><circle cx="97.5" cy="555.4" r="1.6"/><circle cx="93.6" cy="555.5" r="1.6"/><circle cx="98.6" cy="555.5" r="1.6"/><circle cx="91.6" cy="555.6" r="1.6"/><circle cx="99.9" cy="555.6" r="1.6"/><circle cx="96.8" cy="555.7" r="1.6"/><circle cx="93" cy="555.7" r="1.6"/><circle cx="94.8" cy="555.8" r="1.6"/><circle cx="98.7" cy="555.8" r="1.6"/><circle cx="94.3" cy="555.9" r="1.6"/></g>
<g fill="#cf9a3e" stroke="#4e360c" stroke-width="0.55"><circle cx="118.2" cy="513" r="1.6"/><circle cx="114.6" cy="514" r="1.6"/><circle cx="120.5" cy="516" r="1.6"/><circle cx="117.1" cy="517.6" r="1.6"/><circle cx="119.8" cy="520.2" r="1.6"/><circle cx="116.4" cy="521.8" r="1.6"/><circle cx="119.4" cy="524.1" r="1.6"/><circle cx="116.7" cy="526.7" r="1.6"/><circle cx="120.1" cy="528.3" r="1.6"/><circle cx="115" cy="530" r="1.6"/><circle cx="122.3" cy="531.3" r="1.6"/><circle cx="118.2" cy="532.6" r="1.6"/><circle cx="114.7" cy="533.9" r="1.6"/><circle cx="120.8" cy="535.2" r="1.6"/><circle cx="118.2" cy="539.1" r="1.6"/><circle cx="114.5" cy="539.7" r="1.6"/><circle cx="121.7" cy="540.4" r="1.6"/><circle cx="111.1" cy="541.2" r="1.6"/><circle cx="125.2" cy="541.5" r="1.6"/><circle cx="116.4" cy="542.4" r="1.6"/><circle cx="118.6" cy="542.5" r="1.6"/><circle cx="116.9" cy="542.7" r="1.6"/><circle cx="117.2" cy="543.4" r="1.6"/><circle cx="121.3" cy="545" r="1.6"/><circle cx="113.9" cy="545.1" r="1.6"/><circle cx="125" cy="545.7" r="1.6"/><circle cx="110.3" cy="545.8" r="1.6"/><circle cx="126" cy="546" r="1.6"/><circle cx="124.9" cy="546.1" r="1.6"/><circle cx="124.9" cy="546.2" r="1.6"/><circle cx="122" cy="546.7" r="1.6"/><circle cx="118.2" cy="547" r="1.6"/><circle cx="121.4" cy="547.3" r="1.6"/><circle cx="112.5" cy="547.4" r="1.6"/><circle cx="110.8" cy="547.8" r="1.6"/><circle cx="123.5" cy="547.8" r="1.6"/><circle cx="121" cy="547.9" r="1.6"/><circle cx="120.3" cy="548.2" r="1.6"/><circle cx="115.2" cy="549" r="1.6"/><circle cx="114.5" cy="549.3" r="1.6"/><circle cx="124.9" cy="549.3" r="1.6"/><circle cx="118.7" cy="549.4" r="1.6"/><circle cx="110.5" cy="549.4" r="1.6"/><circle cx="115.6" cy="549.5" r="1.6"/><circle cx="115.8" cy="549.6" r="1.6"/><circle cx="111.3" cy="550" r="1.6"/><circle cx="125.8" cy="550.1" r="1.6"/><circle cx="124.6" cy="550.1" r="1.6"/><circle cx="123.2" cy="550.1" r="1.6"/><circle cx="110.3" cy="550.2" r="1.6"/><circle cx="116.9" cy="550.4" r="1.6"/><circle cx="112" cy="550.4" r="1.6"/><circle cx="121.8" cy="550.5" r="1.6"/><circle cx="123.2" cy="550.5" r="1.6"/><circle cx="122.8" cy="550.6" r="1.6"/><circle cx="122.9" cy="550.6" r="1.6"/><circle cx="112.1" cy="550.7" r="1.6"/><circle cx="110.4" cy="550.9" r="1.6"/><circle cx="111.7" cy="551.2" r="1.6"/><circle cx="123.7" cy="551.3" r="1.6"/><circle cx="123.5" cy="551.4" r="1.6"/><circle cx="118.5" cy="551.5" r="1.6"/><circle cx="114" cy="551.5" r="1.6"/><circle cx="123.9" cy="551.6" r="1.6"/><circle cx="112.1" cy="551.7" r="1.6"/><circle cx="115.4" cy="551.7" r="1.6"/><circle cx="110.2" cy="552" r="1.6"/><circle cx="125.9" cy="552" r="1.6"/><circle cx="116.8" cy="552.2" r="1.6"/><circle cx="122.5" cy="552.3" r="1.6"/><circle cx="123" cy="552.3" r="1.6"/><circle cx="119.5" cy="552.7" r="1.6"/><circle cx="126" cy="552.8" r="1.6"/><circle cx="122.6" cy="552.8" r="1.6"/><circle cx="125" cy="552.9" r="1.6"/><circle cx="125.6" cy="553" r="1.6"/><circle cx="111.5" cy="553.1" r="1.6"/><circle cx="122.2" cy="553.3" r="1.6"/><circle cx="113.8" cy="553.3" r="1.6"/><circle cx="115.4" cy="553.6" r="1.6"/><circle cx="115.7" cy="553.8" r="1.6"/><circle cx="126" cy="553.9" r="1.6"/><circle cx="111.2" cy="554.2" r="1.6"/><circle cx="117.2" cy="554.2" r="1.6"/><circle cx="112.2" cy="554.4" r="1.6"/><circle cx="126.2" cy="554.6" r="1.6"/><circle cx="118.1" cy="554.6" r="1.6"/><circle cx="121.4" cy="554.7" r="1.6"/><circle cx="118.5" cy="554.8" r="1.6"/><circle cx="122.5" cy="554.8" r="1.6"/><circle cx="115.6" cy="555" r="1.6"/><circle cx="116.8" cy="555" r="1.6"/><circle cx="122.1" cy="555" r="1.6"/><circle cx="121.4" cy="555.1" r="1.6"/><circle cx="124.4" cy="555.1" r="1.6"/><circle cx="115.1" cy="555.2" r="1.6"/><circle cx="123.8" cy="555.5" r="1.6"/><circle cx="122" cy="555.6" r="1.6"/><circle cx="119.4" cy="555.6" r="1.6"/><circle cx="116.7" cy="555.7" r="1.6"/><circle cx="119.3" cy="555.9" r="1.6"/></g>
<g fill="#7b1834" stroke="#561022" stroke-width="0.5"><circle cx="142.5" cy="483.1" r="1.6"/><circle cx="142.5" cy="518.6" r="1.6"/><circle cx="139.2" cy="520.2" r="1.6"/><circle cx="142.5" cy="525.1" r="1.6"/><circle cx="140.7" cy="528.3" r="1.6"/><circle cx="144.1" cy="530" r="1.6"/><circle cx="142.3" cy="533.2" r="1.6"/><circle cx="145.6" cy="534.8" r="1.6"/><circle cx="139.2" cy="535.2" r="1.6"/><circle cx="149.3" cy="535.5" r="1.6"/><circle cx="135.6" cy="536.2" r="1.6"/><circle cx="142.5" cy="538.2" r="1.6"/><circle cx="146.2" cy="538.7" r="1.6"/><circle cx="142.5" cy="542" r="1.6"/><circle cx="138.8" cy="542.4" r="1.6"/><circle cx="146.2" cy="542.7" r="1.6"/><circle cx="135.2" cy="543.2" r="1.6"/><circle cx="142.5" cy="546.3" r="1.6"/><circle cx="138.8" cy="546.9" r="1.6"/><circle cx="146.1" cy="547.4" r="1.6"/><circle cx="135.5" cy="548.4" r="1.6"/><circle cx="149.5" cy="548.8" r="1.6"/><circle cx="147.6" cy="549" r="1.6"/><circle cx="142.5" cy="550.1" r="1.6"/><circle cx="147.8" cy="550.1" r="1.6"/><circle cx="138.9" cy="550.8" r="1.6"/><circle cx="140.6" cy="551" r="1.6"/><circle cx="149.5" cy="551.3" r="1.6"/><circle cx="138.7" cy="551.4" r="1.6"/><circle cx="143.7" cy="551.5" r="1.6"/><circle cx="135" cy="552.1" r="1.6"/><circle cx="145.3" cy="552.1" r="1.6"/><circle cx="138.2" cy="552.6" r="1.6"/><circle cx="140.6" cy="553.3" r="1.6"/><circle cx="136.1" cy="554.1" r="1.6"/><circle cx="147.9" cy="554.7" r="1.6"/><circle cx="147.2" cy="555.4" r="1.6"/><circle cx="137.4" cy="555.5" r="1.6"/><circle cx="143.2" cy="555.9" r="1.6"/></g>
<g fill="#2f4060" stroke="#1c2740" stroke-width="0.5"><circle cx="166.9" cy="503.9" r="1.6"/><circle cx="166.9" cy="511.4" r="1.6"/><circle cx="166.9" cy="524.1" r="1.6"/><circle cx="166.9" cy="528.3" r="1.6"/><circle cx="164" cy="530.6" r="1.6"/><circle cx="167.1" cy="532.6" r="1.6"/><circle cx="170.6" cy="533.9" r="1.6"/><circle cx="166.9" cy="536.8" r="1.6"/><circle cx="163.7" cy="538.6" r="1.6"/><circle cx="166.9" cy="541.2" r="1.6"/><circle cx="170.5" cy="542.3" r="1.6"/><circle cx="163.4" cy="542.4" r="1.6"/><circle cx="159.7" cy="542.7" r="1.6"/><circle cx="173.9" cy="543.7" r="1.6"/><circle cx="164" cy="543.9" r="1.6"/><circle cx="170.8" cy="543.9" r="1.6"/><circle cx="166.8" cy="544.1" r="1.6"/><circle cx="171.6" cy="545.4" r="1.6"/><circle cx="159" cy="545.5" r="1.6"/><circle cx="161" cy="546" r="1.6"/><circle cx="168.5" cy="547.4" r="1.6"/><circle cx="165.3" cy="549.3" r="1.6"/><circle cx="170.9" cy="550.2" r="1.6"/><circle cx="161.9" cy="550.8" r="1.6"/><circle cx="174.4" cy="551.5" r="1.6"/><circle cx="162.2" cy="551.6" r="1.6"/><circle cx="164.8" cy="551.7" r="1.6"/><circle cx="165.3" cy="551.9" r="1.6"/><circle cx="165.1" cy="552.8" r="1.6"/><circle cx="168.7" cy="553.4" r="1.6"/><circle cx="159.7" cy="554.3" r="1.6"/><circle cx="174.4" cy="554.4" r="1.6"/><circle cx="165.9" cy="554.5" r="1.6"/></g>
<g fill="#a2ad94" stroke="#384b29" stroke-width="0.75"><circle cx="191.3" cy="535.2" r="1.4"/><circle cx="187.7" cy="535.8" r="1.4"/><circle cx="191.3" cy="544.6" r="1.4"/><circle cx="188.1" cy="546.2" r="1.4"/><circle cx="192.8" cy="547.9" r="1.4"/><circle cx="196.3" cy="548.8" r="1.4"/><circle cx="189.6" cy="549.5" r="1.4"/><circle cx="186.1" cy="550.1" r="1.4"/><circle cx="192.5" cy="550.8" r="1.4"/><circle cx="198.8" cy="551.4" r="1.4"/><circle cx="198.7" cy="552.1" r="1.4"/><circle cx="183.6" cy="552.7" r="1.4"/><circle cx="190" cy="553.4" r="1.4"/><circle cx="194.1" cy="554" r="1.4"/><circle cx="186.6" cy="554.7" r="1.4"/><circle cx="193.6" cy="555.3" r="1.4"/><circle cx="197.3" cy="555.7" r="1.4"/><circle cx="192.8" cy="556" r="1.4"/></g>
<line x1="69.4" y1="551.1" x2="69.4" y2="556.3" stroke="#000" stroke-width="1.35"/>
<line x1="64.9" y1="551.1" x2="73.9" y2="551.1" stroke="#000" stroke-width="1.4"/>
<line x1="64.9" y1="556.3" x2="73.9" y2="556.3" stroke="#000" stroke-width="1.4"/>
<line x1="61.4" y1="553.7" x2="77.4" y2="553.7" stroke="#000" stroke-width="1.6"/>
<line x1="93.8" y1="540.4" x2="93.8" y2="557.7" stroke="#000" stroke-width="1.35"/>
<line x1="89.3" y1="540.4" x2="98.3" y2="540.4" stroke="#000" stroke-width="1.4"/>
<line x1="89.3" y1="557.7" x2="98.3" y2="557.7" stroke="#000" stroke-width="1.4"/>
<line x1="85.8" y1="551.5" x2="101.8" y2="551.5" stroke="#000" stroke-width="1.6"/>
<line x1="118.2" y1="537" x2="118.2" y2="557.7" stroke="#000" stroke-width="1.35"/>
<line x1="113.7" y1="537" x2="122.7" y2="537" stroke="#000" stroke-width="1.4"/>
<line x1="113.7" y1="557.7" x2="122.7" y2="557.7" stroke="#000" stroke-width="1.4"/>
<line x1="110.2" y1="547.7" x2="126.2" y2="547.7" stroke="#000" stroke-width="1.6"/>
<line x1="142.5" y1="528.8" x2="142.5" y2="557.7" stroke="#000" stroke-width="1.35"/>
<line x1="138" y1="528.8" x2="147" y2="528.8" stroke="#000" stroke-width="1.4"/>
<line x1="138" y1="557.7" x2="147" y2="557.7" stroke="#000" stroke-width="1.4"/>
<line x1="134.5" y1="543.3" x2="150.5" y2="543.3" stroke="#000" stroke-width="1.6"/>
<line x1="166.9" y1="531.7" x2="166.9" y2="558.6" stroke="#000" stroke-width="1.35"/>
<line x1="162.4" y1="531.7" x2="171.4" y2="531.7" stroke="#000" stroke-width="1.4"/>
<line x1="162.4" y1="558.6" x2="171.4" y2="558.6" stroke="#000" stroke-width="1.4"/>
<line x1="158.9" y1="544.8" x2="174.9" y2="544.8" stroke="#000" stroke-width="1.6"/>
<line x1="191.3" y1="544.8" x2="191.3" y2="557" stroke="#000" stroke-width="1.35"/>
<line x1="186.8" y1="544.8" x2="195.8" y2="544.8" stroke="#000" stroke-width="1.4"/>
<line x1="186.8" y1="557" x2="195.8" y2="557" stroke="#000" stroke-width="1.4"/>
<line x1="183.3" y1="550" x2="199.3" y2="550" stroke="#000" stroke-width="1.6"/>
<text x="69.4" y="586.2" font-size="6.3" text-anchor="middle" fill="#2a2a2a">[0-1]</text>
<text x="69.4" y="593.8" font-size="6.3" text-anchor="middle" fill="#2a2a2a">n=20</text>
<text x="93.8" y="586.2" font-size="6.3" text-anchor="middle" fill="#2a2a2a">(1-10]</text>
<text x="93.8" y="593.8" font-size="6.3" text-anchor="middle" fill="#2a2a2a">n=185</text>
<text x="118.2" y="586.2" font-size="6.3" text-anchor="middle" fill="#2a2a2a">(10-20]</text>
<text x="118.2" y="593.8" font-size="6.3" text-anchor="middle" fill="#2a2a2a">n=101</text>
<text x="142.5" y="586.2" font-size="6.3" text-anchor="middle" fill="#2a2a2a">(20-30]</text>
<text x="142.5" y="593.8" font-size="6.3" text-anchor="middle" fill="#2a2a2a">n=39</text>
<text x="166.9" y="586.2" font-size="6.3" text-anchor="middle" fill="#2a2a2a">(30-50]</text>
<text x="166.9" y="593.8" font-size="6.3" text-anchor="middle" fill="#2a2a2a">n=33</text>
<text x="191.3" y="586.2" font-size="6.3" text-anchor="middle" fill="#2a2a2a">&gt;50</text>
<text x="191.3" y="593.8" font-size="6.3" text-anchor="middle" fill="#2a2a2a">n=18</text>
<text x="208.5" y="573" font-size="6.8" fill="#2a2a2a" textLength="40.5" lengthAdjust="spacingAndGlyphs">PD-L1<tspan baseline-shift="3.2" font-size="5.2">+</tspan>CD20<tspan baseline-shift="3.2" font-size="5.2">+</tspan></text>
<text x="209" y="580.5" font-size="6.4" fill="#2a2a2a">(%)</text>
<line x1="316.8" y1="473.6" x2="316.8" y2="571.7" stroke="#000" stroke-width="1.45"/>
<line x1="313" y1="563.1" x2="316.8" y2="563.1" stroke="#000" stroke-width="1.1"/>
<text x="309.2" y="565.5" font-size="6.4" text-anchor="end" textLength="3.5" lengthAdjust="spacingAndGlyphs" style="stroke:#141414;stroke-width:0.22" fill="#141414">0</text>
<line x1="313" y1="545.4" x2="316.8" y2="545.4" stroke="#000" stroke-width="1.1"/>
<text x="309.2" y="547.8" font-size="6.4" text-anchor="end" textLength="14" lengthAdjust="spacingAndGlyphs" style="stroke:#141414;stroke-width:0.22" fill="#141414">1000</text>
<line x1="313" y1="527.7" x2="316.8" y2="527.7" stroke="#000" stroke-width="1.1"/>
<text x="309.2" y="530.1" font-size="6.4" text-anchor="end" textLength="14" lengthAdjust="spacingAndGlyphs" style="stroke:#141414;stroke-width:0.22" fill="#141414">2000</text>
<line x1="313" y1="510" x2="316.8" y2="510" stroke="#000" stroke-width="1.1"/>
<text x="309.2" y="512.4" font-size="6.4" text-anchor="end" textLength="14" lengthAdjust="spacingAndGlyphs" style="stroke:#141414;stroke-width:0.22" fill="#141414">3000</text>
<line x1="313" y1="492.3" x2="316.8" y2="492.3" stroke="#000" stroke-width="1.1"/>
<text x="309.2" y="494.7" font-size="6.4" text-anchor="end" textLength="14" lengthAdjust="spacingAndGlyphs" style="stroke:#141414;stroke-width:0.22" fill="#141414">4000</text>
<line x1="313" y1="474.6" x2="316.8" y2="474.6" stroke="#000" stroke-width="1.1"/>
<text x="309.2" y="477" font-size="6.4" text-anchor="end" textLength="14" lengthAdjust="spacingAndGlyphs" style="stroke:#141414;stroke-width:0.22" fill="#141414">5000</text>
<line x1="316.8" y1="571.7" x2="462.8" y2="571.7" stroke="#000" stroke-width="1.45"/>
<line x1="329" y1="571.7" x2="329" y2="574.7" stroke="#000" stroke-width="1.1"/>
<line x1="353.5" y1="571.7" x2="353.5" y2="574.7" stroke="#000" stroke-width="1.1"/>
<line x1="377.8" y1="571.7" x2="377.8" y2="574.7" stroke="#000" stroke-width="1.1"/>
<line x1="402.1" y1="571.7" x2="402.1" y2="574.7" stroke="#000" stroke-width="1.1"/>
<line x1="426.5" y1="571.7" x2="426.5" y2="574.7" stroke="#000" stroke-width="1.1"/>
<line x1="450.6" y1="571.7" x2="450.6" y2="574.7" stroke="#000" stroke-width="1.1"/>
<text transform="translate(288.9,521.8) rotate(-90)" font-size="8.2" text-anchor="middle" fill="#1e1e1e" textLength="65.7" lengthAdjust="spacingAndGlyphs">PD-1<tspan baseline-shift="3.2" font-size="5.2">+</tspan>CD3<tspan baseline-shift="3.2" font-size="5.2">+</tspan>CD4<tspan baseline-shift="3.2" font-size="5.2">+</tspan> (#)</text>
<g fill="#a2ad94" stroke="#384b29" stroke-width="0.75"><circle cx="329" cy="557.3" r="1.4"/><circle cx="329" cy="561.7" r="1.4"/><circle cx="325.6" cy="562" r="1.4"/><circle cx="332.4" cy="562.2" r="1.4"/><circle cx="335.8" cy="562.4" r="1.4"/><circle cx="322.2" cy="562.6" r="1.4"/><circle cx="334.3" cy="562.7" r="1.4"/><circle cx="326.4" cy="562.7" r="1.4"/><circle cx="321.6" cy="562.8" r="1.4"/><circle cx="336.3" cy="562.9" r="1.4"/><circle cx="329.5" cy="563" r="1.4"/><circle cx="330.3" cy="563" r="1.4"/><circle cx="322.1" cy="563" r="1.4"/><circle cx="332.9" cy="563" r="1.4"/><circle cx="327" cy="563" r="1.4"/><circle cx="331.3" cy="563.1" r="1.4"/><circle cx="325.5" cy="563.1" r="1.4"/><circle cx="335.7" cy="563.1" r="1.4"/><circle cx="326.9" cy="563.1" r="1.4"/><circle cx="325.4" cy="563.1" r="1.4"/></g>
<g fill="#2f4060" stroke="#1c2740" stroke-width="0.5"><circle cx="353.5" cy="500.3" r="1.6"/><circle cx="353.5" cy="527.7" r="1.6"/><circle cx="353.5" cy="532.1" r="1.6"/><circle cx="353.5" cy="536" r="1.6"/><circle cx="353.5" cy="541" r="1.6"/><circle cx="349.9" cy="541.9" r="1.6"/><circle cx="356.8" cy="542.7" r="1.6"/><circle cx="360.5" cy="543" r="1.6"/><circle cx="346.5" cy="543.3" r="1.6"/><circle cx="347.5" cy="543.8" r="1.6"/><circle cx="359.4" cy="544" r="1.6"/><circle cx="354.7" cy="544" r="1.6"/><circle cx="359.5" cy="544.5" r="1.6"/><circle cx="350.2" cy="545" r="1.6"/><circle cx="354.7" cy="546.9" r="1.6"/><circle cx="345.9" cy="547.2" r="1.6"/><circle cx="349.9" cy="547.2" r="1.6"/><circle cx="358.8" cy="547.3" r="1.6"/><circle cx="348.8" cy="547.4" r="1.6"/><circle cx="355.9" cy="547.7" r="1.6"/><circle cx="354.4" cy="547.7" r="1.6"/><circle cx="350.7" cy="547.8" r="1.6"/><circle cx="346.8" cy="548.1" r="1.6"/><circle cx="353.3" cy="548.2" r="1.6"/><circle cx="353.9" cy="549" r="1.6"/><circle cx="358.6" cy="549.4" r="1.6"/><circle cx="348.8" cy="549.5" r="1.6"/><circle cx="348.5" cy="549.8" r="1.6"/><circle cx="350.4" cy="549.8" r="1.6"/><circle cx="358.3" cy="550.2" r="1.6"/><circle cx="349.2" cy="550.4" r="1.6"/><circle cx="355.6" cy="550.4" r="1.6"/><circle cx="346" cy="550.6" r="1.6"/><circle cx="346.8" cy="550.7" r="1.6"/><circle cx="356.8" cy="550.9" r="1.6"/><circle cx="353.5" cy="551.2" r="1.6"/><circle cx="347.3" cy="551.2" r="1.6"/><circle cx="353.1" cy="551.3" r="1.6"/><circle cx="360.5" cy="551.5" r="1.6"/><circle cx="351.8" cy="551.5" r="1.6"/><circle cx="354.4" cy="551.6" r="1.6"/><circle cx="352.2" cy="551.8" r="1.6"/><circle cx="353.6" cy="551.9" r="1.6"/><circle cx="346.2" cy="552.2" r="1.6"/><circle cx="359.6" cy="552.3" r="1.6"/><circle cx="354.8" cy="552.3" r="1.6"/><circle cx="351.1" cy="552.4" r="1.6"/><circle cx="350.1" cy="553.1" r="1.6"/><circle cx="348.5" cy="553.2" r="1.6"/><circle cx="360.4" cy="553.2" r="1.6"/><circle cx="359" cy="553.3" r="1.6"/><circle cx="351.6" cy="553.3" r="1.6"/><circle cx="355.2" cy="553.4" r="1.6"/><circle cx="354.3" cy="553.4" r="1.6"/><circle cx="348.7" cy="553.5" r="1.6"/><circle cx="346" cy="553.5" r="1.6"/><circle cx="357.3" cy="553.7" r="1.6"/><circle cx="348.1" cy="553.7" r="1.6"/><circle cx="354.5" cy="553.9" r="1.6"/><circle cx="345.8" cy="554.1" r="1.6"/><circle cx="345.8" cy="554.2" r="1.6"/><circle cx="348.1" cy="554.3" r="1.6"/><circle cx="356" cy="554.4" r="1.6"/><circle cx="355.3" cy="554.6" r="1.6"/><circle cx="361.4" cy="554.7" r="1.6"/><circle cx="356.1" cy="554.7" r="1.6"/><circle cx="353.9" cy="555" r="1.6"/><circle cx="345.7" cy="555.1" r="1.6"/><circle cx="360.8" cy="555.1" r="1.6"/><circle cx="353.3" cy="555.2" r="1.6"/><circle cx="359.2" cy="555.2" r="1.6"/><circle cx="346.2" cy="555.3" r="1.6"/><circle cx="358.9" cy="555.4" r="1.6"/><circle cx="353.1" cy="555.5" r="1.6"/><circle cx="349" cy="555.6" r="1.6"/><circle cx="352" cy="555.7" r="1.6"/><circle cx="346.7" cy="555.7" r="1.6"/><circle cx="354.8" cy="555.8" r="1.6"/><circle cx="349" cy="555.9" r="1.6"/><circle cx="356.7" cy="556" r="1.6"/><circle cx="348.3" cy="556.1" r="1.6"/><circle cx="356.5" cy="556.2" r="1.6"/><circle cx="355.4" cy="556.2" r="1.6"/><circle cx="356.9" cy="556.2" r="1.6"/><circle cx="360.7" cy="556.3" r="1.6"/><circle cx="350.2" cy="556.4" r="1.6"/><circle cx="356.4" cy="556.5" r="1.6"/><circle cx="351.9" cy="556.7" r="1.6"/><circle cx="359.8" cy="556.8" r="1.6"/><circle cx="358.7" cy="556.9" r="1.6"/><circle cx="357.7" cy="557" r="1.6"/><circle cx="355.1" cy="557" r="1.6"/><circle cx="349.7" cy="557" r="1.6"/><circle cx="360" cy="557.1" r="1.6"/><circle cx="361" cy="557.2" r="1.6"/><circle cx="360.7" cy="557.5" r="1.6"/><circle cx="350.9" cy="557.8" r="1.6"/><circle cx="358.7" cy="557.8" r="1.6"/><circle cx="356.4" cy="557.9" r="1.6"/><circle cx="358.9" cy="558.1" r="1.6"/><circle cx="358.3" cy="558.1" r="1.6"/><circle cx="352.8" cy="558.2" r="1.6"/><circle cx="351.8" cy="558.3" r="1.6"/><circle cx="358.2" cy="558.3" r="1.6"/><circle cx="356" cy="558.3" r="1.6"/><circle cx="354.1" cy="558.3" r="1.6"/><circle cx="359.5" cy="558.3" r="1.6"/><circle cx="346" cy="558.4" r="1.6"/><circle cx="345.7" cy="558.7" r="1.6"/><circle cx="352.9" cy="558.8" r="1.6"/><circle cx="347.1" cy="558.8" r="1.6"/><circle cx="359" cy="559" r="1.6"/><circle cx="346.9" cy="559.1" r="1.6"/><circle cx="359.6" cy="559.1" r="1.6"/><circle cx="349.1" cy="559.1" r="1.6"/><circle cx="347.6" cy="559.5" r="1.6"/><circle cx="357.6" cy="559.5" r="1.6"/><circle cx="356.3" cy="559.5" r="1.6"/><circle cx="352.1" cy="559.5" r="1.6"/><circle cx="355" cy="559.6" r="1.6"/><circle cx="354.3" cy="559.6" r="1.6"/><circle cx="360.7" cy="559.6" r="1.6"/><circle cx="353.6" cy="559.6" r="1.6"/><circle cx="354.1" cy="559.7" r="1.6"/><circle cx="352.9" cy="559.7" r="1.6"/><circle cx="352.1" cy="559.7" r="1.6"/><circle cx="356.5" cy="559.8" r="1.6"/><circle cx="347.3" cy="559.8" r="1.6"/><circle cx="356.6" cy="559.8" r="1.6"/><circle cx="360.4" cy="559.8" r="1.6"/><circle cx="357.7" cy="559.9" r="1.6"/><circle cx="354.2" cy="560" r="1.6"/><circle cx="351.2" cy="560.3" r="1.6"/><circle cx="347.1" cy="560.4" r="1.6"/><circle cx="347" cy="560.4" r="1.6"/><circle cx="354.1" cy="560.6" r="1.6"/><circle cx="359.6" cy="560.7" r="1.6"/><circle cx="359.4" cy="560.7" r="1.6"/><circle cx="348.4" cy="560.8" r="1.6"/><circle cx="357.5" cy="560.8" r="1.6"/><circle cx="358.4" cy="561" r="1.6"/><circle cx="353.2" cy="561" r="1.6"/><circle cx="359.2" cy="561" r="1.6"/><circle cx="348.5" cy="561.1" r="1.6"/><circle cx="350.9" cy="561.1" r="1.6"/><circle cx="353.7" cy="561.1" r="1.6"/><circle cx="357.1" cy="561.1" r="1.6"/><circle cx="352.7" cy="561.2" r="1.6"/><circle cx="350.3" cy="561.2" r="1.6"/><circle cx="359.4" cy="561.2" r="1.6"/><circle cx="351.8" cy="561.2" r="1.6"/><circle cx="352.2" cy="561.2" r="1.6"/><circle cx="349.1" cy="561.3" r="1.6"/><circle cx="353.2" cy="561.3" r="1.6"/><circle cx="356.8" cy="561.4" r="1.6"/><circle cx="351.3" cy="561.4" r="1.6"/><circle cx="356.1" cy="561.5" r="1.6"/><circle cx="353.4" cy="561.5" r="1.6"/><circle cx="345.7" cy="561.6" r="1.6"/><circle cx="360.9" cy="561.6" r="1.6"/><circle cx="350.1" cy="561.7" r="1.6"/><circle cx="354.2" cy="561.7" r="1.6"/><circle cx="360.8" cy="561.8" r="1.6"/><circle cx="348.8" cy="561.9" r="1.6"/><circle cx="346.5" cy="561.9" r="1.6"/><circle cx="348.8" cy="562" r="1.6"/><circle cx="347.9" cy="562" r="1.6"/><circle cx="359.1" cy="562" r="1.6"/><circle cx="353.8" cy="562.1" r="1.6"/><circle cx="346.2" cy="562.1" r="1.6"/><circle cx="349.8" cy="562.1" r="1.6"/><circle cx="353.7" cy="562.2" r="1.6"/><circle cx="348.3" cy="562.2" r="1.6"/><circle cx="350.4" cy="562.2" r="1.6"/><circle cx="360" cy="562.3" r="1.6"/><circle cx="352.6" cy="562.3" r="1.6"/><circle cx="349.2" cy="562.4" r="1.6"/><circle cx="355.1" cy="562.4" r="1.6"/><circle cx="347.3" cy="562.5" r="1.6"/><circle cx="353.8" cy="562.5" r="1.6"/><circle cx="355.9" cy="562.6" r="1.6"/><circle cx="346.9" cy="562.7" r="1.6"/><circle cx="354.3" cy="562.7" r="1.6"/><circle cx="350.5" cy="562.7" r="1.6"/><circle cx="357.4" cy="563" r="1.6"/></g>
<g fill="#cf9a3e" stroke="#4e360c" stroke-width="0.55"><circle cx="377.8" cy="489.6" r="1.6"/><circle cx="377.8" cy="510.9" r="1.6"/><circle cx="377.8" cy="530.4" r="1.6"/><circle cx="377.8" cy="536.9" r="1.6"/><circle cx="375.9" cy="540.1" r="1.6"/><circle cx="379.5" cy="541" r="1.6"/><circle cx="383.2" cy="541" r="1.6"/><circle cx="372.3" cy="541.1" r="1.6"/><circle cx="384" cy="541.9" r="1.6"/><circle cx="377.8" cy="544.4" r="1.6"/><circle cx="374.1" cy="544.9" r="1.6"/><circle cx="381.5" cy="545" r="1.6"/><circle cx="370.4" cy="545.1" r="1.6"/><circle cx="385" cy="546.2" r="1.6"/><circle cx="382.3" cy="546.4" r="1.6"/><circle cx="378" cy="546.4" r="1.6"/><circle cx="379.2" cy="547.2" r="1.6"/><circle cx="377.7" cy="547.5" r="1.6"/><circle cx="372.9" cy="548.3" r="1.6"/><circle cx="381.9" cy="548.7" r="1.6"/><circle cx="378.3" cy="548.8" r="1.6"/><circle cx="374.2" cy="548.9" r="1.6"/><circle cx="378.1" cy="549" r="1.6"/><circle cx="373.2" cy="549.1" r="1.6"/><circle cx="369.9" cy="549.4" r="1.6"/><circle cx="378.1" cy="549.5" r="1.6"/><circle cx="385.3" cy="550.3" r="1.6"/><circle cx="383.7" cy="550.5" r="1.6"/><circle cx="381.3" cy="550.9" r="1.6"/><circle cx="373.1" cy="550.9" r="1.6"/><circle cx="377.9" cy="551.4" r="1.6"/><circle cx="379.1" cy="551.6" r="1.6"/><circle cx="379.1" cy="551.9" r="1.6"/><circle cx="377.2" cy="552" r="1.6"/><circle cx="378" cy="552.1" r="1.6"/><circle cx="380.8" cy="552.6" r="1.6"/><circle cx="370.2" cy="553.1" r="1.6"/><circle cx="383.9" cy="553.2" r="1.6"/><circle cx="378.1" cy="553.2" r="1.6"/><circle cx="382.3" cy="553.5" r="1.6"/><circle cx="380.7" cy="553.6" r="1.6"/><circle cx="371.7" cy="554.1" r="1.6"/><circle cx="373.9" cy="554.1" r="1.6"/><circle cx="374.8" cy="554.2" r="1.6"/><circle cx="375.5" cy="554.2" r="1.6"/><circle cx="377.7" cy="554.2" r="1.6"/><circle cx="374.5" cy="554.3" r="1.6"/><circle cx="385.8" cy="554.4" r="1.6"/><circle cx="381.5" cy="554.7" r="1.6"/><circle cx="375.7" cy="554.8" r="1.6"/><circle cx="381" cy="555" r="1.6"/><circle cx="384.6" cy="555.6" r="1.6"/><circle cx="372.4" cy="555.7" r="1.6"/><circle cx="379.9" cy="555.9" r="1.6"/><circle cx="385.1" cy="556.9" r="1.6"/><circle cx="375.8" cy="557" r="1.6"/><circle cx="383.8" cy="557.6" r="1.6"/><circle cx="382.7" cy="557.6" r="1.6"/><circle cx="374.9" cy="557.7" r="1.6"/><circle cx="372.1" cy="557.8" r="1.6"/><circle cx="382.7" cy="557.8" r="1.6"/><circle cx="376.4" cy="557.9" r="1.6"/><circle cx="375.4" cy="558.1" r="1.6"/><circle cx="377.2" cy="558.1" r="1.6"/><circle cx="381.5" cy="558.1" r="1.6"/><circle cx="384.1" cy="558.2" r="1.6"/><circle cx="384.5" cy="558.4" r="1.6"/><circle cx="382.1" cy="558.5" r="1.6"/><circle cx="372.6" cy="558.8" r="1.6"/><circle cx="375.7" cy="558.9" r="1.6"/><circle cx="369.9" cy="558.9" r="1.6"/><circle cx="373" cy="559.1" r="1.6"/><circle cx="375.2" cy="559.1" r="1.6"/><circle cx="372.6" cy="559.2" r="1.6"/><circle cx="377.4" cy="559.4" r="1.6"/><circle cx="371.9" cy="559.4" r="1.6"/><circle cx="380.2" cy="559.6" r="1.6"/><circle cx="376.4" cy="559.7" r="1.6"/><circle cx="373.8" cy="559.8" r="1.6"/><circle cx="380.8" cy="559.9" r="1.6"/><circle cx="375" cy="560" r="1.6"/><circle cx="370.2" cy="560.1" r="1.6"/><circle cx="383.2" cy="560.3" r="1.6"/><circle cx="381.9" cy="560.5" r="1.6"/><circle cx="383.9" cy="560.9" r="1.6"/><circle cx="374.5" cy="560.9" r="1.6"/><circle cx="374" cy="561" r="1.6"/><circle cx="380.9" cy="561" r="1.6"/><circle cx="372.1" cy="561" r="1.6"/><circle cx="385.3" cy="561.2" r="1.6"/><circle cx="380.3" cy="561.3" r="1.6"/><circle cx="378.6" cy="561.6" r="1.6"/><circle cx="370.6" cy="561.7" r="1.6"/><circle cx="374.3" cy="561.8" r="1.6"/><circle cx="376.6" cy="561.8" r="1.6"/><circle cx="385.5" cy="561.8" r="1.6"/><circle cx="372.1" cy="562.2" r="1.6"/><circle cx="379.3" cy="562.3" r="1.6"/><circle cx="371" cy="562.4" r="1.6"/><circle cx="385.3" cy="562.7" r="1.6"/><circle cx="381.8" cy="562.7" r="1.6"/></g>
<g fill="#7b1834" stroke="#561022" stroke-width="0.5"><circle cx="402.1" cy="517.4" r="1.6"/><circle cx="402.1" cy="532.5" r="1.6"/><circle cx="402.1" cy="541.5" r="1.6"/><circle cx="402.1" cy="545.4" r="1.6"/><circle cx="398.5" cy="546.3" r="1.6"/><circle cx="405.6" cy="546.6" r="1.6"/><circle cx="409.3" cy="546.8" r="1.6"/><circle cx="394.9" cy="547.3" r="1.6"/><circle cx="400.8" cy="547.9" r="1.6"/><circle cx="404.8" cy="547.9" r="1.6"/><circle cx="398" cy="550.4" r="1.6"/><circle cx="407.2" cy="550.8" r="1.6"/><circle cx="402.1" cy="551.6" r="1.6"/><circle cx="394.7" cy="552" r="1.6"/><circle cx="408" cy="552.5" r="1.6"/><circle cx="395.3" cy="552.6" r="1.6"/><circle cx="402.3" cy="553.3" r="1.6"/><circle cx="406.8" cy="553.4" r="1.6"/><circle cx="396" cy="554.2" r="1.6"/><circle cx="408.4" cy="555.4" r="1.6"/><circle cx="399.5" cy="555.8" r="1.6"/><circle cx="403.2" cy="556.9" r="1.6"/><circle cx="396.5" cy="557.9" r="1.6"/><circle cx="409.1" cy="558.3" r="1.6"/><circle cx="399.6" cy="559" r="1.6"/><circle cx="397.4" cy="559.5" r="1.6"/><circle cx="405.6" cy="559.7" r="1.6"/><circle cx="396.4" cy="559.7" r="1.6"/><circle cx="397.6" cy="560.1" r="1.6"/><circle cx="400.8" cy="560.3" r="1.6"/><circle cx="405.4" cy="560.4" r="1.6"/><circle cx="409.1" cy="560.5" r="1.6"/><circle cx="403" cy="560.7" r="1.6"/><circle cx="409.4" cy="561.1" r="1.6"/><circle cx="400.9" cy="561.3" r="1.6"/><circle cx="404.6" cy="562" r="1.6"/><circle cx="394.1" cy="562.1" r="1.6"/><circle cx="400.8" cy="562.6" r="1.6"/><circle cx="394.5" cy="562.7" r="1.6"/></g>
<g fill="#2f4060" stroke="#1c2740" stroke-width="0.5"><circle cx="426.5" cy="513.5" r="1.6"/><circle cx="426.5" cy="545.4" r="1.6"/><circle cx="422.9" cy="546.3" r="1.6"/><circle cx="429.8" cy="547.2" r="1.6"/><circle cx="433.4" cy="548" r="1.6"/><circle cx="419.8" cy="548.2" r="1.6"/><circle cx="426.5" cy="549.2" r="1.6"/><circle cx="426" cy="549.7" r="1.6"/><circle cx="430.3" cy="550.8" r="1.6"/><circle cx="426.5" cy="553.4" r="1.6"/><circle cx="422.8" cy="553.5" r="1.6"/><circle cx="430.7" cy="554.5" r="1.6"/><circle cx="419.2" cy="554.5" r="1.6"/><circle cx="434.4" cy="554.6" r="1.6"/><circle cx="420.5" cy="556.2" r="1.6"/><circle cx="419.7" cy="556.4" r="1.6"/><circle cx="424.8" cy="556.7" r="1.6"/><circle cx="423" cy="557.1" r="1.6"/><circle cx="428.4" cy="557.6" r="1.6"/><circle cx="432.3" cy="557.8" r="1.6"/><circle cx="421.3" cy="557.9" r="1.6"/><circle cx="432.9" cy="559.3" r="1.6"/><circle cx="424.3" cy="559.4" r="1.6"/><circle cx="432.5" cy="560.2" r="1.6"/><circle cx="419.2" cy="561" r="1.6"/><circle cx="427.5" cy="561.2" r="1.6"/><circle cx="427.5" cy="561.3" r="1.6"/><circle cx="432.9" cy="561.5" r="1.6"/><circle cx="432.8" cy="561.5" r="1.6"/><circle cx="429.9" cy="561.8" r="1.6"/><circle cx="425.7" cy="562.1" r="1.6"/><circle cx="422.4" cy="562.3" r="1.6"/><circle cx="427.5" cy="562.6" r="1.6"/></g>
<g fill="#a2ad94" stroke="#384b29" stroke-width="0.75"><circle cx="450.6" cy="536.2" r="1.4"/><circle cx="450.6" cy="555.7" r="1.4"/><circle cx="447.9" cy="557.8" r="1.4"/><circle cx="452.2" cy="558.7" r="1.4"/><circle cx="455.5" cy="559.6" r="1.4"/><circle cx="445.8" cy="560.4" r="1.4"/><circle cx="449.7" cy="561" r="1.4"/><circle cx="458.4" cy="561.3" r="1.4"/><circle cx="442.6" cy="561.7" r="1.4"/><circle cx="452.9" cy="562" r="1.4"/><circle cx="447.6" cy="562.4" r="1.4"/><circle cx="455.9" cy="562.6" r="1.4"/><circle cx="443.3" cy="562.7" r="1.4"/><circle cx="452.8" cy="562.9" r="1.4"/><circle cx="448" cy="563" r="1.4"/><circle cx="449.3" cy="563.1" r="1.4"/><circle cx="451.3" cy="563.1" r="1.4"/><circle cx="458.3" cy="563.1" r="1.4"/></g>
<line x1="329" y1="561.3" x2="329" y2="563.1" stroke="#000" stroke-width="1.35"/>
<line x1="325.5" y1="561.3" x2="332.5" y2="561.3" stroke="#000" stroke-width="1.4"/>
<line x1="325.5" y1="563.1" x2="332.5" y2="563.1" stroke="#000" stroke-width="1.4"/>
<line x1="322" y1="562.2" x2="336" y2="562.2" stroke="#000" stroke-width="1.6"/>
<line x1="353.5" y1="546" x2="353.5" y2="565.6" stroke="#000" stroke-width="1.35"/>
<line x1="349" y1="546" x2="358" y2="546" stroke="#000" stroke-width="1.4"/>
<line x1="349" y1="565.6" x2="358" y2="565.6" stroke="#000" stroke-width="1.4"/>
<line x1="345.5" y1="558.5" x2="361.5" y2="558.5" stroke="#000" stroke-width="1.6"/>
<line x1="377.8" y1="545.6" x2="377.8" y2="566.6" stroke="#000" stroke-width="1.35"/>
<line x1="373.3" y1="545.6" x2="382.3" y2="545.6" stroke="#000" stroke-width="1.4"/>
<line x1="373.3" y1="566.6" x2="382.3" y2="566.6" stroke="#000" stroke-width="1.4"/>
<line x1="369.8" y1="556" x2="385.8" y2="556" stroke="#000" stroke-width="1.6"/>
<line x1="402.1" y1="546.5" x2="402.1" y2="565.8" stroke="#000" stroke-width="1.35"/>
<line x1="397.6" y1="546.5" x2="406.6" y2="546.5" stroke="#000" stroke-width="1.4"/>
<line x1="397.6" y1="565.8" x2="406.6" y2="565.8" stroke="#000" stroke-width="1.4"/>
<line x1="394.1" y1="555.2" x2="410.1" y2="555.2" stroke="#000" stroke-width="1.6"/>
<line x1="426.5" y1="547.2" x2="426.5" y2="566.5" stroke="#000" stroke-width="1.35"/>
<line x1="422" y1="547.2" x2="431" y2="547.2" stroke="#000" stroke-width="1.4"/>
<line x1="422" y1="566.5" x2="431" y2="566.5" stroke="#000" stroke-width="1.4"/>
<line x1="418.5" y1="557.2" x2="434.5" y2="557.2" stroke="#000" stroke-width="1.6"/>
<line x1="450.6" y1="554.2" x2="450.6" y2="566.5" stroke="#000" stroke-width="1.35"/>
<line x1="446.1" y1="554.2" x2="455.1" y2="554.2" stroke="#000" stroke-width="1.4"/>
<line x1="446.1" y1="566.5" x2="455.1" y2="566.5" stroke="#000" stroke-width="1.4"/>
<line x1="442.6" y1="560.7" x2="458.6" y2="560.7" stroke="#000" stroke-width="1.6"/>
<text x="329" y="586.2" font-size="6.3" text-anchor="middle" fill="#2a2a2a">[0-1]</text>
<text x="329" y="593.8" font-size="6.3" text-anchor="middle" fill="#2a2a2a">n=20</text>
<text x="353.5" y="586.2" font-size="6.3" text-anchor="middle" fill="#2a2a2a">(1-10]</text>
<text x="353.5" y="593.8" font-size="6.3" text-anchor="middle" fill="#2a2a2a">n=185</text>
<text x="377.8" y="586.2" font-size="6.3" text-anchor="middle" fill="#2a2a2a">(10-20]</text>
<text x="377.8" y="593.8" font-size="6.3" text-anchor="middle" fill="#2a2a2a">n=101</text>
<text x="402.1" y="586.2" font-size="6.3" text-anchor="middle" fill="#2a2a2a">(20-30]</text>
<text x="402.1" y="593.8" font-size="6.3" text-anchor="middle" fill="#2a2a2a">n=39</text>
<text x="426.5" y="586.2" font-size="6.3" text-anchor="middle" fill="#2a2a2a">(30-50]</text>
<text x="426.5" y="593.8" font-size="6.3" text-anchor="middle" fill="#2a2a2a">n=33</text>
<text x="450.6" y="586.2" font-size="6.3" text-anchor="middle" fill="#2a2a2a">&gt;50</text>
<text x="450.6" y="593.8" font-size="6.3" text-anchor="middle" fill="#2a2a2a">n=18</text>
<text x="468" y="573" font-size="6.8" fill="#2a2a2a" textLength="40.5" lengthAdjust="spacingAndGlyphs">PD-L1<tspan baseline-shift="3.2" font-size="5.2">+</tspan>CD20<tspan baseline-shift="3.2" font-size="5.2">+</tspan></text>
<text x="468.5" y="580.5" font-size="6.4" fill="#2a2a2a">(%)</text>
<text x="7.5" y="611.9" font-size="14" font-weight="bold" style="stroke:#000;stroke-width:0.35" fill="#000">D</text>
<line x1="57.6" y1="619.2" x2="57.6" y2="717.5" stroke="#000" stroke-width="1.45"/>
<line x1="53.8" y1="708.7" x2="57.6" y2="708.7" stroke="#000" stroke-width="1.1"/>
<text x="50" y="711.1" font-size="6.4" text-anchor="end" textLength="3.5" lengthAdjust="spacingAndGlyphs" style="stroke:#141414;stroke-width:0.22" fill="#141414">0</text>
<line x1="53.8" y1="672.6" x2="57.6" y2="672.6" stroke="#000" stroke-width="1.1"/>
<text x="50" y="675" font-size="6.4" text-anchor="end" textLength="14" lengthAdjust="spacingAndGlyphs" style="stroke:#141414;stroke-width:0.22" fill="#141414">2000</text>
<line x1="53.8" y1="636.5" x2="57.6" y2="636.5" stroke="#000" stroke-width="1.1"/>
<text x="50" y="638.9" font-size="6.4" text-anchor="end" textLength="14" lengthAdjust="spacingAndGlyphs" style="stroke:#141414;stroke-width:0.22" fill="#141414">4000</text>
<line x1="57.6" y1="717.5" x2="203.5" y2="717.5" stroke="#000" stroke-width="1.45"/>
<line x1="72.7" y1="717.5" x2="72.7" y2="720.5" stroke="#000" stroke-width="1.1"/>
<line x1="102.2" y1="717.5" x2="102.2" y2="720.5" stroke="#000" stroke-width="1.1"/>
<line x1="131.9" y1="717.5" x2="131.9" y2="720.5" stroke="#000" stroke-width="1.1"/>
<line x1="161.6" y1="717.5" x2="161.6" y2="720.5" stroke="#000" stroke-width="1.1"/>
<line x1="191.2" y1="717.5" x2="191.2" y2="720.5" stroke="#000" stroke-width="1.1"/>
<text transform="translate(29.3,668.8) rotate(-90)" font-size="8.2" text-anchor="middle" fill="#1e1e1e" textLength="47" lengthAdjust="spacingAndGlyphs">PD-1<tspan baseline-shift="3.2" font-size="5.2">+</tspan>CD3<tspan baseline-shift="3.2" font-size="5.2">+</tspan> (#)</text>
<g fill="#a2ad94" stroke="#384b29" stroke-width="0.85"><circle cx="72.7" cy="688.8" r="1.45"/><circle cx="72.1" cy="693" r="1.45"/><circle cx="76.2" cy="693.4" r="1.45"/><circle cx="67.9" cy="693.9" r="1.45"/><circle cx="72.7" cy="699.7" r="1.45"/><circle cx="68.6" cy="700.6" r="1.45"/><circle cx="76.5" cy="701.5" r="1.45"/><circle cx="64.8" cy="702.4" r="1.45"/><circle cx="80.3" cy="703.3" r="1.45"/><circle cx="81.1" cy="703.6" r="1.45"/><circle cx="72.7" cy="704" r="1.45"/><circle cx="70.3" cy="704.4" r="1.45"/><circle cx="80.5" cy="704.7" r="1.45"/><circle cx="80.4" cy="705.1" r="1.45"/><circle cx="73.1" cy="705.5" r="1.45"/><circle cx="73.8" cy="705.8" r="1.45"/><circle cx="67.6" cy="706" r="1.45"/><circle cx="77.6" cy="706.2" r="1.45"/><circle cx="72.5" cy="706.5" r="1.45"/><circle cx="77.2" cy="706.9" r="1.45"/><circle cx="79.9" cy="707.1" r="1.45"/><circle cx="74.8" cy="707.3" r="1.45"/><circle cx="76" cy="707.4" r="1.45"/><circle cx="73.5" cy="707.6" r="1.45"/><circle cx="66.4" cy="707.8" r="1.45"/><circle cx="72" cy="708" r="1.45"/><circle cx="65.3" cy="708.2" r="1.45"/><circle cx="67.3" cy="708.3" r="1.45"/><circle cx="80.9" cy="708.5" r="1.45"/><circle cx="70.7" cy="708.6" r="1.45"/><circle cx="66.5" cy="708.7" r="1.45"/></g>
<g fill="#2f4060" stroke="#1c2740" stroke-width="0.5"><circle cx="102.2" cy="630.2" r="1.65"/><circle cx="98.5" cy="631.1" r="1.65"/><circle cx="102.2" cy="650.9" r="1.65"/><circle cx="98.4" cy="650.9" r="1.65"/><circle cx="102.2" cy="667.2" r="1.65"/><circle cx="98.5" cy="668.1" r="1.65"/><circle cx="105.6" cy="669" r="1.65"/><circle cx="95.8" cy="670.8" r="1.65"/><circle cx="102.2" cy="672.6" r="1.65"/><circle cx="98.8" cy="674.4" r="1.65"/><circle cx="102.2" cy="676.8" r="1.65"/><circle cx="106" cy="677.2" r="1.65"/><circle cx="98.7" cy="678.3" r="1.65"/><circle cx="94.9" cy="678.6" r="1.65"/><circle cx="109.3" cy="679" r="1.65"/><circle cx="102.2" cy="680.7" r="1.65"/><circle cx="99" cy="682.7" r="1.65"/><circle cx="105.2" cy="683" r="1.65"/><circle cx="109" cy="683.1" r="1.65"/><circle cx="95.3" cy="683.7" r="1.65"/><circle cx="105.9" cy="684.1" r="1.65"/><circle cx="107.2" cy="684.5" r="1.65"/><circle cx="94" cy="684.7" r="1.65"/><circle cx="102" cy="685.2" r="1.65"/><circle cx="111.4" cy="686.1" r="1.65"/><circle cx="104.5" cy="686.3" r="1.65"/><circle cx="98.1" cy="686.4" r="1.65"/><circle cx="93.1" cy="686.7" r="1.65"/><circle cx="106.7" cy="687" r="1.65"/><circle cx="107.8" cy="687.5" r="1.65"/><circle cx="98.8" cy="687.7" r="1.65"/><circle cx="92.8" cy="687.7" r="1.65"/><circle cx="106.6" cy="687.8" r="1.65"/><circle cx="111.7" cy="688.4" r="1.65"/><circle cx="102.2" cy="689.4" r="1.65"/><circle cx="104.5" cy="689.5" r="1.65"/><circle cx="99.7" cy="689.7" r="1.65"/><circle cx="99" cy="689.9" r="1.65"/><circle cx="108.1" cy="690.3" r="1.65"/><circle cx="111.1" cy="690.6" r="1.65"/><circle cx="95.3" cy="690.9" r="1.65"/><circle cx="99.6" cy="691.7" r="1.65"/><circle cx="96.9" cy="692.1" r="1.65"/><circle cx="111.6" cy="692.2" r="1.65"/><circle cx="100.8" cy="692.3" r="1.65"/><circle cx="101.1" cy="692.4" r="1.65"/><circle cx="98.6" cy="692.7" r="1.65"/><circle cx="106.5" cy="692.7" r="1.65"/><circle cx="111.4" cy="693.2" r="1.65"/><circle cx="101.6" cy="693.6" r="1.65"/><circle cx="108.9" cy="693.6" r="1.65"/><circle cx="92.8" cy="693.7" r="1.65"/><circle cx="100.3" cy="694.1" r="1.65"/><circle cx="100.7" cy="694.2" r="1.65"/><circle cx="107.9" cy="694.5" r="1.65"/><circle cx="111.1" cy="694.7" r="1.65"/><circle cx="107" cy="695.3" r="1.65"/><circle cx="106.1" cy="695.5" r="1.65"/><circle cx="108.4" cy="695.6" r="1.65"/><circle cx="110.2" cy="695.6" r="1.65"/><circle cx="110.8" cy="695.8" r="1.65"/><circle cx="97.1" cy="696.2" r="1.65"/><circle cx="102.8" cy="696.3" r="1.65"/><circle cx="100.1" cy="696.4" r="1.65"/><circle cx="93.7" cy="697.8" r="1.65"/><circle cx="92.8" cy="698.1" r="1.65"/><circle cx="102.7" cy="698.9" r="1.65"/><circle cx="99.5" cy="699.1" r="1.65"/><circle cx="106.5" cy="699.5" r="1.65"/><circle cx="110.2" cy="700" r="1.65"/><circle cx="92.7" cy="700.4" r="1.65"/><circle cx="111.6" cy="700.8" r="1.65"/><circle cx="98.5" cy="701" r="1.65"/><circle cx="110.4" cy="701" r="1.65"/><circle cx="93" cy="701.1" r="1.65"/><circle cx="99.5" cy="701.1" r="1.65"/><circle cx="107.6" cy="701.4" r="1.65"/><circle cx="105.5" cy="701.5" r="1.65"/><circle cx="105.5" cy="701.7" r="1.65"/><circle cx="102" cy="701.9" r="1.65"/><circle cx="94.4" cy="702.1" r="1.65"/><circle cx="108.5" cy="702.2" r="1.65"/><circle cx="107.2" cy="702.3" r="1.65"/><circle cx="101.8" cy="702.5" r="1.65"/><circle cx="103.4" cy="702.5" r="1.65"/><circle cx="108" cy="702.6" r="1.65"/><circle cx="102.1" cy="702.8" r="1.65"/><circle cx="101.7" cy="702.9" r="1.65"/><circle cx="101.9" cy="704" r="1.65"/><circle cx="106.7" cy="704.1" r="1.65"/><circle cx="106.7" cy="704.1" r="1.65"/><circle cx="98" cy="704.8" r="1.65"/><circle cx="111.3" cy="704.8" r="1.65"/><circle cx="99.1" cy="705" r="1.65"/><circle cx="107.5" cy="705.3" r="1.65"/><circle cx="94.5" cy="706.3" r="1.65"/><circle cx="99.8" cy="706.5" r="1.65"/><circle cx="105.5" cy="707" r="1.65"/><circle cx="99.9" cy="707" r="1.65"/><circle cx="109.8" cy="707.2" r="1.65"/><circle cx="110.6" cy="707.6" r="1.65"/><circle cx="107.5" cy="708.1" r="1.65"/><circle cx="99.9" cy="708.2" r="1.65"/><circle cx="99.4" cy="708.3" r="1.65"/><circle cx="100.9" cy="708.4" r="1.65"/></g>
<g fill="#cf9a3e" stroke="#4e360c" stroke-width="0.75"><circle cx="131.9" cy="641.9" r="1.6"/><circle cx="131.9" cy="650.9" r="1.6"/><circle cx="131.9" cy="667.2" r="1.6"/><circle cx="128.2" cy="668.1" r="1.6"/><circle cx="134.6" cy="669.9" r="1.6"/><circle cx="125.5" cy="670.8" r="1.6"/><circle cx="131.9" cy="672.6" r="1.6"/><circle cx="128.5" cy="674.4" r="1.6"/><circle cx="131.9" cy="677" r="1.6"/><circle cx="135.7" cy="677.4" r="1.6"/><circle cx="128.5" cy="678.7" r="1.6"/><circle cx="132.9" cy="680.7" r="1.6"/><circle cx="137.3" cy="680.9" r="1.6"/><circle cx="130.9" cy="683.9" r="1.6"/><circle cx="134.7" cy="684.4" r="1.6"/><circle cx="127.1" cy="684.4" r="1.6"/><circle cx="138.4" cy="685" r="1.6"/><circle cx="131.9" cy="687.8" r="1.6"/><circle cx="135.9" cy="688" r="1.6"/><circle cx="128.1" cy="688.2" r="1.6"/><circle cx="124.3" cy="688.3" r="1.6"/><circle cx="130.5" cy="691.4" r="1.6"/><circle cx="134.3" cy="691.8" r="1.6"/><circle cx="126.7" cy="691.8" r="1.6"/><circle cx="138.1" cy="692" r="1.6"/><circle cx="122.9" cy="692.2" r="1.6"/><circle cx="122.6" cy="692.6" r="1.6"/><circle cx="132.4" cy="692.8" r="1.6"/><circle cx="127.2" cy="693" r="1.6"/><circle cx="124.1" cy="693.1" r="1.6"/><circle cx="123.5" cy="693.2" r="1.6"/><circle cx="125.3" cy="693.5" r="1.6"/><circle cx="130" cy="693.7" r="1.6"/><circle cx="141.1" cy="694.3" r="1.6"/><circle cx="125.6" cy="694.5" r="1.6"/><circle cx="131.2" cy="694.9" r="1.6"/><circle cx="125.5" cy="695.1" r="1.6"/><circle cx="135.5" cy="695.4" r="1.6"/><circle cx="136.4" cy="695.6" r="1.6"/><circle cx="139" cy="695.7" r="1.6"/><circle cx="128.6" cy="695.8" r="1.6"/><circle cx="123.8" cy="696" r="1.6"/><circle cx="140.7" cy="696.1" r="1.6"/><circle cx="124" cy="696.5" r="1.6"/><circle cx="134.7" cy="697.3" r="1.6"/><circle cx="136.8" cy="698.1" r="1.6"/><circle cx="131.6" cy="698.5" r="1.6"/><circle cx="139.3" cy="698.8" r="1.6"/><circle cx="125.2" cy="698.9" r="1.6"/><circle cx="136.1" cy="699" r="1.6"/><circle cx="139.6" cy="699.3" r="1.6"/><circle cx="139.4" cy="699.4" r="1.6"/><circle cx="138.5" cy="699.5" r="1.6"/><circle cx="130.7" cy="699.6" r="1.6"/><circle cx="132.1" cy="699.7" r="1.6"/><circle cx="138.5" cy="700" r="1.6"/><circle cx="129.6" cy="700.1" r="1.6"/><circle cx="127.2" cy="700.3" r="1.6"/><circle cx="123" cy="700.3" r="1.6"/><circle cx="126.3" cy="700.5" r="1.6"/><circle cx="125.1" cy="700.6" r="1.6"/><circle cx="140.1" cy="700.9" r="1.6"/><circle cx="128.3" cy="701.1" r="1.6"/><circle cx="129.1" cy="701.2" r="1.6"/><circle cx="140.9" cy="701.4" r="1.6"/><circle cx="135.5" cy="702" r="1.6"/><circle cx="130.6" cy="702" r="1.6"/><circle cx="124.4" cy="702.9" r="1.6"/><circle cx="129.3" cy="703.2" r="1.6"/><circle cx="127.9" cy="703.2" r="1.6"/><circle cx="140.4" cy="703.6" r="1.6"/><circle cx="130.4" cy="703.9" r="1.6"/><circle cx="140.9" cy="704.1" r="1.6"/><circle cx="127.5" cy="704.3" r="1.6"/><circle cx="123.3" cy="704.6" r="1.6"/><circle cx="139.5" cy="704.8" r="1.6"/><circle cx="123.8" cy="704.9" r="1.6"/><circle cx="137.4" cy="704.9" r="1.6"/><circle cx="133.7" cy="705.1" r="1.6"/><circle cx="127.8" cy="705.2" r="1.6"/><circle cx="138.2" cy="706" r="1.6"/><circle cx="130.6" cy="706.1" r="1.6"/><circle cx="141.1" cy="706.3" r="1.6"/><circle cx="133" cy="707.1" r="1.6"/><circle cx="140.3" cy="707.4" r="1.6"/><circle cx="140.1" cy="707.8" r="1.6"/><circle cx="125.7" cy="708.4" r="1.6"/><circle cx="129.5" cy="708.5" r="1.6"/><circle cx="135.5" cy="708.5" r="1.6"/></g>
<g fill="#7b1834" stroke="#561022" stroke-width="0.5"><circle cx="161.6" cy="667.2" r="1.65"/><circle cx="158.1" cy="668.1" r="1.65"/><circle cx="164.7" cy="669" r="1.65"/><circle cx="161.6" cy="670.8" r="1.65"/><circle cx="158.5" cy="672.6" r="1.65"/><circle cx="164" cy="673.5" r="1.65"/><circle cx="167.5" cy="674.4" r="1.65"/><circle cx="161.6" cy="676.2" r="1.65"/><circle cx="158.1" cy="677.1" r="1.65"/><circle cx="164.7" cy="678" r="1.65"/><circle cx="161.6" cy="679.8" r="1.65"/><circle cx="158.5" cy="681.6" r="1.65"/><circle cx="161.6" cy="683.8" r="1.65"/><circle cx="165.1" cy="684.7" r="1.65"/><circle cx="156.8" cy="684.8" r="1.65"/><circle cx="168.7" cy="685.3" r="1.65"/><circle cx="153.3" cy="685.4" r="1.65"/><circle cx="165.3" cy="686.2" r="1.65"/><circle cx="159.9" cy="687" r="1.65"/><circle cx="167.8" cy="687.3" r="1.65"/><circle cx="156.8" cy="688.7" r="1.65"/><circle cx="162.6" cy="689.3" r="1.65"/><circle cx="153.2" cy="689.4" r="1.65"/><circle cx="170.7" cy="689.5" r="1.65"/><circle cx="162.9" cy="689.6" r="1.65"/><circle cx="163.8" cy="689.7" r="1.65"/><circle cx="154.8" cy="690.7" r="1.65"/><circle cx="167.9" cy="690.7" r="1.65"/><circle cx="164.3" cy="690.8" r="1.65"/><circle cx="164.4" cy="691" r="1.65"/><circle cx="159.5" cy="691.1" r="1.65"/><circle cx="157.9" cy="691.4" r="1.65"/><circle cx="166.6" cy="692" r="1.65"/><circle cx="162.1" cy="692.1" r="1.65"/><circle cx="158.2" cy="692.3" r="1.65"/><circle cx="170.9" cy="692.4" r="1.65"/><circle cx="166.8" cy="692.5" r="1.65"/><circle cx="165" cy="693.1" r="1.65"/><circle cx="168.1" cy="693.1" r="1.65"/><circle cx="152.2" cy="693.2" r="1.65"/><circle cx="165.3" cy="693.5" r="1.65"/><circle cx="159.4" cy="693.6" r="1.65"/><circle cx="170.3" cy="693.6" r="1.65"/><circle cx="169.3" cy="694.3" r="1.65"/><circle cx="164.9" cy="694.3" r="1.65"/><circle cx="160.4" cy="694.3" r="1.65"/><circle cx="161.6" cy="694.4" r="1.65"/><circle cx="153" cy="694.4" r="1.65"/><circle cx="169" cy="694.8" r="1.65"/><circle cx="167.9" cy="695" r="1.65"/><circle cx="163.4" cy="695.1" r="1.65"/><circle cx="161" cy="695.5" r="1.65"/><circle cx="167.4" cy="695.5" r="1.65"/><circle cx="156.4" cy="695.6" r="1.65"/><circle cx="152.5" cy="695.7" r="1.65"/><circle cx="159.7" cy="695.9" r="1.65"/><circle cx="156.9" cy="696.1" r="1.65"/><circle cx="163.7" cy="696.2" r="1.65"/><circle cx="158.8" cy="696.4" r="1.65"/><circle cx="163.6" cy="696.4" r="1.65"/><circle cx="169.2" cy="696.4" r="1.65"/><circle cx="159.9" cy="696.4" r="1.65"/><circle cx="154.3" cy="696.7" r="1.65"/><circle cx="152.3" cy="696.8" r="1.65"/><circle cx="168" cy="696.8" r="1.65"/><circle cx="161" cy="696.9" r="1.65"/><circle cx="160.5" cy="697.1" r="1.65"/><circle cx="152.7" cy="697.2" r="1.65"/><circle cx="154.1" cy="697.5" r="1.65"/><circle cx="152.1" cy="697.7" r="1.65"/><circle cx="169.1" cy="697.7" r="1.65"/><circle cx="153" cy="697.8" r="1.65"/><circle cx="158.2" cy="698.2" r="1.65"/><circle cx="161.1" cy="698.2" r="1.65"/><circle cx="163" cy="698.3" r="1.65"/><circle cx="156.3" cy="698.5" r="1.65"/><circle cx="164.4" cy="698.6" r="1.65"/><circle cx="164.2" cy="698.7" r="1.65"/><circle cx="170.8" cy="699" r="1.65"/><circle cx="153.9" cy="699" r="1.65"/><circle cx="157.7" cy="699.5" r="1.65"/><circle cx="154.1" cy="699.7" r="1.65"/><circle cx="157.6" cy="699.8" r="1.65"/><circle cx="156.2" cy="699.9" r="1.65"/><circle cx="152.7" cy="699.9" r="1.65"/><circle cx="167.4" cy="700.2" r="1.65"/><circle cx="157.3" cy="700.2" r="1.65"/><circle cx="166.3" cy="700.2" r="1.65"/><circle cx="167.6" cy="700.4" r="1.65"/><circle cx="167.2" cy="700.4" r="1.65"/><circle cx="152.6" cy="700.4" r="1.65"/><circle cx="163.2" cy="700.5" r="1.65"/><circle cx="168.3" cy="700.7" r="1.65"/><circle cx="164.1" cy="700.8" r="1.65"/><circle cx="163.6" cy="701" r="1.65"/><circle cx="160.2" cy="701.3" r="1.65"/><circle cx="167.7" cy="701.3" r="1.65"/><circle cx="162.2" cy="701.3" r="1.65"/><circle cx="158.8" cy="701.4" r="1.65"/><circle cx="161.5" cy="701.5" r="1.65"/><circle cx="161.1" cy="701.6" r="1.65"/><circle cx="155.7" cy="701.7" r="1.65"/><circle cx="164.9" cy="701.8" r="1.65"/><circle cx="168" cy="701.8" r="1.65"/><circle cx="164.5" cy="701.9" r="1.65"/><circle cx="152.3" cy="702" r="1.65"/><circle cx="159.8" cy="702" r="1.65"/><circle cx="166.7" cy="702" r="1.65"/><circle cx="154.6" cy="702.4" r="1.65"/><circle cx="161.7" cy="702.5" r="1.65"/><circle cx="165.1" cy="702.9" r="1.65"/><circle cx="162.2" cy="703" r="1.65"/><circle cx="158.4" cy="703" r="1.65"/><circle cx="152.4" cy="703.1" r="1.65"/><circle cx="165.5" cy="703.2" r="1.65"/><circle cx="155.3" cy="703.3" r="1.65"/><circle cx="163.5" cy="703.4" r="1.65"/><circle cx="162.1" cy="703.6" r="1.65"/><circle cx="165.8" cy="703.6" r="1.65"/><circle cx="170.8" cy="704.1" r="1.65"/><circle cx="154.2" cy="704.3" r="1.65"/><circle cx="170.6" cy="704.3" r="1.65"/><circle cx="166.3" cy="704.4" r="1.65"/><circle cx="168.7" cy="704.6" r="1.65"/><circle cx="155.6" cy="704.7" r="1.65"/><circle cx="165.8" cy="704.8" r="1.65"/><circle cx="159.3" cy="704.9" r="1.65"/><circle cx="165.4" cy="704.9" r="1.65"/><circle cx="165.4" cy="705" r="1.65"/><circle cx="159.9" cy="705.1" r="1.65"/><circle cx="170.1" cy="705.2" r="1.65"/><circle cx="160.4" cy="705.3" r="1.65"/><circle cx="161" cy="705.6" r="1.65"/><circle cx="165.7" cy="705.7" r="1.65"/><circle cx="155" cy="706.1" r="1.65"/><circle cx="169.1" cy="706.2" r="1.65"/><circle cx="158.4" cy="706.3" r="1.65"/><circle cx="169" cy="706.3" r="1.65"/><circle cx="154.9" cy="706.4" r="1.65"/><circle cx="154.5" cy="706.4" r="1.65"/><circle cx="163.3" cy="706.4" r="1.65"/><circle cx="156.7" cy="706.5" r="1.65"/><circle cx="160.5" cy="706.5" r="1.65"/><circle cx="155.9" cy="706.7" r="1.65"/><circle cx="165.9" cy="706.7" r="1.65"/><circle cx="166.1" cy="706.8" r="1.65"/><circle cx="165.1" cy="706.8" r="1.65"/><circle cx="154.7" cy="706.8" r="1.65"/><circle cx="153" cy="707" r="1.65"/><circle cx="163.2" cy="707" r="1.65"/><circle cx="153.6" cy="707.2" r="1.65"/><circle cx="165.7" cy="707.3" r="1.65"/><circle cx="162.5" cy="707.8" r="1.65"/><circle cx="169.8" cy="707.9" r="1.65"/><circle cx="167.6" cy="707.9" r="1.65"/><circle cx="164.6" cy="708" r="1.65"/><circle cx="167.8" cy="708.2" r="1.65"/><circle cx="161.7" cy="708.2" r="1.65"/><circle cx="157.6" cy="708.5" r="1.65"/></g>
<g fill="#a2ad94" stroke="#384b29" stroke-width="0.85"><circle cx="191.2" cy="692.8" r="1.45"/><circle cx="191.2" cy="697.9" r="1.45"/><circle cx="187.1" cy="698.8" r="1.45"/><circle cx="195" cy="699.7" r="1.45"/><circle cx="183.9" cy="701.5" r="1.45"/><circle cx="191.2" cy="702.4" r="1.45"/><circle cx="197.2" cy="703.3" r="1.45"/><circle cx="187.4" cy="704.2" r="1.45"/><circle cx="191.2" cy="706.9" r="1.45"/><circle cx="195.3" cy="707.8" r="1.45"/><circle cx="186.8" cy="708.3" r="1.45"/><circle cx="199.4" cy="708.7" r="1.45"/></g>
<line x1="72.7" y1="699.4" x2="72.7" y2="709.6" stroke="#000" stroke-width="1.35"/>
<line x1="68.2" y1="699.4" x2="77.2" y2="699.4" stroke="#000" stroke-width="1.4"/>
<line x1="68.2" y1="709.6" x2="77.2" y2="709.6" stroke="#000" stroke-width="1.4"/>
<line x1="63.2" y1="704.6" x2="82.2" y2="704.6" stroke="#000" stroke-width="1.6"/>
<line x1="102.2" y1="679.6" x2="102.2" y2="711.9" stroke="#000" stroke-width="1.35"/>
<line x1="97.7" y1="679.6" x2="106.7" y2="679.6" stroke="#000" stroke-width="1.4"/>
<line x1="97.7" y1="711.9" x2="106.7" y2="711.9" stroke="#000" stroke-width="1.4"/>
<line x1="92.7" y1="695.6" x2="111.7" y2="695.6" stroke="#000" stroke-width="1.6"/>
<line x1="131.9" y1="683.7" x2="131.9" y2="710.5" stroke="#000" stroke-width="1.35"/>
<line x1="127.4" y1="683.7" x2="136.4" y2="683.7" stroke="#000" stroke-width="1.4"/>
<line x1="127.4" y1="710.5" x2="136.4" y2="710.5" stroke="#000" stroke-width="1.4"/>
<line x1="122.4" y1="697.5" x2="141.4" y2="697.5" stroke="#000" stroke-width="1.6"/>
<line x1="191.2" y1="698.6" x2="191.2" y2="708.9" stroke="#000" stroke-width="1.35"/>
<line x1="186.4" y1="698.6" x2="196" y2="698.6" stroke="#000" stroke-width="1.4"/>
<line x1="186.4" y1="708.9" x2="196" y2="708.9" stroke="#000" stroke-width="1.4"/>
<line x1="181.2" y1="703.5" x2="201.2" y2="703.5" stroke="#000" stroke-width="1.6"/>
<text x="72.7" y="731.6" font-size="6.4" text-anchor="middle" fill="#2a2a2a">[0-10]</text>
<text x="72.7" y="739.2" font-size="6.4" text-anchor="middle" fill="#2a2a2a">n=31</text>
<text x="102.2" y="731.6" font-size="6.4" text-anchor="middle" fill="#2a2a2a">(10-30]</text>
<text x="102.2" y="739.2" font-size="6.4" text-anchor="middle" fill="#2a2a2a">n=105</text>
<text x="131.9" y="731.6" font-size="6.4" text-anchor="middle" fill="#2a2a2a">(30-40]</text>
<text x="131.9" y="739.2" font-size="6.4" text-anchor="middle" fill="#2a2a2a">n=89</text>
<text x="161.6" y="731.6" font-size="6.4" text-anchor="middle" fill="#2a2a2a">(40-70]</text>
<text x="161.6" y="739.2" font-size="6.4" text-anchor="middle" fill="#2a2a2a">n=159</text>
<text x="191.2" y="731.6" font-size="6.4" text-anchor="middle" fill="#2a2a2a">&gt;70</text>
<text x="191.2" y="739.2" font-size="6.4" text-anchor="middle" fill="#2a2a2a">n=12</text>
<text x="210.4" y="718.2" font-size="6.8" fill="#2a2a2a" textLength="41.5" lengthAdjust="spacingAndGlyphs">PD-L1<tspan baseline-shift="3.2" font-size="5.2">+</tspan>CD68<tspan baseline-shift="3.2" font-size="5.2">+</tspan></text>
<text x="210.8" y="725.8" font-size="6.4" fill="#2a2a2a">(%)</text>
<text x="268.5" y="612.7" font-size="14" font-weight="bold" style="stroke:#000;stroke-width:0.35" fill="#000">E</text>
<line x1="316.5" y1="615.5" x2="316.5" y2="717.7" stroke="#000" stroke-width="1.45"/>
<line x1="312.7" y1="717.7" x2="316.5" y2="717.7" stroke="#000" stroke-width="1.1"/>
<text x="308.9" y="720.1" font-size="6.4" text-anchor="end" textLength="3.5" lengthAdjust="spacingAndGlyphs" style="stroke:#141414;stroke-width:0.22" fill="#141414">0</text>
<line x1="312.7" y1="697.9" x2="316.5" y2="697.9" stroke="#000" stroke-width="1.1"/>
<text x="308.9" y="700.3" font-size="6.4" text-anchor="end" textLength="13.8" lengthAdjust="spacingAndGlyphs" style="stroke:#141414;stroke-width:0.22" fill="#141414">1000</text>
<line x1="312.7" y1="678.2" x2="316.5" y2="678.2" stroke="#000" stroke-width="1.1"/>
<text x="308.9" y="680.6" font-size="6.4" text-anchor="end" textLength="13.8" lengthAdjust="spacingAndGlyphs" style="stroke:#141414;stroke-width:0.22" fill="#141414">2000</text>
<line x1="312.7" y1="658.4" x2="316.5" y2="658.4" stroke="#000" stroke-width="1.1"/>
<text x="308.9" y="660.8" font-size="6.4" text-anchor="end" textLength="13.8" lengthAdjust="spacingAndGlyphs" style="stroke:#141414;stroke-width:0.22" fill="#141414">3000</text>
<line x1="312.7" y1="638.7" x2="316.5" y2="638.7" stroke="#000" stroke-width="1.1"/>
<text x="308.9" y="641.1" font-size="6.4" text-anchor="end" textLength="13.8" lengthAdjust="spacingAndGlyphs" style="stroke:#141414;stroke-width:0.22" fill="#141414">4000</text>
<line x1="312.7" y1="618.9" x2="316.5" y2="618.9" stroke="#000" stroke-width="1.1"/>
<text x="308.9" y="621.3" font-size="6.4" text-anchor="end" textLength="13.8" lengthAdjust="spacingAndGlyphs" style="stroke:#141414;stroke-width:0.22" fill="#141414">5000</text>
<line x1="316.5" y1="717.7" x2="469" y2="717.7" stroke="#000" stroke-width="1.45"/>
<line x1="316.6" y1="717.7" x2="316.6" y2="720.5" stroke="#000" stroke-width="1.1"/>
<text x="316.6" y="731.6" font-size="6.6" text-anchor="middle" textLength="3.1" lengthAdjust="spacingAndGlyphs" fill="#2a2a2a">0</text>
<line x1="353.7" y1="717.7" x2="353.7" y2="720.5" stroke="#000" stroke-width="1.1"/>
<text x="353.7" y="731.6" font-size="6.6" text-anchor="middle" textLength="12.4" lengthAdjust="spacingAndGlyphs" fill="#2a2a2a">1000</text>
<line x1="390.9" y1="717.7" x2="390.9" y2="720.5" stroke="#000" stroke-width="1.1"/>
<text x="390.9" y="731.6" font-size="6.6" text-anchor="middle" textLength="12.4" lengthAdjust="spacingAndGlyphs" fill="#2a2a2a">2000</text>
<line x1="428" y1="717.7" x2="428" y2="720.5" stroke="#000" stroke-width="1.1"/>
<text x="428" y="731.6" font-size="6.6" text-anchor="middle" textLength="12.4" lengthAdjust="spacingAndGlyphs" fill="#2a2a2a">3000</text>
<line x1="465.1" y1="717.7" x2="465.1" y2="720.5" stroke="#000" stroke-width="1.1"/>
<text x="465.1" y="731.6" font-size="6.6" text-anchor="middle" textLength="12.4" lengthAdjust="spacingAndGlyphs" fill="#2a2a2a">4000</text>
<text x="393.4" y="742.8" font-size="7.4" text-anchor="middle" fill="#2a2a2a">PD-L1<tspan baseline-shift="3.2" font-size="5.2">+</tspan> (#)</text>
<text transform="translate(289.7,665.8) rotate(-90)" font-size="8.2" text-anchor="middle" fill="#1e1e1e" textLength="48.5" lengthAdjust="spacingAndGlyphs">PD-1<tspan baseline-shift="3.2" font-size="5.2">+</tspan>CD3<tspan baseline-shift="3.2" font-size="5.2">+</tspan> (#)</text>
<g fill="#cf8ba0" stroke="#b86580" stroke-width="0.35"><circle cx="331.9" cy="702.6" r="0.85"/><circle cx="370" cy="712.6" r="0.85"/><circle cx="335.3" cy="702.2" r="0.85"/><circle cx="319.8" cy="702.4" r="0.85"/><circle cx="343.9" cy="695.9" r="0.85"/><circle cx="317.6" cy="710.9" r="0.85"/><circle cx="317.5" cy="684.9" r="0.85"/><circle cx="376" cy="704.3" r="0.85"/><circle cx="345.7" cy="703.6" r="0.85"/><circle cx="320" cy="713.1" r="0.85"/><circle cx="316.7" cy="704.1" r="0.85"/><circle cx="331.2" cy="688.4" r="0.85"/><circle cx="336.1" cy="700.1" r="0.85"/><circle cx="334.8" cy="698.8" r="0.85"/><circle cx="332.2" cy="712.8" r="0.85"/><circle cx="377.6" cy="703.9" r="0.85"/><circle cx="361.8" cy="705.1" r="0.85"/><circle cx="324.7" cy="713.7" r="0.85"/><circle cx="355" cy="711.8" r="0.85"/><circle cx="362.4" cy="713" r="0.85"/><circle cx="373.4" cy="705.8" r="0.85"/><circle cx="316.6" cy="713.9" r="0.85"/><circle cx="368.6" cy="712.3" r="0.85"/><circle cx="375.8" cy="714.4" r="0.85"/><circle cx="317.2" cy="695.7" r="0.85"/><circle cx="356.1" cy="714.6" r="0.85"/><circle cx="317.5" cy="709.8" r="0.85"/><circle cx="374.1" cy="707.9" r="0.85"/><circle cx="318.1" cy="712.8" r="0.85"/><circle cx="338.8" cy="708.2" r="0.85"/><circle cx="320" cy="690.6" r="0.85"/><circle cx="318.3" cy="695.2" r="0.85"/><circle cx="318" cy="706.3" r="0.85"/><circle cx="320.7" cy="712.3" r="0.85"/><circle cx="374.8" cy="707.3" r="0.85"/><circle cx="324.2" cy="682.9" r="0.85"/><circle cx="320.6" cy="707.7" r="0.85"/><circle cx="363.1" cy="707.3" r="0.85"/><circle cx="317.7" cy="672.6" r="0.85"/><circle cx="320.7" cy="712.6" r="0.85"/><circle cx="355.6" cy="713.4" r="0.85"/><circle cx="317.5" cy="698.3" r="0.85"/><circle cx="321.8" cy="698.4" r="0.85"/><circle cx="327.4" cy="706.3" r="0.85"/><circle cx="373.6" cy="712.9" r="0.85"/><circle cx="339.8" cy="690.8" r="0.85"/><circle cx="368.4" cy="704.5" r="0.85"/><circle cx="322" cy="714.7" r="0.85"/><circle cx="352.7" cy="693.4" r="0.85"/><circle cx="320.2" cy="676.7" r="0.85"/><circle cx="365.8" cy="708.9" r="0.85"/><circle cx="316.8" cy="674.1" r="0.85"/><circle cx="321.6" cy="692.7" r="0.85"/><circle cx="322.3" cy="685.9" r="0.85"/><circle cx="341.4" cy="713.1" r="0.85"/><circle cx="319.5" cy="691.2" r="0.85"/><circle cx="317.2" cy="713.4" r="0.85"/><circle cx="338.8" cy="691.1" r="0.85"/><circle cx="342.7" cy="713.5" r="0.85"/><circle cx="369.3" cy="716.3" r="0.85"/><circle cx="316.6" cy="712" r="0.85"/><circle cx="319.5" cy="708.6" r="0.85"/><circle cx="327" cy="683.8" r="0.85"/><circle cx="375.8" cy="710.4" r="0.85"/><circle cx="348.7" cy="705.4" r="0.85"/><circle cx="316.7" cy="677.8" r="0.85"/><circle cx="349.5" cy="690.8" r="0.85"/><circle cx="316.7" cy="695.2" r="0.85"/><circle cx="333.7" cy="695.2" r="0.85"/><circle cx="324.9" cy="675.8" r="0.85"/><circle cx="317.3" cy="700.2" r="0.85"/><circle cx="352.5" cy="695" r="0.85"/><circle cx="352.5" cy="702.4" r="0.85"/><circle cx="357.5" cy="696.7" r="0.85"/><circle cx="326.4" cy="695.3" r="0.85"/><circle cx="367.6" cy="702.7" r="0.85"/><circle cx="329.9" cy="690.8" r="0.85"/><circle cx="364" cy="709.2" r="0.85"/><circle cx="343.5" cy="710.9" r="0.85"/><circle cx="340.4" cy="702.6" r="0.85"/><circle cx="317.3" cy="695.2" r="0.85"/><circle cx="377.2" cy="706.4" r="0.85"/><circle cx="351.8" cy="711.7" r="0.85"/><circle cx="352.3" cy="706.4" r="0.85"/><circle cx="331.2" cy="688.7" r="0.85"/><circle cx="317.4" cy="688.7" r="0.85"/><circle cx="316.7" cy="697.2" r="0.85"/><circle cx="333.6" cy="714.2" r="0.85"/><circle cx="349.3" cy="708.3" r="0.85"/><circle cx="342.7" cy="689.5" r="0.85"/><circle cx="324.1" cy="694.9" r="0.85"/><circle cx="368.1" cy="708.2" r="0.85"/><circle cx="331.3" cy="685.7" r="0.85"/><circle cx="325.3" cy="695.9" r="0.85"/><circle cx="320.2" cy="706.1" r="0.85"/><circle cx="358.6" cy="697.3" r="0.85"/><circle cx="365.6" cy="713.4" r="0.85"/><circle cx="340.4" cy="712.4" r="0.85"/><circle cx="318.5" cy="702.9" r="0.85"/><circle cx="361.5" cy="700.8" r="0.85"/><circle cx="350.3" cy="691.8" r="0.85"/><circle cx="331.8" cy="712.9" r="0.85"/><circle cx="320.7" cy="706.9" r="0.85"/><circle cx="343.6" cy="707.4" r="0.85"/><circle cx="324.7" cy="686" r="0.85"/><circle cx="376" cy="713.7" r="0.85"/><circle cx="364.9" cy="717.6" r="0.85"/><circle cx="350.1" cy="706.2" r="0.85"/><circle cx="324.4" cy="688.7" r="0.85"/><circle cx="343.8" cy="709" r="0.85"/><circle cx="343.9" cy="701.6" r="0.85"/><circle cx="358.7" cy="695.7" r="0.85"/><circle cx="316.6" cy="703.7" r="0.85"/><circle cx="322.9" cy="709.8" r="0.85"/><circle cx="349.2" cy="707.6" r="0.85"/><circle cx="342.7" cy="697.1" r="0.85"/><circle cx="328.6" cy="690.2" r="0.85"/><circle cx="368.2" cy="717.3" r="0.85"/><circle cx="370.8" cy="707.6" r="0.85"/><circle cx="318.3" cy="704.9" r="0.85"/><circle cx="343.6" cy="690.4" r="0.85"/><circle cx="327.7" cy="701.3" r="0.85"/><circle cx="365.5" cy="703.9" r="0.85"/><circle cx="372" cy="712.9" r="0.85"/><circle cx="351.2" cy="697.7" r="0.85"/><circle cx="344.8" cy="699.4" r="0.85"/><circle cx="320.7" cy="680.4" r="0.85"/><circle cx="375.8" cy="704" r="0.85"/><circle cx="337.2" cy="693.5" r="0.85"/><circle cx="325" cy="681.7" r="0.85"/><circle cx="363.2" cy="713.8" r="0.85"/><circle cx="317.4" cy="705.3" r="0.85"/><circle cx="338.1" cy="694.9" r="0.85"/><circle cx="325.6" cy="689.3" r="0.85"/><circle cx="335.9" cy="696.3" r="0.85"/><circle cx="361.8" cy="705.6" r="0.85"/><circle cx="372.2" cy="712.5" r="0.85"/><circle cx="372.5" cy="717.4" r="0.85"/><circle cx="321" cy="701.9" r="0.85"/><circle cx="323.6" cy="692" r="0.85"/><circle cx="344.6" cy="706.6" r="0.85"/><circle cx="362.1" cy="709.1" r="0.85"/><circle cx="324.6" cy="708.7" r="0.85"/><circle cx="362.3" cy="699.4" r="0.85"/><circle cx="320.5" cy="683.5" r="0.85"/><circle cx="374.5" cy="712.4" r="0.85"/><circle cx="337.2" cy="706" r="0.85"/><circle cx="374.6" cy="712.5" r="0.85"/><circle cx="329" cy="689.8" r="0.85"/><circle cx="339" cy="706.7" r="0.85"/><circle cx="337.4" cy="709.1" r="0.85"/><circle cx="373.3" cy="704" r="0.85"/><circle cx="322.8" cy="704.7" r="0.85"/><circle cx="318.3" cy="705.7" r="0.85"/><circle cx="359.5" cy="698.2" r="0.85"/><circle cx="333.3" cy="711.8" r="0.85"/><circle cx="320" cy="697.1" r="0.85"/><circle cx="370.1" cy="717" r="0.85"/><circle cx="320.1" cy="713.5" r="0.85"/><circle cx="348.4" cy="712.9" r="0.85"/><circle cx="326.6" cy="698.6" r="0.85"/><circle cx="317.8" cy="690" r="0.85"/><circle cx="318.2" cy="702.2" r="0.85"/><circle cx="322" cy="714.4" r="0.85"/><circle cx="336.8" cy="708.3" r="0.85"/><circle cx="327.6" cy="707.9" r="0.85"/><circle cx="320.4" cy="696.4" r="0.85"/><circle cx="344.5" cy="706.4" r="0.85"/><circle cx="362.8" cy="708" r="0.85"/><circle cx="352.8" cy="698.6" r="0.85"/><circle cx="367.8" cy="714.8" r="0.85"/><circle cx="324.7" cy="680.7" r="0.85"/><circle cx="320.9" cy="673.7" r="0.85"/><circle cx="366.3" cy="716.9" r="0.85"/><circle cx="321.6" cy="691.5" r="0.85"/><circle cx="361" cy="712.1" r="0.85"/><circle cx="329.1" cy="696" r="0.85"/><circle cx="316.7" cy="714.1" r="0.85"/><circle cx="348" cy="692.4" r="0.85"/><circle cx="374.5" cy="717.2" r="0.85"/><circle cx="335.2" cy="694.4" r="0.85"/><circle cx="335" cy="697.8" r="0.85"/><circle cx="338.2" cy="705.7" r="0.85"/><circle cx="319.8" cy="714.2" r="0.85"/><circle cx="361.8" cy="696.2" r="0.85"/><circle cx="370.2" cy="717.3" r="0.85"/><circle cx="317.1" cy="675.1" r="0.85"/><circle cx="332.5" cy="693.1" r="0.85"/><circle cx="325.3" cy="705.4" r="0.85"/><circle cx="335.8" cy="708.4" r="0.85"/><circle cx="349.5" cy="695.9" r="0.85"/><circle cx="319.7" cy="705.1" r="0.85"/><circle cx="352.7" cy="711.4" r="0.85"/><circle cx="366.9" cy="704.3" r="0.85"/><circle cx="349.8" cy="695.4" r="0.85"/><circle cx="343.8" cy="710.3" r="0.85"/><circle cx="341.6" cy="706.7" r="0.85"/><circle cx="376" cy="707.7" r="0.85"/><circle cx="322.3" cy="680.4" r="0.85"/><circle cx="353.2" cy="699.9" r="0.85"/><circle cx="359.4" cy="712.2" r="0.85"/><circle cx="367.2" cy="702.3" r="0.85"/><circle cx="349" cy="698.8" r="0.85"/><circle cx="355" cy="711.7" r="0.85"/><circle cx="326" cy="705.4" r="0.85"/><circle cx="316.6" cy="708.8" r="0.85"/><circle cx="344.6" cy="703" r="0.85"/><circle cx="321.4" cy="677.7" r="0.85"/><circle cx="346.7" cy="712.4" r="0.85"/><circle cx="346.2" cy="705.4" r="0.85"/><circle cx="337" cy="709.9" r="0.85"/><circle cx="377.9" cy="710.8" r="0.85"/><circle cx="349.5" cy="699.2" r="0.85"/><circle cx="375.7" cy="717.7" r="0.85"/><circle cx="342.8" cy="697.9" r="0.85"/><circle cx="389.4" cy="711.2" r="0.85"/><circle cx="375.7" cy="715.5" r="0.85"/><circle cx="397.4" cy="716.9" r="0.85"/><circle cx="389.1" cy="695.6" r="0.85"/><circle cx="409.1" cy="708.4" r="0.85"/><circle cx="436.9" cy="706.7" r="0.85"/><circle cx="438.8" cy="704.6" r="0.85"/><circle cx="426.4" cy="717.2" r="0.85"/><circle cx="412.2" cy="700.7" r="0.85"/><circle cx="375.3" cy="694.7" r="0.85"/><circle cx="383" cy="709.4" r="0.85"/><circle cx="383.6" cy="708.7" r="0.85"/><circle cx="413.1" cy="717.3" r="0.85"/><circle cx="435.5" cy="710.7" r="0.85"/><circle cx="407.5" cy="705.8" r="0.85"/><circle cx="396.7" cy="713.8" r="0.85"/><circle cx="416.1" cy="706.9" r="0.85"/><circle cx="391.2" cy="702.1" r="0.85"/><circle cx="392.1" cy="717.7" r="0.85"/><circle cx="388.7" cy="717.5" r="0.85"/><circle cx="382.8" cy="700.9" r="0.85"/><circle cx="398.4" cy="695.9" r="0.85"/><circle cx="333.3" cy="631.7" r="0.85"/><circle cx="359.3" cy="632.7" r="0.85"/><circle cx="331.5" cy="644.6" r="0.85"/><circle cx="330.7" cy="653.5" r="0.85"/><circle cx="332.6" cy="653.9" r="0.85"/><circle cx="323.3" cy="653.5" r="0.85"/><circle cx="420.6" cy="675.2" r="0.85"/><circle cx="364.9" cy="674.2" r="0.85"/><circle cx="437.3" cy="702.9" r="0.85"/><circle cx="437.3" cy="707.8" r="0.85"/><circle cx="437.3" cy="714.1" r="0.85"/><circle cx="409.4" cy="702.9" r="0.85"/><circle cx="413.1" cy="705.8" r="0.85"/><circle cx="392.7" cy="692" r="0.85"/><circle cx="337" cy="672.3" r="0.85"/><circle cx="340.7" cy="673.2" r="0.85"/><circle cx="327.7" cy="674.2" r="0.85"/><circle cx="324" cy="677.2" r="0.85"/></g>
<g fill="#c42050" stroke="#a80c38" stroke-width="0.3"><circle cx="336.1" cy="717.6" r="0.9"/><circle cx="317.7" cy="715.1" r="0.9"/><circle cx="324.5" cy="716.6" r="0.9"/><circle cx="367.7" cy="717.2" r="0.9"/><circle cx="327.1" cy="715" r="0.9"/><circle cx="334.7" cy="716.6" r="0.9"/><circle cx="371" cy="715.4" r="0.9"/><circle cx="329.7" cy="717.5" r="0.9"/><circle cx="330.4" cy="716.6" r="0.9"/><circle cx="319.8" cy="717.6" r="0.9"/><circle cx="327.2" cy="717.5" r="0.9"/><circle cx="324.9" cy="715.9" r="0.9"/><circle cx="325.2" cy="717.2" r="0.9"/><circle cx="328.9" cy="716.7" r="0.9"/><circle cx="337.8" cy="716.4" r="0.9"/><circle cx="335.3" cy="717.2" r="0.9"/><circle cx="318.3" cy="715.1" r="0.9"/><circle cx="338.2" cy="716.1" r="0.9"/><circle cx="322.9" cy="717.2" r="0.9"/><circle cx="332.9" cy="716.3" r="0.9"/><circle cx="329.2" cy="716.1" r="0.9"/><circle cx="336.4" cy="717.4" r="0.9"/><circle cx="320.6" cy="714.8" r="0.9"/><circle cx="351.5" cy="715.2" r="0.9"/><circle cx="317.2" cy="717.6" r="0.9"/><circle cx="321.1" cy="716.7" r="0.9"/><circle cx="330.4" cy="717.5" r="0.9"/><circle cx="327.6" cy="717.6" r="0.9"/><circle cx="317.9" cy="715.9" r="0.9"/><circle cx="327.9" cy="716.1" r="0.9"/><circle cx="323.2" cy="716.6" r="0.9"/><circle cx="319.9" cy="717" r="0.9"/><circle cx="335.9" cy="715.3" r="0.9"/><circle cx="317.7" cy="717.5" r="0.9"/><circle cx="340" cy="716.1" r="0.9"/><circle cx="337.3" cy="717.3" r="0.9"/><circle cx="324.4" cy="717.2" r="0.9"/><circle cx="340" cy="716.9" r="0.9"/><circle cx="331.6" cy="714.8" r="0.9"/><circle cx="322.2" cy="716.3" r="0.9"/><circle cx="335.9" cy="715" r="0.9"/><circle cx="324.5" cy="716.9" r="0.9"/><circle cx="318" cy="715.2" r="0.9"/><circle cx="317.8" cy="717.6" r="0.9"/><circle cx="328.3" cy="716.5" r="0.9"/><circle cx="332.9" cy="717.1" r="0.9"/><circle cx="337.7" cy="717.6" r="0.9"/><circle cx="320" cy="716" r="0.9"/><circle cx="317.8" cy="717.1" r="0.9"/><circle cx="334.8" cy="715.9" r="0.9"/><circle cx="321.3" cy="717.5" r="0.9"/><circle cx="322.8" cy="715.7" r="0.9"/><circle cx="323" cy="717.5" r="0.9"/><circle cx="334" cy="716.3" r="0.9"/><circle cx="352" cy="715" r="0.9"/><circle cx="351.1" cy="716.7" r="0.9"/><circle cx="339.5" cy="717.1" r="0.9"/><circle cx="322" cy="716.8" r="0.9"/><circle cx="355.1" cy="715.1" r="0.9"/><circle cx="320.6" cy="716.9" r="0.9"/><circle cx="323" cy="716.9" r="0.9"/><circle cx="323.7" cy="716.8" r="0.9"/><circle cx="319.7" cy="716.3" r="0.9"/><circle cx="339.1" cy="716.4" r="0.9"/><circle cx="342.1" cy="716.3" r="0.9"/><circle cx="319.3" cy="715.6" r="0.9"/><circle cx="346.6" cy="717.1" r="0.9"/><circle cx="316.9" cy="716.4" r="0.9"/><circle cx="327.7" cy="716.3" r="0.9"/><circle cx="364.5" cy="716" r="0.9"/><circle cx="339.6" cy="717.6" r="0.9"/><circle cx="327.8" cy="715.5" r="0.9"/><circle cx="317.8" cy="717.6" r="0.9"/><circle cx="335.4" cy="715.1" r="0.9"/><circle cx="317.8" cy="716.1" r="0.9"/><circle cx="318.8" cy="715.7" r="0.9"/><circle cx="331.4" cy="717.2" r="0.9"/><circle cx="320.1" cy="715.6" r="0.9"/><circle cx="327" cy="715.6" r="0.9"/><circle cx="323.7" cy="717" r="0.9"/><circle cx="365.3" cy="715.9" r="0.9"/><circle cx="326.2" cy="716.4" r="0.9"/><circle cx="334.6" cy="715.8" r="0.9"/><circle cx="351.4" cy="716.8" r="0.9"/><circle cx="341.3" cy="716" r="0.9"/><circle cx="343.7" cy="715.5" r="0.9"/><circle cx="341.9" cy="715.2" r="0.9"/><circle cx="361.3" cy="716" r="0.9"/><circle cx="327.1" cy="715.8" r="0.9"/><circle cx="339.5" cy="716.7" r="0.9"/><circle cx="324.3" cy="717.5" r="0.9"/><circle cx="335.7" cy="714.8" r="0.9"/><circle cx="323.2" cy="717.4" r="0.9"/><circle cx="319.8" cy="716.7" r="0.9"/><circle cx="321.5" cy="714.9" r="0.9"/><circle cx="317.5" cy="717.1" r="0.9"/><circle cx="318.3" cy="716" r="0.9"/><circle cx="337.7" cy="717.4" r="0.9"/><circle cx="317.5" cy="716.6" r="0.9"/><circle cx="329" cy="715.1" r="0.9"/><circle cx="317.1" cy="717.5" r="0.9"/><circle cx="319.5" cy="717.3" r="0.9"/><circle cx="320.4" cy="715.8" r="0.9"/><circle cx="329.3" cy="717.3" r="0.9"/><circle cx="319.5" cy="717.1" r="0.9"/><circle cx="319.3" cy="715.6" r="0.9"/><circle cx="321.9" cy="716.3" r="0.9"/><circle cx="340.6" cy="716.6" r="0.9"/><circle cx="320.9" cy="715.2" r="0.9"/><circle cx="351.3" cy="717" r="0.9"/><circle cx="327.8" cy="714.9" r="0.9"/><circle cx="325.9" cy="717.3" r="0.9"/><circle cx="317.3" cy="714.9" r="0.9"/><circle cx="339.4" cy="716.8" r="0.9"/><circle cx="327.2" cy="716.4" r="0.9"/><circle cx="321.1" cy="714.8" r="0.9"/><circle cx="331.7" cy="717.2" r="0.9"/><circle cx="316.8" cy="716.6" r="0.9"/><circle cx="323.2" cy="715.5" r="0.9"/><circle cx="334.2" cy="716.2" r="0.9"/><circle cx="319" cy="717.4" r="0.9"/><circle cx="322.1" cy="717.2" r="0.9"/><circle cx="345.3" cy="716.4" r="0.9"/><circle cx="330.9" cy="714.8" r="0.9"/><circle cx="321" cy="716.4" r="0.9"/><circle cx="318.9" cy="715.6" r="0.9"/><circle cx="316.6" cy="715.4" r="0.9"/><circle cx="343" cy="715.4" r="0.9"/><circle cx="317.8" cy="717.2" r="0.9"/><circle cx="334.4" cy="717.6" r="0.9"/><circle cx="325.8" cy="716.6" r="0.9"/><circle cx="360.5" cy="716.2" r="0.9"/><circle cx="344.1" cy="717.1" r="0.9"/><circle cx="338.6" cy="716.7" r="0.9"/><circle cx="351.7" cy="717.6" r="0.9"/><circle cx="341.3" cy="717.3" r="0.9"/><circle cx="327.7" cy="716.4" r="0.9"/><circle cx="319" cy="715.4" r="0.9"/><circle cx="321.9" cy="717.1" r="0.9"/><circle cx="317.7" cy="717.1" r="0.9"/><circle cx="325.5" cy="715.8" r="0.9"/><circle cx="322.9" cy="715.9" r="0.9"/><circle cx="318.2" cy="716.8" r="0.9"/><circle cx="325.3" cy="714.9" r="0.9"/><circle cx="341.6" cy="716" r="0.9"/><circle cx="316.8" cy="716.9" r="0.9"/><circle cx="334.1" cy="717.2" r="0.9"/><circle cx="328.3" cy="716.6" r="0.9"/><circle cx="316.7" cy="714.8" r="0.9"/><circle cx="339.3" cy="717.3" r="0.9"/><circle cx="330.1" cy="717.1" r="0.9"/><circle cx="323.3" cy="716.4" r="0.9"/><circle cx="321.6" cy="717" r="0.9"/><circle cx="323.6" cy="716" r="0.9"/><circle cx="320.8" cy="717.3" r="0.9"/><circle cx="335.1" cy="717" r="0.9"/><circle cx="357.5" cy="716.3" r="0.9"/><circle cx="334.8" cy="717" r="0.9"/><circle cx="341.3" cy="717.6" r="0.9"/><circle cx="318.7" cy="717.6" r="0.9"/><circle cx="332.6" cy="715.8" r="0.9"/><circle cx="319.4" cy="716.8" r="0.9"/><circle cx="342.2" cy="716.2" r="0.9"/><circle cx="317.9" cy="717.3" r="0.9"/><circle cx="319" cy="717.5" r="0.9"/><circle cx="324" cy="717.6" r="0.9"/><circle cx="352.3" cy="716.7" r="0.9"/><circle cx="326.7" cy="716" r="0.9"/><circle cx="337.1" cy="715.4" r="0.9"/><circle cx="323.5" cy="717" r="0.9"/><circle cx="321.2" cy="717.6" r="0.9"/><circle cx="321.1" cy="709.4" r="0.9"/><circle cx="327.5" cy="706.9" r="0.9"/><circle cx="324" cy="711.2" r="0.9"/><circle cx="316.8" cy="714.9" r="0.9"/><circle cx="320.4" cy="710.4" r="0.9"/><circle cx="317.8" cy="714.4" r="0.9"/><circle cx="322.3" cy="707" r="0.9"/><circle cx="325.8" cy="711.2" r="0.9"/><circle cx="318.4" cy="707.6" r="0.9"/><circle cx="326.7" cy="712.2" r="0.9"/><circle cx="320.5" cy="712.9" r="0.9"/><circle cx="318.2" cy="709.1" r="0.9"/><circle cx="327.6" cy="712.7" r="0.9"/><circle cx="324.6" cy="705.2" r="0.9"/><circle cx="318.8" cy="697.7" r="0.9"/><circle cx="323.6" cy="716.2" r="0.9"/><circle cx="317.5" cy="715.8" r="0.9"/><circle cx="323" cy="709.4" r="0.9"/><circle cx="320.3" cy="699.4" r="0.9"/><circle cx="320.6" cy="713.4" r="0.9"/><circle cx="318" cy="692.6" r="0.9"/><circle cx="318.1" cy="701.5" r="0.9"/><circle cx="322.7" cy="712" r="0.9"/><circle cx="322.8" cy="715.6" r="0.9"/><circle cx="326.7" cy="684.2" r="0.9"/><circle cx="325.7" cy="711.3" r="0.9"/><circle cx="318" cy="705.7" r="0.9"/><circle cx="319.8" cy="702" r="0.9"/><circle cx="319.3" cy="711.8" r="0.9"/><circle cx="325.9" cy="716.3" r="0.9"/><circle cx="322.7" cy="717.2" r="0.9"/><circle cx="317" cy="716.3" r="0.9"/><circle cx="327.6" cy="698.3" r="0.9"/><circle cx="323.9" cy="715.2" r="0.9"/><circle cx="324.1" cy="708.4" r="0.9"/><circle cx="320.9" cy="711.5" r="0.9"/><circle cx="325.6" cy="717.6" r="0.9"/><circle cx="318.8" cy="713.3" r="0.9"/><circle cx="318.2" cy="714.3" r="0.9"/><circle cx="322.9" cy="716.4" r="0.9"/><circle cx="322.4" cy="715.6" r="0.9"/><circle cx="322.9" cy="714.9" r="0.9"/><circle cx="323.7" cy="717.4" r="0.9"/><circle cx="324.1" cy="716.6" r="0.9"/></g>
<rect x="0" y="0" width="520" height="1.8" fill="#000"/>
<rect x="0" y="0" width="1.7" height="755" fill="#000"/>
<rect x="518.2" y="0" width="1.8" height="755" fill="#000"/>
<rect x="0" y="753" width="520" height="2" fill="#000"/>
</svg></body></html>
